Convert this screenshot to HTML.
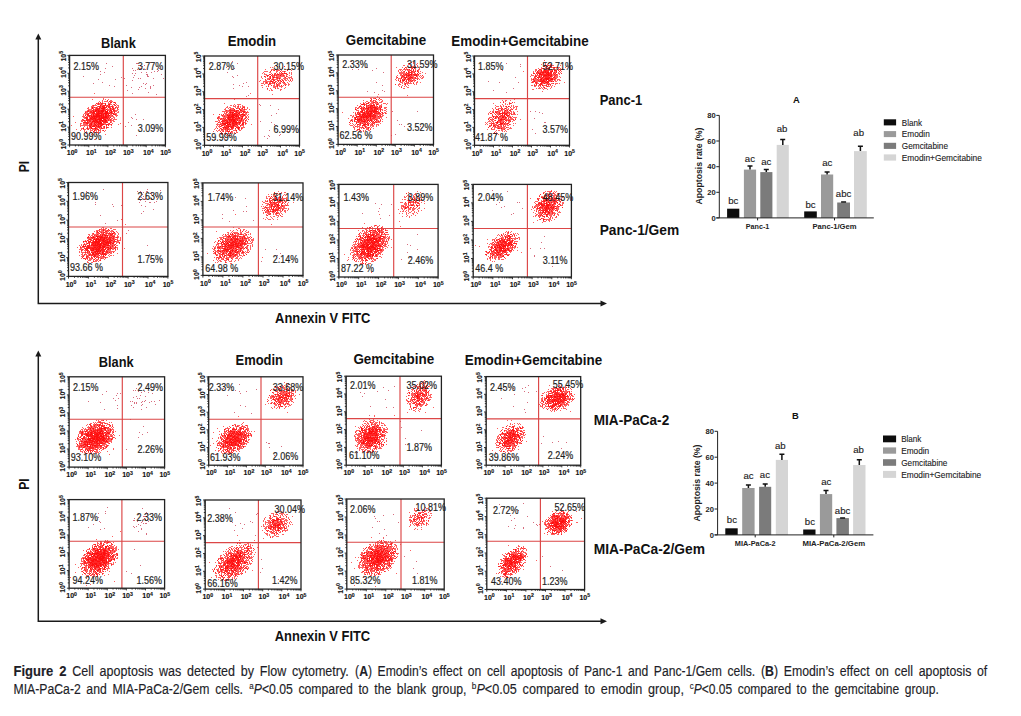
<!DOCTYPE html><html><head><meta charset="utf-8"><style>html,body{margin:0;padding:0;background:#fff;width:1021px;height:716px;overflow:hidden}svg{display:block}</style></head><body>
<svg width="1021" height="716" viewBox="0 0 1021 716" style="font-family:'Liberation Sans',Arial,sans-serif">
<rect width="1021" height="716" fill="#fff"/>
<g stroke="#1a1a1a" stroke-width="1.5" fill="none"><path d="M38.3 38V303.5H602"/><path d="M38.3 355V621.3H602"/></g>
<g fill="#1a1a1a"><path d="M38.3 33.5l-3 6h6z"/><path d="M38.3 350.5l-3 6h6z"/><path d="M607 303.5l-6.5-3v6z"/><path d="M607 621.3l-6.5-3v6z"/></g>
<defs><filter id="bl" x="0" y="0" width="1" height="1"><feGaussianBlur stdDeviation="0.3"/></filter></defs><g stroke="#ff0000" stroke-width="1" fill="none" filter="url(#bl)" transform="translate(0 0.5)">
<path stroke-opacity="0.62" d="M94 93h1m12 7h1m2 0h1m-12 1h1m5 0h1m3 0h2m-13 1h1m1 0h1m1 0h1m11 0h2m-18 1h1m2 0h1m1 0h3m9 0h1m-18 1h2m2 0h1m2 0h1m3 0h1m-18 1h1m3 0h1m3 0h1m3 0h2m1 0h2m3 0h1m2 0h1m1 0h1m-25 1h1m4 0h1m1 0h1m1 0h3m1 0h3m1 0h1m1 0h1m3 0h1m-26 1h2m1 0h2m1 0h1m1 0h2m2 0h3m2 0h1m1 0h1m1 0h1m3 0h1m1 0h1m-31 1h1m3 0h1m3 0h1m1 0h2m1 0h4m2 0h1m2 0h1m1 0h3m2 0h1m-29 1h1m1 0h1m2 0h2m1 0h2m1 0h1m1 0h3m1 0h1m3 0h2m6 0h1m-32 1h2m3 0h5m1 0h6m1 0h1m3 0h3m1 0h2m-28 1h1m1 0h3m1 0h1m1 0h1m1 0h3m1 0h3m1 0h3m1 0h3m1 0h2m1 0h1m-32 1h2m3 0h5m1 0h5m1 0h2m1 0h3m2 0h2m2 0h1m3 0h1m-35 1h1m1 0h1m3 0h1m1 0h3m1 0h7m1 0h6m1 0h3m2 0h1m-31 1h3m2 0h1m1 0h1m2 0h4m1 0h3m1 0h4m4 0h1m1 0h2m-34 1h1m1 0h1m1 0h2m1 0h1m1 0h12m1 0h5m5 0h1m1 0h1m-45 1h1m10 0h1m1 0h1m1 0h22m3 0h1m-31 1h1m1 0h3m1 0h1m1 0h7m1 0h10m1 0h1m3 0h1m-29 1h2m2 0h7m2 0h9m1 0h1m1 0h2m1 0h1m-32 1h1m3 0h15m2 0h2m4 0h1m2 0h1m-31 1h2m1 0h3m1 0h2m1 0h1m1 0h3m1 0h4m2 0h3m1 0h2m2 0h1m-33 1h1m3 0h1m1 0h1m1 0h2m1 0h3m1 0h2m1 0h5m1 0h2m3 0h1m3 0h1m-40 1h1m7 0h5m1 0h1m1 0h2m1 0h5m1 0h2m1 0h1m1 0h3m2 0h1m-31 1h1m3 0h1m1 0h2m2 0h2m2 0h2m2 0h4m1 0h1m5 0h1m10 0h1m-37 1h1m1 0h2m1 0h3m2 0h4m2 0h4m2 0h1m1 0h2m-39 1h1m13 0h1m1 0h1m5 0h10m8 0h1m-23 1h2m1 0h3m1 0h1m1 0h1m1 0h1m3 0h1m-22 1h1m3 0h1m1 0h1m1 0h1m3 0h1m2 0h1m2 0h1m1 0h2m1 0h1m1 0h1m-28 1h1m1 0h1m3 0h3m1 0h1m2 0h3m2 0h1m1 0h1m1 0h2m-20 1h1m1 0h1m5 0h1m1 0h4m-19 1h1m11 0h1m1 0h1m3 0h1m6 0h1m-13 1h1m10 0h1m-20 1h1m8 0h3m1 0h1m1 0h1m-15 1h1m2 0h1m6 1h1m8 0h1m-30 1h1"/>
<path stroke-opacity="0.62" d="M103 98h1m-1 1h1m-2 1h1m8 0h1m-8 1h1m4 0h1m1 0h1m-12 1h1m9 0h2m2 0h1m-19 1h2m1 0h2m1 0h1m5 0h1m1 0h1m4 0h1m-18 1h1m1 0h2m3 0h1m2 0h3m3 0h1m1 0h1m-24 1h1m6 0h1m2 0h2m1 0h1m2 0h1m4 0h2m-24 1h1m5 0h3m1 0h1m1 0h1m3 0h2m1 0h1m1 0h1m4 0h1m-27 1h1m3 0h1m2 0h1m1 0h4m1 0h1m2 0h1m2 0h1m2 0h1m1 0h1m-27 1h2m4 0h3m1 0h4m4 0h3m1 0h1m-21 1h1m2 0h2m1 0h1m3 0h1m2 0h5m1 0h2m-25 1h1m5 0h5m1 0h4m2 0h1m2 0h2m1 0h2m2 0h1m-33 1h1m2 0h1m1 0h7m1 0h10m3 0h1m3 0h1m-29 1h1m1 0h1m2 0h2m2 0h3m2 0h2m1 0h4m2 0h3m1 0h1m2 0h1m-30 1h2m1 0h11m1 0h5m1 0h1m3 0h1m-29 1h1m1 0h2m3 0h2m1 0h4m2 0h1m1 0h4m1 0h1m1 0h2m1 0h3m-31 1h1m1 0h3m1 0h1m1 0h1m1 0h7m1 0h3m1 0h1m1 0h2m1 0h1m3 0h1m-34 1h1m3 0h1m1 0h1m1 0h1m1 0h7m1 0h1m1 0h6m1 0h3m3 0h1m-33 1h1m1 0h2m2 0h1m1 0h3m1 0h4m1 0h10m-27 1h4m2 0h6m2 0h6m3 0h3m-28 1h1m3 0h8m1 0h7m1 0h3m1 0h2m2 0h1m4 0h1m-36 1h4m3 0h3m2 0h4m2 0h8m1 0h1m1 0h1m-24 1h1m1 0h12m1 0h1m1 0h2m1 0h1m5 0h1m-29 1h2m1 0h1m4 0h3m1 0h5m2 0h1m6 0h1m-31 1h1m1 0h1m2 0h6m2 0h1m1 0h7m2 0h1m3 0h1m-27 1h1m1 0h1m3 0h3m1 0h3m2 0h2m1 0h3m3 0h1m3 0h1m6 0h1m-37 1h2m4 0h9m1 0h1m2 0h1m4 0h1m1 0h1m-29 1h1m3 0h1m2 0h1m2 0h5m2 0h5m4 0h1m-20 1h1m2 0h2m3 0h1m3 0h1m1 0h1m2 0h1m1 0h2m-25 1h1m2 0h1m3 0h6m5 0h2m3 0h1m-23 1h1m3 0h1m3 0h1m2 0h1m4 0h1m-11 1h1m3 0h3m1 0h1m1 0h1m1 0h2m-18 1h1m9 0h1m1 0h1m-8 1h1m5 0h1m-9 1h1m2 0h1m5 0h1m-8 1h1m-3 3h1m6 1h1"/>
<path stroke-opacity="0.62" d="M92 99h1m12 0h1m2 0h1m-2 1h1m-6 1h1m3 0h2m4 0h1m-5 1h1m1 0h2m1 0h2m-19 1h1m1 0h1m2 0h2m2 0h1m3 0h1m-15 1h1m1 0h1m3 0h1m3 0h1m2 0h2m1 0h1m1 0h2m-22 1h3m4 0h4m1 0h1m1 0h1m1 0h1m8 0h1m-28 1h1m5 0h1m1 0h1m1 0h3m2 0h1m2 0h1m1 0h2m-25 1h1m3 0h3m1 0h1m3 0h1m1 0h5m1 0h2m2 0h2m1 0h1m-29 1h1m4 0h2m1 0h3m1 0h7m4 0h1m2 0h1m1 0h1m1 0h1m-30 1h1m1 0h1m2 0h1m1 0h5m1 0h6m5 0h3m2 0h1m-30 1h1m1 0h4m1 0h4m1 0h6m1 0h2m1 0h1m2 0h1m1 0h2m-31 1h3m4 0h11m1 0h3m1 0h1m1 0h2m1 0h1m3 0h1m-34 1h1m4 0h2m1 0h2m3 0h5m2 0h7m2 0h1m-30 1h1m1 0h2m5 0h1m2 0h16m1 0h2m-33 1h1m3 0h1m3 0h1m1 0h11m1 0h2m1 0h1m5 0h1m-30 1h1m3 0h3m1 0h2m1 0h8m1 0h2m1 0h2m1 0h2m-31 1h1m6 0h1m1 0h13m1 0h2m-22 1h1m4 0h3m1 0h3m1 0h9m3 0h1m2 0h1m-25 1h3m1 0h15m-26 1h1m3 0h1m5 0h1m1 0h2m1 0h5m1 0h4m1 0h3m3 0h2m-31 1h3m1 0h1m2 0h15m1 0h1m2 0h2m-31 1h1m1 0h1m3 0h1m3 0h9m1 0h5m4 0h1m-29 1h2m2 0h2m1 0h3m2 0h7m1 0h5m2 0h1m-26 1h1m1 0h1m3 0h4m1 0h1m1 0h4m2 0h1m3 0h1m3 0h1m-33 1h1m10 0h2m2 0h1m1 0h4m1 0h7m1 0h2m-32 1h2m2 0h1m1 0h1m2 0h3m4 0h1m1 0h1m1 0h2m4 0h1m1 0h1m-20 1h2m1 0h9m2 0h2m-15 1h2m3 0h6m6 0h1m3 0h1m-30 1h2m3 0h1m3 0h2m2 0h3m2 0h1m1 0h1m-27 1h1m4 0h1m1 0h1m4 0h1m1 0h1m3 0h1m2 0h2m-15 1h1m6 0h1m2 0h1m4 0h1m3 0h1m-20 1h1m5 0h1m2 0h2m5 0h1m-11 1h2m1 0h1m3 0h1m-12 1h1m6 1h1m0 5h1"/>
<path stroke-opacity="0.62" d="M274 66h1m2 0h1m1 0h1m4 0h1m-15 1h1m-6 2h1m9 0h1m1 0h2m1 0h1m9 0h1m-20 1h1m2 0h1m1 0h1m1 0h1m8 0h1m-21 1h1m2 0h1m9 0h1m2 0h2m-22 1h1m5 0h1m9 0h1m1 0h1m2 0h1m-14 1h1m3 0h1m1 0h1m2 0h1m1 0h5m2 0h1m1 0h1m-23 1h2m1 0h1m1 0h2m1 0h3m1 0h1m1 0h1m2 0h2m-21 1h2m6 0h2m2 0h2m2 0h2m-24 1h1m2 0h1m5 0h1m6 0h1m2 0h2m5 0h1m-27 1h1m8 0h1m2 0h1m2 0h3m5 0h2m2 0h2m-23 1h1m1 0h2m6 0h3m4 0h1m7 0h1m-25 1h1m2 0h3m2 0h1m10 0h1m2 0h1m-26 1h1m8 0h1m2 0h1m8 0h1m-23 1h2m1 0h1m1 0h5m4 0h1m2 0h1m1 0h1m7 0h1m-26 1h1m2 0h1m2 0h1m1 0h1m2 0h1m1 0h1m2 0h1m1 0h1m-22 1h1m2 0h1m2 0h1m4 0h1m5 0h1m2 0h1m1 0h1m-9 1h2m5 0h2m-25 1h2m13 0h2m3 0h1m3 0h1m-18 1h1m4 0h1m1 0h3m3 0h1m-9 1h2m2 0h1m3 0h1m-15 1h1m7 0h1m1 0h1m-11 1h1m12 0h1m-12 1h1m10 0h1m-9 4h1m-39 5h1m2 5h1m-7 1h1m3 0h1m-9 1h1m5 0h1m6 0h1m2 0h1m-17 1h1m2 0h1m7 0h1m5 0h1m-14 1h1m4 0h1m1 0h1m2 0h2m1 0h1m-21 1h2m4 0h1m3 0h1m4 0h2m5 0h1m-22 1h2m2 0h1m1 0h2m1 0h5m1 0h2m1 0h1m-19 1h1m2 0h1m5 0h1m1 0h2m1 0h1m2 0h1m-17 1h1m2 0h2m1 0h2m1 0h5m3 0h2m1 0h2m-23 1h1m4 0h1m1 0h1m1 0h2m1 0h2m4 0h1m-31 1h1m5 0h1m1 0h1m1 0h1m1 0h2m2 0h5m1 0h3m3 0h3m-21 1h3m1 0h8m1 0h1m1 0h1m1 0h1m1 0h3m2 0h1m-29 1h1m3 0h2m2 0h2m1 0h9m1 0h1m1 0h1m3 0h1m-29 1h1m8 0h4m1 0h3m1 0h3m3 0h1m2 0h1m-29 1h3m2 0h1m1 0h2m2 0h1m1 0h4m1 0h1m2 0h5m1 0h1m2 0h1m-30 1h1m1 0h1m1 0h3m1 0h1m1 0h7m1 0h2m2 0h2m6 0h1m-26 1h5m1 0h3m1 0h8m1 0h2m1 0h2m-31 1h2m4 0h1m3 0h2m2 0h1m1 0h4m2 0h1m1 0h1m-23 1h1m1 0h1m1 0h1m3 0h3m1 0h1m1 0h2m1 0h2m1 0h2m-20 1h8m1 0h1m2 0h6m2 0h1m1 0h2m1 0h2m-30 1h1m2 0h6m1 0h6m1 0h3m2 0h1m1 0h3m1 0h1m5 0h1m-33 1h1m1 0h2m2 0h3m3 0h1m1 0h1m3 0h1m2 0h1m-23 1h1m1 0h2m4 0h1m1 0h8m1 0h1m-19 1h1m3 0h1m1 0h2m1 0h1m1 0h4m4 0h2m1 0h2m-26 1h1m2 0h2m1 0h1m1 0h1m1 0h1m3 0h1m3 0h1m2 0h1m2 0h1m-19 1h1m1 0h2m1 0h1m1 0h2m3 0h1m2 0h1m2 0h1m-24 1h1m2 0h2m2 0h1m1 0h1m6 0h1m1 0h1m3 0h1m-24 1h1m4 0h1m4 0h3m-9 1h1m3 0h1m2 0h1m2 0h1m-12 1h1m1 0h1m1 0h1m5 0h1m1 0h1m-11 1h1m3 1h1m3 0h1"/>
<path stroke-opacity="0.62" d="M282 68h1m5 0h1m-18 1h1m1 0h1m-3 1h1m2 0h1m2 0h1m3 0h1m5 0h1m3 0h1m-28 1h3m9 0h1m8 0h1m-16 1h1m10 0h1m7 0h1m-26 1h1m9 0h2m6 0h1m1 0h1m1 0h1m-23 1h1m1 0h1m2 0h2m5 0h3m1 0h1m1 0h1m8 0h1m-25 1h2m2 0h2m1 0h1m1 0h1m1 0h1m1 0h4m-20 1h2m1 0h1m1 0h2m1 0h3m11 0h1m4 0h1m-20 1h3m1 0h2m2 0h1m9 0h2m-22 1h1m1 0h2m2 0h2m1 0h2m6 0h1m-23 1h1m1 0h1m1 0h1m2 0h1m1 0h2m3 0h1m4 0h1m7 0h1m-33 1h1m5 0h1m3 0h1m2 0h1m4 0h1m1 0h1m1 0h1m2 0h1m2 0h1m1 0h1m1 0h1m-34 1h1m3 0h1m6 0h3m2 0h2m1 0h1m2 0h1m1 0h1m-19 1h2m3 0h1m1 0h1m1 0h1m5 0h1m2 0h1m-23 1h1m3 0h1m3 0h2m3 0h1m1 0h1m1 0h1m5 0h1m-21 1h1m3 0h2m4 0h1m2 0h1m1 0h1m-9 1h1m1 0h1m3 0h1m1 0h1m1 0h1m3 0h1m2 0h1m-23 1h1m1 0h1m10 0h2m4 1h1m-16 1h1m4 0h1m2 0h1m-8 1h1m-48 14h1m9 1h1m3 0h3m-8 1h1m4 0h1m-5 1h2m1 0h2m-13 1h1m8 0h1m7 0h2m-17 1h1m1 0h1m2 0h1m2 0h2m1 0h1m2 0h1m4 0h1m-16 1h1m1 0h1m5 0h1m3 0h1m-19 1h2m1 0h2m1 0h2m2 0h3m1 0h3m-21 1h1m1 0h1m1 0h1m3 0h1m1 0h1m1 0h3m1 0h1m2 0h1m1 0h3m-19 1h1m1 0h5m2 0h1m2 0h3m1 0h2m1 0h1m-19 1h1m1 0h1m1 0h3m1 0h1m1 0h2m2 0h1m2 0h2m-28 1h1m3 0h1m3 0h2m3 0h4m1 0h1m1 0h1m1 0h5m-25 1h2m3 0h2m1 0h1m1 0h7m1 0h1m3 0h2m-23 1h1m1 0h3m1 0h6m1 0h4m2 0h3m1 0h1m-29 1h2m4 0h2m1 0h9m1 0h1m1 0h5m3 0h1m-27 1h2m1 0h1m3 0h3m2 0h1m1 0h6m1 0h1m3 0h1m-18 1h8m1 0h1m1 0h1m1 0h4m1 0h1m1 0h1m-30 1h1m2 0h1m2 0h1m1 0h3m1 0h4m2 0h1m3 0h1m3 0h1m-31 1h1m5 0h1m1 0h2m1 0h6m1 0h4m2 0h3m-23 1h1m2 0h4m1 0h4m1 0h1m1 0h7m1 0h3m-28 1h1m4 0h9m1 0h5m1 0h2m2 0h2m1 0h1m-30 1h1m2 0h1m3 0h3m1 0h4m1 0h2m2 0h3m4 0h1m-27 1h1m4 0h1m1 0h1m1 0h1m1 0h1m1 0h1m1 0h4m1 0h1m-18 1h1m3 0h1m1 0h7m3 0h1m1 0h1m1 0h1m-18 1h3m1 0h2m2 0h3m2 0h4m-23 1h1m2 0h1m4 0h2m2 0h1m1 0h3m4 0h1m2 0h2m-29 1h1m6 0h2m4 0h1m1 0h1m2 0h1m6 0h1m-21 1h1m3 0h1m3 0h1m8 0h1m2 0h1m-20 1h1m2 0h1m2 0h1m1 0h1m2 0h2m3 0h1m-7 1h1m1 0h1m1 0h1m1 0h2m-17 1h2m2 0h1m2 0h1m1 0h1m4 0h1m-11 1h1m1 0h1m0 1h2m-15 4h1"/>
<path stroke-opacity="0.62" d="M284 66h1m-13 1h1m9 0h1m-11 2h1m12 0h1m-13 1h1m5 0h1m-10 1h1m6 0h1m2 0h1m1 0h1m1 0h1m-9 1h1m14 0h1m-30 1h1m16 0h1m1 0h2m1 0h2m-21 1h1m6 0h1m1 0h1m3 0h1m2 0h1m5 0h1m-22 1h1m4 0h1m1 0h2m2 0h1m2 0h1m5 0h1m2 0h1m-26 1h1m2 0h1m2 0h1m1 0h1m3 0h1m1 0h2m2 0h3m1 0h1m-22 1h1m3 0h2m2 0h3m3 0h1m5 0h1m-24 1h1m5 0h1m1 0h1m8 0h1m3 0h1m1 0h2m2 0h1m1 0h1m-27 1h1m3 0h1m3 0h1m3 0h1m3 0h2m2 0h1m-15 1h1m1 0h2m2 0h4m1 0h2m6 0h1m-25 1h1m1 0h1m2 0h1m3 0h1m4 0h2m7 0h1m-27 1h1m3 0h1m5 0h3m8 0h1m2 0h1m-26 1h1m4 0h1m1 0h5m2 0h1m2 0h2m7 0h1m-21 1h1m1 0h1m5 0h1m9 0h1m1 0h2m-22 1h1m2 0h1m2 0h1m3 0h1m4 0h1m-10 1h1m2 0h1m4 0h1m-21 1h1m12 0h1m-9 1h1m16 0h1m-4 1h1m-11 1h2m-23 3h1m-21 12h1m11 0h1m-5 1h1m3 0h1m1 0h1m-16 1h1m7 0h1m2 0h1m1 0h2m3 0h1m-23 1h1m6 0h2m5 0h1m2 0h1m-14 1h3m1 0h2m4 0h1m1 0h5m3 0h1m-22 1h1m1 0h2m1 0h2m5 0h1m3 0h1m-22 1h1m3 0h1m1 0h3m1 0h4m3 0h1m1 0h3m2 0h1m-24 1h1m1 0h1m3 0h4m3 0h1m1 0h1m1 0h1m3 0h1m2 0h1m-25 1h1m1 0h1m2 0h1m1 0h2m1 0h3m1 0h2m-17 1h1m3 0h1m1 0h6m1 0h7m1 0h1m1 0h1m1 0h1m-27 1h1m4 0h4m1 0h7m1 0h2m2 0h2m-28 1h1m9 0h2m1 0h3m1 0h2m1 0h1m2 0h2m5 0h1m-30 1h1m5 0h1m2 0h8m2 0h2m2 0h1m3 0h1m1 0h1m-32 1h1m3 0h1m1 0h1m1 0h1m1 0h4m1 0h2m1 0h3m1 0h1m1 0h2m2 0h1m-26 1h2m2 0h13m1 0h1m2 0h1m-24 1h1m3 0h5m2 0h7m1 0h1m1 0h3m1 0h1m-25 1h1m1 0h5m1 0h1m1 0h1m1 0h4m1 0h1m5 0h2m1 0h1m1 0h1m-30 1h1m6 0h13m1 0h2m2 0h1m1 0h1m-24 1h6m1 0h1m1 0h3m3 0h1m1 0h1m2 0h1m-25 1h1m1 0h1m3 0h2m1 0h4m2 0h4m2 0h1m2 0h1m-22 1h3m2 0h5m1 0h3m1 0h1m3 0h4m-28 1h1m2 0h1m4 0h2m1 0h3m3 0h1m1 0h1m7 0h1m-28 1h1m5 0h7m2 0h1m4 0h2m1 0h1m3 0h2m-30 1h1m7 0h2m1 0h3m3 0h1m2 0h1m1 0h3m-21 1h1m1 0h2m1 0h2m1 0h2m1 0h1m7 0h1m-23 1h1m9 0h1m2 0h1m3 0h1m1 0h2m-24 1h1m6 0h1m2 0h1m1 0h1m1 0h3m1 0h1m-11 1h1m8 0h1m-11 1h1m4 0h1m2 0h1m6 0h1m-15 1h1m5 0h1m1 1h1m-7 2h1m0 1h1"/>
<path stroke-opacity="0.62" d="M413 63h1m-6 1h1m4 2h1m3 0h1m-7 1h1m2 0h2m-12 1h1m1 0h1m4 0h2m1 0h2m3 0h1m-21 1h1m7 0h3m1 0h1m6 0h1m-19 1h1m10 0h1m1 0h1m1 0h1m1 0h1m-20 1h1m4 0h2m3 0h1m3 0h1m1 0h2m2 0h1m-19 1h1m5 0h1m1 0h1m1 0h1m1 0h1m1 0h1m3 0h1m3 0h1m-23 1h3m3 0h3m2 0h2m2 0h1m1 0h1m-18 1h2m1 0h2m1 0h1m1 0h4m1 0h1m1 0h2m1 0h1m-18 1h1m3 0h1m2 0h5m1 0h1m1 0h1m1 0h1m3 0h1m-27 1h1m5 0h3m1 0h2m1 0h2m1 0h1m4 0h1m1 0h1m-19 1h2m1 0h3m4 0h2m2 0h1m1 0h1m2 0h1m-18 1h1m1 0h1m1 0h2m1 0h2m3 0h1m5 0h1m-22 1h1m3 0h4m1 0h1m-12 1h1m1 0h1m2 0h1m2 0h1m1 0h1m1 0h1m1 0h1m1 0h2m-16 1h1m2 0h1m2 0h1m1 0h1m5 0h1m2 0h1m-11 1h2m7 0h1m-15 1h1m6 0h1m3 0h1m-16 1h1m5 0h2m8 0h1m-16 2h1m4 0h1m2 1h1m-5 1h1m3 7h1m-34 3h2m3 0h1m-9 1h1m4 0h1m-14 1h1m15 0h1m-5 1h1m5 0h1m-19 1h1m4 0h1m8 0h1m1 0h1m-20 1h1m2 0h1m2 0h1m1 0h1m14 0h2m-24 1h4m1 0h1m2 0h2m2 0h1m2 0h3m7 0h1m-23 1h1m1 0h1m1 0h1m2 0h4m-16 1h3m1 0h1m2 0h1m1 0h1m1 0h3m3 0h2m3 0h1m-27 1h2m4 0h1m2 0h1m1 0h1m1 0h1m1 0h1m1 0h5m4 0h1m4 0h1m-32 1h1m1 0h1m3 0h1m1 0h1m1 0h1m1 0h2m1 0h2m2 0h2m1 0h1m1 0h2m3 0h1m-30 1h2m4 0h1m1 0h1m1 0h8m1 0h2m4 0h1m5 0h1m-31 1h3m3 0h1m1 0h1m1 0h2m1 0h2m1 0h5m1 0h1m1 0h1m-21 1h1m1 0h1m3 0h12m2 0h1m-24 1h4m1 0h4m1 0h2m1 0h2m1 0h7m2 0h1m-26 1h1m1 0h1m4 0h1m1 0h3m1 0h3m1 0h1m1 0h4m2 0h1m-26 1h7m1 0h7m1 0h2m4 0h2m1 0h1m-23 1h1m1 0h9m1 0h1m2 0h3m1 0h2m-25 1h1m1 0h17m3 0h1m1 0h3m-29 1h2m1 0h1m1 0h10m1 0h2m1 0h2m3 0h1m7 0h1m-39 1h1m6 0h1m1 0h1m2 0h2m2 0h1m2 0h1m2 0h3m2 0h1m1 0h1m1 0h1m-28 1h1m1 0h2m2 0h4m2 0h1m1 0h1m1 0h1m1 0h3m3 0h1m3 0h1m-30 1h1m5 0h3m1 0h2m2 0h1m1 0h2m1 0h2m2 0h1m1 0h1m3 0h1m-29 1h1m1 0h1m2 0h2m2 0h5m3 0h1m1 0h2m5 0h1m-30 1h1m6 0h1m2 0h3m4 0h2m5 0h2m-25 1h1m1 0h1m3 0h1m2 0h2m1 0h2m3 0h1m1 0h1m1 0h4m5 0h1m-28 1h1m3 0h3m4 0h3m1 0h1m3 0h1m1 0h1m2 0h2m-25 1h1m2 0h1m4 0h3m-8 1h1m4 0h1m-10 1h1m3 0h1m3 0h2m2 0h1m2 0h2m1 0h1m-9 1h1m2 0h3m1 0h1m2 0h1m-20 1h1m2 0h3m10 0h1m-12 1h2m2 0h1m4 0h1m-8 1h1m1 0h1"/>
<path stroke-opacity="0.62" d="M411 62h1m1 0h1m3 1h1m-9 1h1m-6 1h1m12 0h1m-6 1h1m2 0h1m-20 1h1m8 0h1m2 0h1m1 0h2m2 1h1m-15 1h1m4 0h1m7 0h1m5 0h1m-22 1h1m6 0h1m3 0h2m2 0h1m3 0h1m-14 1h1m4 0h1m1 0h1m1 0h1m1 0h1m1 0h1m-17 1h1m1 0h2m1 0h1m2 0h3m2 0h1m-8 1h1m6 0h1m2 0h1m-13 1h3m1 0h7m2 0h1m-22 1h1m4 0h3m1 0h4m3 0h5m2 0h1m1 0h1m-20 1h1m4 0h1m2 0h1m4 0h1m4 0h1m-25 1h1m3 0h1m2 0h1m1 0h2m1 0h7m-20 1h1m1 0h1m1 0h2m3 0h1m2 0h3m1 0h1m1 0h1m1 0h1m1 0h1m-24 1h1m6 0h1m1 0h1m2 0h3m1 0h1m2 0h1m2 0h1m-22 1h1m3 0h1m1 0h3m3 0h1m2 0h1m1 0h1m1 0h1m-6 1h2m-12 1h2m2 0h1m12 0h1m-19 1h1m5 0h1m1 0h2m1 0h1m-16 1h1m11 0h1m8 0h1m-19 1h1m3 0h1m2 0h1m-5 1h1m-1 1h1m2 1h1m-27 6h1m-2 2h1m-7 2h1m7 0h1m-9 1h1m4 0h1m4 0h1m-12 1h1m2 0h1m-3 1h3m1 0h2m-9 1h1m2 0h1m1 0h2m1 0h2m2 0h1m-15 1h2m3 0h1m1 0h1m3 0h1m7 0h1m-24 1h1m10 0h2m2 0h1m3 0h1m-22 1h1m5 0h1m1 0h5m1 0h1m1 0h1m2 0h3m-13 1h3m2 0h2m1 0h1m1 0h3m-24 1h1m2 0h4m3 0h4m1 0h4m1 0h4m2 0h2m-29 1h2m1 0h2m1 0h1m2 0h4m1 0h2m2 0h3m2 0h1m4 0h1m-31 1h1m5 0h3m4 0h1m4 0h2m1 0h3m1 0h1m-20 1h4m1 0h4m1 0h2m1 0h1m5 0h1m1 0h1m2 0h1m-25 1h2m1 0h14m2 0h1m5 0h1m-34 1h1m1 0h1m1 0h1m3 0h1m2 0h1m1 0h1m1 0h1m2 0h5m2 0h1m2 0h2m-28 1h1m1 0h1m1 0h1m2 0h4m1 0h6m1 0h3m1 0h1m1 0h1m4 0h2m-32 1h2m1 0h3m1 0h4m1 0h4m2 0h1m4 0h1m2 0h1m-32 1h2m3 0h1m3 0h1m1 0h2m1 0h3m1 0h8m4 0h1m-25 1h4m1 0h1m1 0h1m1 0h3m1 0h2m1 0h1m2 0h2m1 0h1m1 0h1m-29 1h1m1 0h3m1 0h1m2 0h1m1 0h2m1 0h5m1 0h5m2 0h1m-25 1h1m1 0h3m3 0h1m2 0h2m1 0h2m2 0h2m1 0h1m-26 1h1m3 0h7m1 0h5m2 0h1m4 0h1m1 0h1m-28 1h3m1 0h1m2 0h5m2 0h2m1 0h2m1 0h2m2 0h1m1 0h1m3 0h1m-31 1h1m1 0h1m1 0h1m3 0h8m1 0h1m1 0h1m3 0h1m1 0h1m3 0h1m2 0h1m-34 1h1m6 0h3m5 0h1m7 0h1m1 0h1m1 0h3m-18 1h1m2 0h2m1 0h1m5 0h1m-25 1h1m5 0h1m2 0h1m1 0h1m2 0h6m2 0h2m-23 1h2m7 0h2m1 0h1m4 0h2m1 0h2m1 0h1m2 0h1m1 0h1m-24 1h2m1 0h1m6 0h1m4 0h1m2 0h1m-12 1h1m2 0h1m2 0h1m-8 1h1m-5 1h1m1 0h1m6 0h2m2 0h1m-14 1h1m2 0h1m4 0h1m3 0h1"/>
<path stroke-opacity="0.62" d="M408 63h1m7 1h1m-14 1h1m6 0h1m3 0h1m-8 1h1m3 0h1m-10 1h1m2 0h2m2 0h1m2 0h1m1 0h1m4 0h1m-16 1h1m7 0h1m-12 1h1m1 0h2m1 0h2m1 0h1m3 0h1m1 0h1m-14 1h1m4 0h2m1 0h1m2 0h1m4 0h1m-18 1h1m6 0h1m2 0h2m4 0h1m2 0h1m-22 1h1m2 0h1m3 0h1m1 0h2m1 0h1m1 0h1m4 0h1m-20 1h1m3 0h3m2 0h2m1 0h1m7 0h2m4 0h1m-23 1h1m1 0h2m1 0h1m1 0h2m2 0h1m1 0h3m-19 1h1m1 0h1m1 0h1m1 0h4m1 0h1m3 0h2m-16 1h2m3 0h1m1 0h1m1 0h1m2 0h1m2 0h1m6 0h1m-28 1h2m3 0h1m1 0h4m1 0h4m10 0h2m-25 1h1m1 0h1m2 0h2m2 0h2m2 0h2m1 0h1m1 0h1m4 0h1m-25 1h1m3 0h3m3 0h1m1 0h1m2 0h1m3 0h1m1 0h1m-22 1h1m1 0h1m1 0h3m1 0h1m1 0h3m1 0h1m-14 1h2m1 0h1m2 0h2m2 0h1m1 0h2m-11 1h1m3 0h1m1 0h1m1 0h1m2 0h1m6 0h1m-17 1h3m4 0h1m1 0h1m2 0h1m-22 1h1m3 0h2m4 0h1m2 1h1m-3 1h1m-6 1h1m6 0h1m-39 11h1m2 0h1m1 0h1m2 1h1m1 0h1m-11 1h2m1 0h3m6 0h1m-17 1h2m2 0h1m11 0h1m-18 1h1m3 0h1m2 0h4m5 0h1m-19 1h2m2 0h2m1 0h1m1 0h1m2 0h2m1 0h1m8 0h1m-27 1h5m5 0h1m4 0h2m-21 1h1m6 0h1m2 0h2m1 0h5m-16 1h2m5 0h2m2 0h1m1 0h3m4 0h1m-21 1h1m4 0h1m1 0h10m1 0h1m1 0h1m-20 1h1m1 0h7m1 0h9m1 0h1m-26 1h1m8 0h1m2 0h2m1 0h3m1 0h4m1 0h1m1 0h2m-21 1h1m4 0h1m2 0h7m7 0h1m-27 1h1m1 0h3m3 0h1m2 0h3m1 0h6m-37 1h1m15 0h1m2 0h4m1 0h6m1 0h1m2 0h1m2 0h1m4 0h2m-31 1h1m2 0h3m2 0h9m3 0h1m1 0h1m1 0h2m1 0h2m1 0h1m-28 1h1m3 0h4m1 0h1m1 0h9m-25 1h1m2 0h1m2 0h2m1 0h3m1 0h6m1 0h3m6 0h2m-32 1h2m2 0h3m1 0h16m1 0h3m-24 1h1m3 0h7m1 0h1m1 0h1m4 0h1m1 0h1m2 0h2m-28 1h2m3 0h5m1 0h4m1 0h1m1 0h3m3 0h2m1 0h1m-27 1h5m1 0h4m1 0h1m1 0h2m1 0h1m1 0h4m5 0h1m-32 1h1m2 0h1m2 0h1m2 0h1m1 0h3m1 0h7m4 0h2m-24 1h2m2 0h1m3 0h2m1 0h2m1 0h1m1 0h1m1 0h1m1 0h4m1 0h1m-23 1h1m1 0h1m1 0h5m1 0h1m1 0h1m1 0h1m1 0h3m2 0h1m-24 1h1m3 0h1m1 0h1m2 0h1m1 0h2m-12 1h1m2 0h1m2 0h2m3 0h1m1 0h1m1 0h1m3 0h1m-25 1h1m10 0h3m2 0h1m3 0h1m-20 1h1m1 0h1m3 0h1m4 0h3m5 0h1m3 0h1m-23 1h1m4 0h2m2 0h1m2 0h2m-14 1h1m4 0h1m3 0h2m3 0h1m-11 1h1m9 0h1m-13 1h1"/>
<path stroke-opacity="0.62" d="M549 62h1m-7 1h1m4 0h1m-2 1h1m2 0h2m-7 1h4m1 0h3m7 0h1m-18 1h2m6 0h1m-7 1h1m3 0h1m1 0h4m2 0h1m1 0h1m-16 1h1m2 0h3m4 0h1m3 0h1m-23 1h1m3 0h1m3 0h1m2 0h1m4 0h1m1 0h2m2 0h2m-22 1h2m1 0h1m2 0h1m1 0h4m2 0h1m1 0h1m3 0h1m1 0h1m-26 1h1m1 0h2m2 0h2m1 0h4m2 0h3m3 0h1m2 0h1m-27 1h1m5 0h1m2 0h2m1 0h1m1 0h2m2 0h1m4 0h1m-24 1h2m2 0h1m1 0h4m1 0h5m1 0h2m3 0h1m-17 1h4m2 0h4m1 0h1m1 0h4m-21 1h1m5 0h2m1 0h8m1 0h1m-24 1h1m3 0h1m3 0h2m3 0h1m1 0h2m3 0h3m1 0h1m-20 1h1m1 0h4m1 0h2m1 0h1m1 0h1m1 0h3m1 0h3m-18 1h1m1 0h3m2 0h5m1 0h2m-20 1h2m2 0h1m2 0h2m1 0h1m2 0h4m1 0h2m1 0h1m2 0h1m-24 1h1m1 0h1m1 0h1m1 0h1m1 0h2m1 0h2m1 0h2m5 0h1m3 0h1m-27 1h3m3 0h2m1 0h4m1 0h1m1 0h3m1 0h1m-23 1h2m3 0h1m5 0h2m2 0h3m-14 1h2m3 0h2m1 0h2m2 0h3m1 0h1m1 0h1m1 0h3m-19 1h3m4 0h3m6 0h1m-22 1h3m3 0h1m1 0h1m3 0h1m3 0h1m-16 1h1m2 0h1m8 0h1m-9 1h1m1 0h1m2 0h1m-3 1h1m2 0h2m-14 1h1m8 2h1m-29 8h1m-13 1h1m2 0h1m6 2h1m-8 1h1m3 0h1m1 0h1m-10 1h1m2 0h1m-8 2h1m2 0h1m3 0h1m2 0h2m3 0h1m-13 1h1m4 0h2m2 0h1m-19 1h1m2 0h1m3 0h1m2 0h1m2 0h1m10 0h1m-21 1h1m1 0h1m2 0h2m12 0h1m-23 1h1m4 0h1m1 0h1m1 0h1m2 0h1m3 0h1m-20 1h1m1 0h2m1 0h1m1 0h2m5 0h4m3 0h1m1 0h1m-25 1h1m5 0h5m2 0h6m1 0h1m1 0h1m2 0h1m-25 1h2m5 0h1m1 0h2m2 0h4m4 0h1m2 0h1m-27 1h1m3 0h1m2 0h1m6 0h1m1 0h2m5 0h1m2 0h1m-23 1h1m3 0h1m1 0h1m2 0h2m1 0h1m1 0h3m-16 1h2m1 0h2m1 0h2m1 0h3m2 0h1m1 0h2m1 0h1m-23 1h1m2 0h1m1 0h2m5 0h2m1 0h2m2 0h3m-24 1h2m5 0h1m2 0h1m2 0h1m2 0h1m5 0h1m-21 1h1m2 0h1m5 0h3m1 0h3m1 0h1m2 0h1m2 0h1m1 0h1m-22 1h2m2 0h6m1 0h1m2 0h1m-21 1h3m6 0h3m3 0h1m-8 1h2m1 0h1m3 0h1m5 0h1m-24 1h1m3 0h1m1 0h3m2 0h1m2 0h4m3 0h2m4 0h1m1 0h1m-29 1h1m11 0h1m1 0h1m2 0h1m4 0h1m-20 1h1m2 0h2m5 0h1m2 0h1m3 0h1m-15 1h1m1 0h1m2 0h1m1 0h1m4 0h1m-18 1h1m6 0h2m1 0h1m2 0h2m1 0h1m5 0h1m-20 1h1m6 0h2m1 0h4m4 0h1m1 0h1m-9 1h1m-5 1h1m-5 1h1m8 0h1m-9 1h1m-6 1h1m1 0h1m1 0h1"/>
<path stroke-opacity="0.62" d="M545 63h1m-5 1h1m3 0h1m3 1h2m2 0h1m-10 1h1m1 0h2m3 0h1m-4 1h2m3 0h3m9 0h1m-24 1h2m2 0h1m1 0h2m12 0h1m-24 1h1m1 0h1m2 0h1m1 0h1m4 0h1m7 0h1m-25 1h2m4 0h1m1 0h3m2 0h1m1 0h1m1 0h1m1 0h3m1 0h1m1 0h1m-28 1h1m3 0h1m3 0h1m1 0h3m2 0h1m2 0h2m2 0h2m2 0h1m1 0h1m-26 1h3m1 0h9m1 0h2m1 0h4m-24 1h1m2 0h1m1 0h3m2 0h1m2 0h1m1 0h2m3 0h3m5 0h1m-31 1h1m3 0h1m1 0h1m1 0h3m1 0h3m1 0h3m1 0h1m4 0h2m1 0h1m-28 1h1m4 0h1m1 0h3m1 0h4m1 0h5m2 0h2m-22 1h2m2 0h1m1 0h1m1 0h2m2 0h4m3 0h2m-22 1h1m2 0h1m4 0h3m1 0h4m3 0h2m1 0h2m2 0h1m-30 1h1m1 0h3m2 0h1m2 0h12m2 0h1m-25 1h3m1 0h2m1 0h4m1 0h6m1 0h5m4 0h1m-26 1h1m2 0h8m1 0h1m2 0h2m6 0h1m-26 1h1m1 0h1m2 0h1m1 0h7m1 0h2m2 0h3m1 0h1m-24 1h1m2 0h3m3 0h2m2 0h2m1 0h1m15 0h1m-29 1h2m3 0h2m1 0h1m1 0h2m4 0h2m-18 1h1m11 0h3m-19 1h1m1 0h1m4 0h1m2 0h1m1 0h1m7 0h1m-19 1h1m5 0h1m7 0h1m2 0h1m-8 1h1m6 0h1m-16 1h1m13 0h1m-19 1h1m10 0h1m3 0h1m-42 11h1m-7 2h1m2 0h1m8 0h1m-4 1h2m-4 1h1m1 0h1m-15 1h1m4 0h1m2 0h1m-1 1h1m2 0h1m1 0h1m-14 1h1m14 0h1m-11 1h2m2 0h3m-6 1h1m1 0h1m2 0h2m3 0h2m3 0h1m-16 1h1m3 0h1m1 0h1m2 0h1m-14 1h1m2 0h1m7 0h1m1 0h1m-19 1h2m2 0h1m7 0h1m2 0h1m1 0h1m-20 1h2m7 0h5m2 0h1m3 0h1m-16 1h1m1 0h1m1 0h2m1 0h1m1 0h1m1 0h2m1 0h1m1 0h2m-13 1h1m1 0h1m1 0h1m2 0h3m-17 1h1m1 0h1m1 0h1m1 0h1m-11 1h1m5 0h1m2 0h2m2 0h4m2 0h1m5 0h2m-24 1h1m3 0h1m1 0h1m1 0h1m4 0h2m1 0h1m3 0h1m2 0h1m-28 1h1m2 0h2m7 0h3m1 0h1m1 0h1m1 0h1m4 0h1m1 0h1m-24 1h1m13 0h4m-17 1h1m3 0h1m2 0h1m5 0h1m1 0h1m1 0h1m-20 1h1m1 0h1m1 0h3m2 0h1m1 0h2m1 0h1m-9 1h1m2 0h3m1 0h2m1 0h1m-17 1h1m2 0h1m1 0h1m1 0h3m4 0h2m2 0h2m-20 1h1m2 0h5m6 0h1m7 0h1m-25 1h1m5 0h1m2 0h2m1 0h1m1 0h1m-10 1h1m4 0h1m3 0h1m2 0h1m1 0h1m-18 1h1m2 0h1m3 0h1m1 0h2m8 0h1m-19 1h2m8 0h1m1 0h1m2 0h2m-13 1h1m5 0h1m-1 1h1m3 0h1m-13 1h1m-1 1h1m2 0h1"/>
<path stroke-opacity="0.62" d="M544 60h1m3 5h1m1 0h1m-8 1h1m3 0h1m2 0h1m-10 1h1m4 0h1m2 0h3m2 0h1m1 0h3m-21 1h1m2 0h2m2 0h1m1 0h3m3 0h1m6 0h1m-26 1h1m3 0h2m3 0h1m4 0h1m7 0h1m2 0h1m-23 1h1m1 0h2m2 0h4m3 0h1m2 0h3m-34 1h1m13 0h1m1 0h2m2 0h1m1 0h4m1 0h1m1 0h1m1 0h1m-18 1h2m1 0h12m2 0h1m3 0h1m1 0h1m-27 1h1m1 0h1m1 0h3m1 0h2m2 0h6m1 0h1m4 0h2m1 0h1m-25 1h1m1 0h6m1 0h6m2 0h1m1 0h1m-26 1h1m1 0h1m1 0h2m1 0h2m3 0h7m1 0h1m2 0h2m1 0h1m-23 1h2m2 0h3m1 0h6m1 0h2m4 0h2m1 0h1m-26 1h1m2 0h5m3 0h2m1 0h2m-15 1h2m4 0h1m2 0h5m1 0h1m1 0h5m-24 1h1m3 0h1m2 0h9m1 0h3m2 0h1m2 0h1m-28 1h1m1 0h1m1 0h1m5 0h1m1 0h2m1 0h1m1 0h5m1 0h1m5 0h1m-28 1h2m1 0h1m1 0h1m1 0h3m1 0h1m1 0h3m2 0h1m1 0h1m2 0h1m-24 1h1m1 0h1m5 0h1m1 0h6m-11 1h1m1 0h2m2 0h2m13 0h1m-26 1h1m1 0h1m2 0h4m5 0h1m1 0h1m-20 1h1m6 0h1m1 0h1m1 0h2m1 0h2m1 0h1m-6 1h1m2 0h2m1 0h1m4 0h1m-12 1h1m-6 1h3m3 0h1m-35 12h1m-8 1h1m1 0h1m-3 1h1m5 0h1m4 0h1m-22 1h1m16 0h1m0 2h1m1 0h1m-18 1h2m2 0h1m5 0h1m1 0h1m2 0h1m3 0h3m-17 1h1m11 0h2m1 0h1m-19 1h1m3 0h1m2 0h1m2 0h1m2 0h1m1 0h1m-21 1h1m2 0h3m2 0h1m2 0h1m3 0h1m1 0h1m1 0h1m-14 1h1m4 0h4m1 0h2m-16 1h2m2 0h1m2 0h1m1 0h1m12 0h1m-25 1h1m1 0h1m3 0h1m2 0h1m1 0h1m2 0h2m4 0h1m-26 1h1m5 0h1m1 0h1m1 0h1m1 0h3m1 0h6m3 0h2m-17 1h2m2 0h1m2 0h2m2 0h1m3 0h1m1 0h1m1 0h1m-26 1h1m8 0h1m1 0h2m1 0h1m1 0h1m-17 1h2m2 0h2m2 0h6m1 0h2m-18 1h1m1 0h1m1 0h1m1 0h2m1 0h4m1 0h2m3 0h1m2 0h1m2 0h1m-23 1h2m2 0h2m1 0h3m1 0h1m2 0h1m2 0h1m-24 1h1m1 0h1m2 0h1m4 0h1m1 0h5m4 0h1m1 0h2m7 0h1m-32 1h1m1 0h1m3 0h1m2 0h4m3 0h2m2 0h2m2 0h2m-23 1h1m4 0h1m2 0h3m1 0h1m4 0h2m1 0h1m-28 1h1m1 0h1m8 0h3m1 0h2m1 0h1m1 0h1m2 0h1m-20 1h1m1 0h3m2 0h1m3 0h3m1 0h1m1 0h3m-24 1h1m5 0h1m1 0h1m1 0h1m3 0h6m2 0h1m-19 1h1m1 0h1m1 0h1m3 0h1m3 0h1m1 0h1m4 0h1m-20 1h2m2 0h2m2 0h1m3 0h1m2 0h1m-17 1h1m3 0h1m4 0h1m2 0h1m5 0h2m-11 1h3m1 0h1m3 0h1m-19 1h1m3 0h1m2 0h1m6 0h1m2 0h1m-7 1h1m2 0h1m3 0h1m-12 2h1m0 1h1m0 1h1m1 0h1"/>
<path stroke-opacity="0.62" d="M125 224h1m-20 4h1m-8 1h5m4 0h1m4 0h1m1 0h1m-20 1h1m1 0h1m4 0h2m-11 1h1m4 0h1m2 0h2m1 0h2m3 0h1m-15 1h2m2 0h3m1 0h1m1 0h1m6 0h2m-23 1h1m4 0h2m4 0h1m5 0h5m1 0h1m-24 1h2m4 0h1m2 0h1m1 0h1m1 0h2m5 0h1m1 0h1m-26 1h1m4 0h2m1 0h1m4 0h2m1 0h3m4 0h2m3 0h1m-30 1h1m4 0h1m2 0h8m1 0h1m1 0h1m1 0h1m1 0h4m3 0h1m-32 1h2m1 0h4m3 0h1m1 0h9m1 0h2m2 0h1m2 0h2m2 0h1m-33 1h5m1 0h1m1 0h1m1 0h1m1 0h3m1 0h3m1 0h3m2 0h2m5 0h1m-33 1h3m2 0h8m1 0h3m2 0h1m1 0h2m1 0h2m1 0h3m2 0h1m-36 1h1m7 0h1m1 0h2m1 0h3m1 0h5m1 0h5m-30 1h1m1 0h1m2 0h1m1 0h1m2 0h7m1 0h7m1 0h4m1 0h1m2 0h1m-35 1h1m4 0h12m1 0h8m1 0h2m1 0h1m2 0h1m2 0h1m-34 1h2m1 0h1m2 0h15m1 0h3m1 0h2m2 0h1m2 0h1m-37 1h1m1 0h1m3 0h1m1 0h2m2 0h7m1 0h3m1 0h2m1 0h1m2 0h1m1 0h1m-31 1h1m3 0h1m1 0h10m1 0h1m2 0h5m1 0h2m1 0h1m-32 1h2m2 0h1m4 0h2m1 0h2m1 0h3m1 0h3m1 0h1m1 0h2m2 0h2m-37 1h1m4 0h1m3 0h4m2 0h4m1 0h1m1 0h6m2 0h2m1 0h2m1 0h3m-35 1h1m2 0h4m2 0h1m1 0h8m2 0h2m1 0h1m1 0h2m1 0h3m11 0h1m-46 1h1m2 0h1m2 0h3m4 0h8m1 0h2m2 0h1m1 0h2m1 0h1m2 0h1m3 0h1m-37 1h2m1 0h1m2 0h2m1 0h4m1 0h2m1 0h3m1 0h2m2 0h3m1 0h1m-26 1h1m1 0h1m1 0h1m1 0h2m1 0h7m2 0h5m3 0h2m-34 1h1m3 0h2m2 0h1m3 0h5m1 0h3m2 0h2m2 0h2m1 0h1m1 0h1m1 0h1m-29 1h1m3 0h1m2 0h2m1 0h2m1 0h2m2 0h2m1 0h1m1 0h1m2 0h2m-31 1h1m2 0h1m1 0h1m1 0h2m3 0h2m1 0h1m3 0h7m-25 1h1m1 0h1m2 0h3m1 0h1m2 0h1m1 0h1m1 0h2m3 0h1m4 0h1m-28 1h1m1 0h1m2 0h2m5 0h6m3 0h3m-19 1h1m2 0h1m1 0h1m4 0h1m1 0h1m2 0h1m1 0h3m1 0h1m-24 1h1m4 0h1m2 0h1m5 0h1m3 0h1m-14 1h1m1 0h1m2 0h1m2 0h2m5 0h1m-10 1h1m3 0h1m-4 1h1m-10 1h1"/>
<path stroke-opacity="0.62" d="M121 219h1m-20 8h2m-1 1h1m6 0h2m-9 1h1m4 0h1m-10 1h1m3 0h1m1 0h1m1 0h3m-13 1h1m1 0h1m1 0h1m5 0h1m3 0h1m1 0h1m2 0h1m-19 1h1m4 0h2m4 0h1m4 0h1m2 0h1m-25 1h1m2 0h1m2 0h1m1 0h1m1 0h1m1 0h2m1 0h1m3 0h1m-24 1h1m4 0h4m2 0h1m1 0h3m4 0h3m6 0h1m-28 1h1m4 0h1m3 0h3m1 0h4m1 0h3m-24 1h1m3 0h2m1 0h4m1 0h3m4 0h1m2 0h1m2 0h1m-26 1h1m2 0h1m1 0h2m2 0h8m1 0h1m2 0h1m1 0h1m6 0h1m-32 1h1m4 0h10m1 0h3m3 0h1m2 0h2m-25 1h3m1 0h2m1 0h15m3 0h2m-29 1h1m2 0h3m2 0h5m1 0h7m1 0h1m1 0h2m1 0h1m2 0h4m-38 1h2m1 0h1m1 0h3m1 0h2m1 0h6m2 0h8m2 0h3m-28 1h2m1 0h9m1 0h2m1 0h8m1 0h1m3 0h1m1 0h1m-33 1h3m2 0h7m1 0h14m5 0h1m-36 1h1m4 0h1m2 0h4m1 0h11m2 0h3m-34 1h1m1 0h1m1 0h1m3 0h2m2 0h1m1 0h5m1 0h3m1 0h7m2 0h3m1 0h2m-38 1h1m1 0h2m1 0h1m1 0h4m2 0h2m1 0h10m1 0h1m2 0h1m4 0h1m-36 1h1m3 0h1m1 0h1m1 0h5m1 0h8m1 0h8m1 0h1m2 0h3m-34 1h1m1 0h4m1 0h4m1 0h1m1 0h6m1 0h2m2 0h3m2 0h1m2 0h1m-38 1h1m5 0h2m2 0h2m1 0h1m1 0h5m1 0h5m1 0h2m6 0h1m-31 1h3m3 0h4m1 0h3m1 0h5m1 0h1m-19 1h2m3 0h1m1 0h4m1 0h4m6 0h1m2 0h2m-34 1h1m3 0h1m2 0h2m1 0h1m1 0h3m1 0h1m1 0h4m6 0h2m2 0h1m-27 1h2m1 0h1m1 0h13m1 0h1m1 0h1m8 0h1m-29 1h2m1 0h2m1 0h4m3 0h4m3 0h1m-31 1h1m3 0h1m2 0h1m4 0h5m1 0h1m1 0h1m5 0h1m7 0h1m-32 1h2m2 0h1m1 0h1m2 0h1m5 0h1m5 0h1m5 0h1m-28 1h1m3 0h1m7 0h1m3 0h1m1 0h1m5 0h1m-26 1h1m1 0h2m1 0h2m3 0h2m2 0h1m5 0h1m1 0h1m-19 1h1m7 0h1m2 0h1m-9 1h1m4 0h1m3 0h1m2 0h1m-14 1h1m5 0h2m-4 1h1"/>
<path stroke-opacity="0.62" d="M101 228h1m3 0h1m-7 1h1m4 0h2m2 0h1m5 0h1m-18 1h1m3 0h3m2 0h2m1 0h1m1 0h2m-17 1h2m2 0h1m4 0h2m1 0h1m3 0h2m-17 1h2m2 0h1m1 0h1m1 0h1m1 0h1m3 0h1m2 0h1m-22 1h1m5 0h1m2 0h1m3 0h5m1 0h3m3 0h1m7 0h1m-39 1h1m8 0h1m2 0h1m1 0h1m1 0h1m3 0h1m1 0h3m2 0h1m-24 1h1m1 0h1m1 0h1m1 0h3m1 0h1m1 0h2m1 0h2m1 0h2m2 0h1m-25 1h1m3 0h1m1 0h4m1 0h1m2 0h3m2 0h1m2 0h1m1 0h1m2 0h1m-31 1h1m1 0h1m1 0h5m1 0h1m2 0h3m1 0h14m-22 1h3m1 0h1m1 0h3m1 0h3m1 0h3m4 0h1m-28 1h1m3 0h8m1 0h2m1 0h3m1 0h2m1 0h1m-27 1h2m2 0h1m1 0h1m1 0h2m1 0h6m1 0h1m1 0h1m1 0h3m1 0h2m2 0h1m-35 1h1m1 0h2m2 0h2m2 0h8m1 0h3m2 0h4m2 0h1m1 0h2m1 0h1m-33 1h1m5 0h1m1 0h6m1 0h1m1 0h1m1 0h6m1 0h1m1 0h1m3 0h1m-35 1h1m2 0h1m3 0h1m1 0h1m1 0h1m1 0h5m1 0h1m2 0h3m1 0h1m1 0h2m-33 1h1m2 0h1m1 0h1m2 0h1m1 0h10m2 0h4m1 0h1m5 0h2m-33 1h1m1 0h1m1 0h18m2 0h2m1 0h1m-29 1h5m1 0h2m1 0h1m2 0h2m1 0h4m1 0h4m4 0h3m2 0h1m-36 1h2m1 0h1m3 0h2m1 0h2m1 0h8m1 0h3m1 0h3m1 0h1m4 0h1m-36 1h1m4 0h1m2 0h6m1 0h6m1 0h1m2 0h1m2 0h2m1 0h1m1 0h3m-35 1h3m1 0h1m1 0h1m2 0h12m1 0h2m2 0h4m1 0h1m2 0h1m-35 1h1m4 0h1m1 0h1m2 0h3m2 0h6m2 0h1m4 0h1m5 0h1m-37 1h1m1 0h1m5 0h1m6 0h7m1 0h1m1 0h1m1 0h4m-28 1h1m2 0h3m1 0h1m1 0h2m2 0h3m4 0h2m1 0h5m-28 1h1m9 0h2m2 0h5m1 0h1m1 0h2m-24 1h1m1 0h2m4 0h6m1 0h2m2 0h1m2 0h1m1 0h1m-18 1h2m1 0h1m1 0h2m5 0h1m1 0h1m1 0h1m4 0h2m-25 1h1m5 0h3m4 0h2m1 0h1m-22 1h1m3 0h3m2 0h2m1 0h1m1 0h2m1 0h1m2 0h1m2 0h1m-23 1h1m1 0h1m1 0h1m2 0h1m4 0h1m2 0h1m1 0h2m3 0h1m-21 1h1m1 0h1m2 0h1m3 0h1m5 0h1m-12 1h2m5 0h1m3 0h1m-8 1h1m1 0h1m2 0h1m-11 1h1m3 0h1"/>
<path stroke-opacity="0.62" d="M278 191h1m-5 1h1m1 1h2m-7 1h1m-6 2h1m1 0h1m2 0h1m0 1h1m2 0h1m4 0h1m1 0h1m-14 1h2m4 0h1m-7 1h1m2 0h4m1 0h1m1 0h2m5 0h1m-22 1h1m3 0h1m1 0h1m5 0h1m6 0h1m-20 1h3m2 0h1m1 0h1m1 0h1m2 0h1m1 0h3m2 0h1m1 0h1m-15 1h3m1 0h1m1 0h1m3 0h1m2 0h1m2 0h1m-15 1h1m3 0h1m3 0h1m-14 1h2m2 0h1m1 0h1m1 0h1m3 0h1m3 0h1m-19 1h1m1 0h3m5 0h3m1 0h2m3 0h1m-24 1h1m1 0h1m5 0h1m5 0h2m2 0h2m-18 1h2m1 0h1m2 0h1m5 0h3m1 0h1m1 0h2m-23 1h3m2 0h1m1 0h1m1 0h1m1 0h1m4 0h2m-15 1h1m2 0h1m2 0h3m4 0h1m1 0h1m1 0h1m-21 1h1m1 0h1m1 0h3m1 0h1m2 0h4m2 0h2m-16 1h1m3 0h1m3 0h1m-7 1h1m6 0h1m1 0h1m-10 1h1m5 0h1m1 0h3m-3 1h1m6 0h1m-16 1h1m10 0h1m1 0h1m-11 1h1m2 0h1m4 0h1m2 0h1m-5 1h1m-13 2h1m2 0h1m-36 8h1m-4 3h1m9 0h1m2 0h1m2 0h1m-5 1h1m2 0h1m2 0h1m-16 1h2m6 0h1m6 0h1m-19 1h1m1 0h1m2 0h2m13 0h1m-28 1h1m1 0h1m1 0h1m4 0h1m2 0h1m2 0h2m5 0h1m2 0h1m1 0h1m-22 1h1m1 0h2m2 0h1m8 0h2m-19 1h1m1 0h2m1 0h1m1 0h2m3 0h3m1 0h2m5 0h1m-31 1h1m5 0h1m1 0h1m1 0h1m1 0h1m2 0h1m1 0h1m2 0h1m3 0h2m3 0h1m1 0h1m-35 1h1m2 0h2m1 0h1m1 0h1m4 0h2m1 0h1m1 0h4m1 0h1m1 0h3m8 0h1m-32 1h1m2 0h1m1 0h3m1 0h3m1 0h4m2 0h2m2 0h1m5 0h1m-34 1h1m4 0h1m1 0h1m1 0h2m2 0h1m2 0h3m2 0h5m9 0h1m-39 1h1m2 0h1m1 0h1m1 0h1m1 0h1m1 0h1m1 0h1m2 0h4m1 0h1m1 0h1m1 0h3m2 0h1m4 0h1m-34 1h1m3 0h2m3 0h2m1 0h8m3 0h3m-25 1h1m2 0h1m2 0h1m1 0h3m2 0h1m3 0h6m1 0h3m3 0h1m-33 1h2m4 0h6m1 0h1m2 0h6m2 0h6m-28 1h1m3 0h1m1 0h5m1 0h4m2 0h5m3 0h1m2 0h1m2 0h1m-32 1h2m1 0h1m1 0h3m1 0h1m1 0h1m3 0h1m1 0h2m9 0h1m-31 1h4m4 0h1m1 0h2m1 0h2m1 0h1m2 0h1m1 0h3m1 0h2m1 0h1m4 0h1m-39 1h1m5 0h2m3 0h2m4 0h5m1 0h1m3 0h3m1 0h2m1 0h1m-34 1h1m4 0h1m4 0h6m1 0h3m7 0h1m6 0h1m-31 1h2m1 0h1m1 0h2m2 0h2m2 0h3m1 0h3m4 0h2m4 0h1m-35 1h1m2 0h2m2 0h1m1 0h1m1 0h4m1 0h2m1 0h4m3 0h2m2 0h1m-29 1h1m1 0h2m1 0h1m2 0h1m1 0h1m4 0h6m1 0h2m4 0h1m2 0h1m-32 1h1m2 0h2m3 0h1m1 0h2m2 0h5m9 0h1m1 0h1m-30 1h1m5 0h1m1 0h1m3 0h3m1 0h1m2 0h3m1 0h1m3 0h1m2 0h1m-28 1h1m2 0h1m1 0h3m1 0h5m2 0h2m4 0h1m2 0h1m-16 1h1m1 0h2m2 0h1m6 0h1m-25 1h1m2 0h1m4 0h1m3 0h2m8 0h1m-25 1h1m1 0h1m3 0h1m3 0h1m4 0h1m4 0h2m-20 1h1m4 0h1m4 0h1m-16 1h1m6 0h1m3 0h2m5 1h1m-7 1h1"/>
<path stroke-opacity="0.62" d="M274 192h1m10 0h1m-12 1h1m2 0h1m1 0h2m-13 1h1m15 0h1m-8 1h1m5 0h1m-13 1h1m1 0h1m6 0h1m1 0h1m-5 1h3m1 0h1m-17 1h2m7 0h2m5 0h1m2 0h2m-15 1h1m2 0h3m1 0h1m3 0h1m2 0h1m-13 1h2m1 0h1m1 0h1m1 0h2m5 0h1m-20 1h2m7 0h2m2 0h1m-20 1h2m5 0h2m1 0h2m1 0h2m1 0h1m3 0h1m1 0h1m-19 1h2m1 0h1m1 0h4m5 0h2m1 0h1m2 0h1m-20 1h2m1 0h2m1 0h1m1 0h3m8 0h1m-22 1h1m5 0h1m2 0h5m1 0h4m2 0h1m-27 1h1m7 0h1m1 0h5m2 0h1m3 0h1m-19 1h4m1 0h2m2 0h2m1 0h1m1 0h1m-13 1h1m4 0h1m1 0h1m1 0h1m3 0h1m1 0h2m2 0h1m2 0h1m-22 1h1m4 0h6m4 0h1m-19 1h1m2 0h1m4 0h2m2 0h3m3 0h1m2 0h1m1 0h1m-22 1h1m1 0h1m1 0h4m1 0h1m1 0h1m3 0h1m-17 1h2m5 0h2m4 0h1m-11 1h1m1 0h1m7 0h2m-11 1h2m5 0h1m2 0h1m-14 1h2m8 0h2m4 1h1m-16 2h1m2 1h1m2 0h1m-36 9h1m-3 1h1m3 0h1m3 0h1m-8 1h1m2 0h1m17 0h1m-27 1h1m9 0h1m-16 1h1m3 0h1m3 0h3m9 0h1m-14 1h1m3 0h1m5 0h1m-17 1h1m1 0h1m1 0h1m7 0h4m2 0h1m-25 1h1m2 0h1m3 0h1m4 0h1m1 0h1m6 0h1m2 0h1m-23 1h2m1 0h5m1 0h1m1 0h4m1 0h1m3 0h1m-26 1h1m1 0h1m1 0h1m4 0h1m1 0h1m1 0h2m1 0h1m1 0h1m3 0h4m-22 1h1m2 0h1m1 0h2m1 0h6m2 0h2m1 0h1m2 0h2m-20 1h1m2 0h3m1 0h1m1 0h3m9 0h2m2 0h2m-36 1h2m7 0h1m1 0h2m1 0h4m1 0h4m1 0h1m2 0h2m2 0h1m-32 1h1m1 0h1m1 0h2m2 0h2m1 0h2m2 0h5m1 0h2m2 0h1m1 0h3m-34 1h1m8 0h1m1 0h1m1 0h1m1 0h1m1 0h2m1 0h1m3 0h2m2 0h4m1 0h1m3 0h1m-35 1h1m1 0h1m1 0h1m1 0h6m1 0h7m1 0h1m2 0h2m2 0h1m1 0h1m2 0h1m-33 1h1m2 0h2m1 0h1m1 0h1m1 0h1m1 0h6m2 0h1m1 0h1m5 0h1m-26 1h1m3 0h1m2 0h6m1 0h1m1 0h1m1 0h3m10 0h1m-38 1h1m4 0h1m1 0h2m1 0h2m1 0h2m1 0h11m4 0h1m3 0h1m1 0h1m-35 1h2m4 0h4m1 0h4m1 0h1m2 0h3m1 0h2m4 0h1m-34 1h1m5 0h1m1 0h9m2 0h3m2 0h1m1 0h2m5 0h1m2 0h1m-31 1h1m3 0h6m2 0h2m1 0h4m1 0h2m1 0h1m6 0h1m-36 1h1m1 0h2m3 0h4m1 0h2m2 0h3m1 0h2m3 0h1m7 0h1m-36 1h1m1 0h1m3 0h4m3 0h1m1 0h1m1 0h3m4 0h2m1 0h1m1 0h1m6 0h1m-35 1h1m8 0h1m4 0h3m3 0h3m1 0h1m1 0h2m5 0h1m-42 1h1m7 0h1m4 0h1m1 0h2m2 0h1m1 0h4m1 0h2m2 0h1m1 0h1m1 0h2m-22 1h1m1 0h1m4 0h1m3 0h2m1 0h2m2 0h1m-24 1h1m5 0h1m1 0h2m2 0h3m2 0h2m2 0h1m1 0h1m4 0h1m-26 1h2m3 0h1m1 0h1m3 0h1m2 0h1m4 0h1m-25 1h1m1 0h2m2 0h2m2 0h1m4 0h1m3 0h1m2 0h2m24 0h1m-38 1h1m1 0h2m3 0h1m2 0h1m-20 1h1m4 0h1m4 0h3m-3 1h1m1 0h1m2 0h1m3 0h1m2 0h1m-21 1h1m1 0h1m8 0h2m3 0h1m-20 1h1m15 1h1"/>
<path stroke-opacity="0.62" d="M281 192h1m2 0h1m-4 1h1m-8 1h1m-2 1h3m9 0h1m-17 1h1m1 0h1m7 0h2m-15 1h1m3 0h1m3 0h1m1 0h1m2 0h2m5 0h1m-17 1h2m2 0h3m1 0h2m1 0h1m1 0h2m-16 1h1m3 0h1m2 0h3m1 0h3m-16 1h1m1 0h4m4 0h1m2 0h1m1 0h1m-21 1h1m4 0h1m2 0h1m7 0h1m1 0h1m4 0h1m-17 1h3m1 0h1m1 0h1m1 0h1m1 0h2m1 0h1m10 0h1m-29 1h2m3 0h2m3 0h2m1 0h1m-17 1h1m4 0h1m1 0h1m1 0h2m1 0h1m1 0h3m2 0h1m-11 1h2m1 0h2m1 0h1m7 0h2m1 0h1m-19 1h2m1 0h5m2 0h1m2 0h2m-14 1h1m2 0h1m1 0h1m2 0h2m-10 1h1m1 0h1m2 0h5m2 0h2m1 0h1m-22 1h1m1 0h1m1 0h2m1 0h2m1 0h4m4 0h1m4 0h1m-21 1h1m5 0h2m1 0h1m4 0h1m1 0h1m-18 1h2m1 0h1m1 0h4m4 0h1m3 0h2m-23 1h1m1 0h1m2 0h2m6 0h2m2 0h1m4 0h1m-23 1h1m5 0h2m5 0h2m3 0h1m-47 1h1m30 0h1m1 0h2m3 0h1m6 1h1m-7 1h1m-9 1h1m4 0h1m-9 1h1m8 0h1m-4 1h1m7 0h1m-7 5h1m-33 4h1m3 1h1m-11 1h1m-18 1h1m23 0h1m-13 1h1m11 0h1m5 0h1m-19 1h1m3 0h1m1 0h1m2 0h2m1 0h2m3 0h1m-21 1h1m4 0h4m3 0h1m2 0h2m4 0h1m-21 1h1m1 0h1m4 0h3m1 0h2m-16 1h1m2 0h1m1 0h2m3 0h2m2 0h1m1 0h1m2 0h2m3 0h1m-26 1h1m4 0h1m1 0h1m2 0h3m4 0h1m2 0h1m4 0h3m1 0h1m-28 1h2m1 0h1m3 0h1m2 0h1m2 0h1m3 0h2m1 0h5m1 0h1m-31 1h3m2 0h2m1 0h1m1 0h2m2 0h4m1 0h2m1 0h3m1 0h1m-25 1h1m2 0h2m3 0h3m2 0h1m1 0h1m1 0h3m1 0h2m1 0h1m1 0h1m2 0h2m-29 1h3m1 0h2m2 0h2m1 0h1m1 0h1m1 0h5m1 0h1m1 0h1m4 0h1m-32 1h3m1 0h1m1 0h4m1 0h8m1 0h1m2 0h1m2 0h1m4 0h1m-35 1h1m1 0h2m1 0h2m2 0h2m1 0h4m1 0h12m2 0h1m1 0h1m-30 1h1m2 0h2m1 0h4m1 0h1m1 0h8m1 0h2m6 0h1m-37 1h1m8 0h1m1 0h12m1 0h3m4 0h2m-36 1h1m3 0h2m1 0h5m1 0h2m1 0h5m1 0h4m2 0h3m-30 1h2m1 0h1m3 0h2m4 0h3m1 0h3m1 0h4m6 0h2m-33 1h2m1 0h1m1 0h1m1 0h2m1 0h2m1 0h1m2 0h2m1 0h1m1 0h2m3 0h3m1 0h1m1 0h1m-33 1h1m10 0h5m2 0h1m1 0h1m1 0h2m1 0h1m8 0h1m-35 1h1m3 0h2m1 0h1m1 0h4m1 0h1m1 0h1m1 0h2m1 0h2m1 0h3m-23 1h3m2 0h2m1 0h2m1 0h2m1 0h1m1 0h5m1 0h1m1 0h1m2 0h1m1 0h1m-34 1h1m6 0h3m2 0h2m1 0h2m4 0h3m4 0h3m2 0h2m-36 1h3m3 0h1m2 0h3m3 0h1m1 0h1m5 0h1m1 0h1m-24 1h1m1 0h1m1 0h4m3 0h2m2 0h6m10 0h1m-31 1h2m2 0h1m4 0h1m1 0h1m1 0h3m2 0h2m4 0h1m2 0h1m-25 1h2m1 0h3m4 0h2m2 0h2m2 0h1m-21 1h1m1 0h2m2 0h1m3 0h2m3 0h1m-15 1h2m1 0h1m1 0h1m2 0h1m4 0h1m7 0h1m1 0h1m-20 1h2m3 0h2m3 0h1m5 0h1m-22 1h1m1 0h1m1 1h1m3 0h1m-9 1h1m7 0h2m3 1h1"/>
<path stroke-opacity="0.62" d="M406 193h1m8 1h1m-9 1h1m5 0h1m4 0h1m2 0h1m-18 1h1m3 0h1m4 0h1m3 0h1m-5 1h2m-1 1h1m2 0h2m-17 1h1m1 0h2m2 0h1m3 0h3m1 0h1m2 0h1m-12 1h2m4 0h1m1 0h1m2 0h3m-11 1h1m1 0h1m1 0h1m8 0h1m-25 1h2m7 0h2m3 0h1m3 0h1m2 0h1m-16 1h1m1 0h1m1 0h1m-5 1h1m1 0h1m4 0h1m-9 1h1m3 0h1m1 0h3m2 0h2m-14 1h1m2 0h1m9 0h1m-17 1h1m4 0h1m3 0h1m2 0h1m2 0h1m-15 1h1m1 0h2m6 0h2m1 0h1m2 0h1m5 0h1m-27 1h1m3 0h1m5 0h1m1 0h1m3 0h1m-12 1h1m-4 1h1m4 0h1m2 0h1m2 0h1m-6 1h1m3 0h1m-5 1h1m1 0h1m4 0h1m3 0h1m-39 1h1m33 0h1m-3 1h1m-13 6h1m-25 4h1m3 0h1m2 1h1m17 0h1m-39 1h1m7 0h1m10 0h1m-6 1h1m-12 1h1m3 0h1m2 0h1m4 0h3m1 0h3m-22 1h1m3 0h1m3 0h2m1 0h1m1 0h1m1 0h1m1 0h1m5 0h1m1 0h1m-22 1h1m1 0h2m3 0h2m3 0h2m3 0h1m-17 1h1m2 0h2m2 0h2m1 0h1m1 0h1m1 0h3m2 0h2m-29 1h1m4 0h1m3 0h1m1 0h1m5 0h1m2 0h1m2 0h1m-24 1h1m5 0h1m2 0h2m2 0h1m1 0h1m1 0h1m1 0h2m1 0h1m1 0h1m1 0h2m1 0h1m-26 1h2m1 0h1m3 0h4m1 0h2m1 0h1m1 0h2m3 0h1m-30 1h1m1 0h3m4 0h1m1 0h4m2 0h2m1 0h1m1 0h6m-24 1h1m1 0h1m1 0h3m1 0h1m1 0h1m1 0h4m2 0h3m2 0h2m3 0h1m-33 1h2m4 0h2m3 0h1m2 0h8m1 0h2m1 0h1m4 0h1m-31 1h1m2 0h1m3 0h1m1 0h2m1 0h8m1 0h1m2 0h1m6 0h1m-33 1h1m3 0h11m1 0h2m1 0h2m1 0h3m7 0h1m-33 1h1m1 0h1m1 0h1m1 0h5m1 0h1m2 0h7m1 0h2m2 0h1m2 0h1m-34 1h1m6 0h2m1 0h1m1 0h2m1 0h1m2 0h2m1 0h5m2 0h1m5 0h1m-27 1h1m1 0h1m1 0h3m2 0h1m1 0h3m7 0h1m1 0h1m-30 1h1m2 0h1m1 0h1m1 0h4m1 0h3m1 0h7m1 0h1m2 0h1m2 0h1m-29 1h1m1 0h1m1 0h3m2 0h3m1 0h4m1 0h6m2 0h1m-30 1h1m2 0h4m1 0h6m1 0h5m1 0h7m2 0h1m1 0h1m-35 1h1m2 0h3m1 0h2m1 0h2m1 0h1m1 0h9m1 0h1m1 0h2m10 0h1m-38 1h1m8 0h1m1 0h7m1 0h3m1 0h3m2 0h1m2 0h1m-33 1h1m2 0h1m1 0h1m1 0h5m2 0h2m1 0h8m2 0h1m-31 1h1m1 0h1m3 0h1m2 0h1m1 0h1m2 0h1m2 0h3m1 0h2m2 0h7m-29 1h1m1 0h4m3 0h3m1 0h1m1 0h1m1 0h3m2 0h4m1 0h1m-30 1h1m5 0h1m3 0h1m6 0h1m1 0h3m2 0h2m1 0h1m1 0h1m-24 1h2m2 0h3m1 0h6m2 0h1m4 0h2m-36 1h1m14 0h3m1 0h6m1 0h4m1 0h1m2 0h1m-26 1h2m2 0h3m1 0h1m4 0h8m2 0h1m-24 1h1m1 0h1m4 0h1m4 0h8m1 0h2m-23 1h2m3 0h1m3 0h2m3 0h1m2 0h1m10 0h1m-29 1h1m5 0h1m1 0h1m2 0h2m2 0h1m1 0h2m4 0h2m-21 1h1m3 0h2m3 0h1m4 0h1m3 0h1m-13 1h1m1 0h1m1 0h1m4 0h1m-18 1h2m1 0h1m6 0h1m-5 2h3m1 0h1m3 0h1m-8 1h1m-2 7h1"/>
<path stroke-opacity="0.62" d="M417 191h1m-10 1h1m-3 1h1m3 1h1m3 0h1m1 1h1m-13 2h2m11 0h1m2 0h1m-9 1h1m1 0h1m6 0h1m-10 1h2m7 0h1m-15 1h3m4 0h1m2 0h1m1 0h1m-12 1h1m3 0h1m2 0h1m3 0h1m-18 1h1m2 0h1m2 0h2m1 0h3m1 0h1m1 0h1m-13 1h1m7 0h1m4 0h1m-11 1h1m2 0h2m6 0h1m-19 1h1m4 0h1m1 0h1m2 0h2m1 0h1m1 0h1m1 0h1m-18 1h1m1 0h1m4 0h1m8 0h1m-15 1h1m1 0h1m2 0h1m1 0h2m1 0h1m-9 1h2m1 0h2m4 0h1m-6 1h1m3 0h1m3 0h1m-12 1h1m11 0h1m-17 1h2m14 0h1m-5 1h1m1 0h1m-18 1h1m2 3h1m6 0h1m-1 1h1m-46 6h1m11 2h1m1 1h1m-10 1h2m1 0h1m4 0h1m4 0h1m-15 1h1m5 0h1m1 0h1m2 0h1m-14 1h1m10 0h2m-8 1h4m4 0h4m-19 1h1m5 0h1m4 0h2m1 0h2m2 0h1m-19 1h3m3 0h1m1 0h2m2 0h2m1 0h1m1 0h2m2 0h3m-25 1h1m6 0h1m1 0h1m1 0h2m2 0h1m5 0h1m-22 1h1m1 0h4m1 0h1m1 0h3m1 0h3m2 0h2m4 0h1m-29 1h2m1 0h1m3 0h1m1 0h1m2 0h1m1 0h1m3 0h1m1 0h2m-18 1h1m2 0h4m3 0h1m1 0h1m1 0h1m2 0h1m1 0h2m5 0h1m-30 1h3m2 0h1m1 0h4m3 0h1m2 0h4m3 0h3m2 0h1m-27 1h1m1 0h1m1 0h8m1 0h2m1 0h1m1 0h2m2 0h1m-31 1h1m1 0h5m1 0h2m1 0h6m1 0h4m2 0h2m1 0h1m1 0h1m-24 1h1m2 0h2m1 0h2m1 0h4m1 0h4m1 0h1m1 0h1m1 0h1m-29 1h1m7 0h1m2 0h1m1 0h4m1 0h1m1 0h3m3 0h2m3 0h1m-33 1h1m2 0h1m1 0h3m1 0h2m1 0h10m1 0h1m4 0h1m1 0h1m-31 1h1m2 0h2m1 0h1m1 0h13m1 0h5m1 0h1m-30 1h1m1 0h1m1 0h2m2 0h1m1 0h1m1 0h5m2 0h4m1 0h1m3 0h1m1 0h1m-31 1h1m2 0h1m2 0h5m1 0h3m3 0h7m1 0h1m2 0h1m-29 1h2m4 0h4m1 0h2m1 0h5m2 0h1m1 0h5m-28 1h1m2 0h1m1 0h18m4 0h1m-31 1h1m1 0h2m3 0h1m1 0h3m3 0h4m1 0h8m-24 1h1m3 0h1m1 0h9m1 0h5m2 0h1m1 0h2m-29 1h2m3 0h1m3 0h2m2 0h2m1 0h2m1 0h1m1 0h1m1 0h2m4 0h1m-27 1h6m1 0h1m1 0h6m1 0h5m3 0h2m-31 1h2m2 0h1m2 0h1m1 0h5m2 0h3m3 0h3m4 0h1m-32 1h1m5 0h1m3 0h2m2 0h1m1 0h3m3 0h4m1 0h1m1 0h2m-31 1h1m2 0h3m1 0h2m1 0h5m3 0h3m2 0h1m2 0h1m5 0h1m-19 1h1m1 0h2m1 0h1m2 0h2m1 0h2m-20 1h1m1 0h3m2 0h1m2 0h2m3 0h1m3 0h1m3 0h1m-33 1h1m10 0h4m3 0h3m2 0h1m-19 1h1m2 0h1m3 0h1m3 0h2m6 0h2m-26 1h1m3 0h1m12 0h1m7 0h2m-28 1h1m6 0h1m6 0h1m3 0h3m7 0h1m-16 1h1m10 0h2m-11 1h1m-3 1h1m4 0h1m2 0h1m-4 1h1m5 8h1"/>
<path stroke-opacity="0.62" d="M420 192h1m-6 1h1m-10 3h1m3 0h1m3 0h1m9 0h1m-15 1h1m-1 1h1m8 0h1m-9 1h1m3 0h1m3 0h1m-12 1h1m6 0h1m-7 1h2m2 0h1m2 0h1m-12 1h1m2 0h3m2 0h1m1 0h3m-14 1h1m3 0h1m6 0h1m1 0h3m4 0h1m-21 1h2m4 0h1m2 0h1m2 0h1m-15 1h2m6 0h3m4 0h1m1 0h1m-18 1h2m1 0h1m1 0h1m6 0h1m2 0h1m-14 1h5m10 0h1m-19 1h1m3 0h1m4 0h1m8 0h1m-16 1h1m7 0h1m-5 1h1m3 0h2m7 0h1m-8 1h1m-6 1h1m-8 1h1m9 0h1m-7 1h1m0 1h1m7 0h1m-10 1h1m-33 9h2m-5 1h1m2 0h1m2 0h1m-11 1h1m1 0h1m7 0h1m3 0h1m-15 1h1m5 0h1m2 0h1m7 0h1m1 0h1m-12 1h1m1 0h1m3 0h1m1 0h1m1 0h1m-28 1h1m4 0h1m3 0h1m1 0h3m2 0h2m2 0h2m1 0h1m3 0h2m-25 1h1m3 0h1m2 0h1m2 0h1m2 0h2m1 0h1m1 0h2m-22 1h1m9 0h1m2 0h2m2 0h1m1 0h2m-22 1h1m1 0h1m1 0h1m1 0h2m6 0h1m2 0h2m3 0h1m2 0h1m-27 1h1m7 0h1m2 0h5m3 0h1m3 0h1m2 0h2m-20 1h3m1 0h7m-19 1h1m1 0h1m2 0h1m1 0h1m1 0h5m1 0h3m5 0h2m1 0h2m1 0h1m-28 1h1m3 0h2m1 0h1m1 0h1m1 0h3m2 0h1m1 0h3m2 0h1m-25 1h4m4 0h1m1 0h1m1 0h6m1 0h7m3 0h2m-35 1h1m3 0h1m4 0h8m1 0h8m2 0h1m2 0h1m1 0h1m2 0h1m-34 1h1m2 0h2m3 0h7m3 0h4m2 0h2m2 0h1m-33 1h2m6 0h1m1 0h2m1 0h3m1 0h1m1 0h9m2 0h3m-27 1h1m2 0h2m1 0h10m1 0h2m2 0h3m-27 1h1m2 0h4m2 0h1m2 0h2m1 0h3m1 0h3m3 0h1m2 0h1m1 0h1m-35 1h1m4 0h1m2 0h8m2 0h3m4 0h5m2 0h2m-35 1h1m5 0h1m1 0h9m1 0h3m1 0h2m1 0h5m2 0h2m2 0h1m-36 1h1m4 0h4m1 0h6m1 0h7m5 0h1m2 0h1m-35 1h1m2 0h2m3 0h1m1 0h9m1 0h4m8 0h1m3 0h1m-37 1h2m3 0h2m6 0h9m1 0h2m1 0h4m-31 1h1m4 0h1m1 0h2m2 0h3m1 0h3m1 0h3m1 0h5m2 0h2m1 0h1m-31 1h1m3 0h1m3 0h2m1 0h1m1 0h3m1 0h3m4 0h6m-29 1h3m1 0h1m3 0h3m2 0h5m2 0h1m-18 1h1m1 0h1m1 0h5m1 0h2m2 0h2m1 0h1m1 0h1m1 0h2m-26 1h1m2 0h1m2 0h6m1 0h4m2 0h1m-19 1h3m2 0h1m2 0h1m1 0h1m1 0h2m1 0h4m2 0h2m2 0h1m-29 1h1m3 0h1m3 0h3m1 0h2m1 0h4m1 0h2m1 0h1m1 0h1m-25 1h1m1 0h1m2 0h1m4 0h1m2 0h1m2 0h2m1 0h1m3 0h2m1 0h1m-28 1h1m6 0h1m1 0h1m2 0h2m1 0h1m4 0h1m-20 1h1m1 0h1m2 0h1m1 0h1m1 0h1m2 0h1m2 0h2m1 0h1m5 0h1m-24 1h1m4 0h1m2 0h1m3 0h1m2 0h1m-16 1h1m1 0h1m5 0h2m2 0h1m7 0h1m-13 1h1m10 0h1m-12 1h1m3 0h1m-4 1h1m6 0h1"/>
<path stroke-opacity="0.62" d="M545 191h1m1 0h1m2 0h2m2 0h1m-5 1h1m4 0h1m-13 1h1m-4 1h1m8 0h1m1 0h1m-8 1h1m2 0h2m2 0h1m1 0h1m1 0h1m2 0h1m-20 1h1m1 0h2m1 0h1m2 0h1m1 0h1m1 0h1m2 0h1m1 0h1m-16 1h2m1 0h1m1 0h1m1 0h2m1 0h1m1 0h1m2 0h1m-27 1h1m11 0h3m2 0h1m1 0h1m1 0h4m2 0h1m3 0h1m-24 1h1m5 0h1m1 0h1m4 0h1m1 0h1m1 0h1m2 0h1m-18 1h1m1 0h5m3 0h3m5 0h1m1 0h1m-26 1h2m4 0h4m1 0h4m1 0h5m3 0h1m-27 1h1m4 0h1m3 0h1m2 0h3m2 0h1m1 0h2m1 0h2m2 0h1m1 0h1m-25 1h5m3 0h1m2 0h2m2 0h3m1 0h1m4 0h1m-27 1h1m1 0h2m1 0h2m1 0h1m1 0h3m2 0h2m6 0h1m-24 1h4m1 0h4m1 0h3m1 0h3m1 0h1m2 0h1m-24 1h1m3 0h1m3 0h3m1 0h3m2 0h2m2 0h1m3 0h1m-28 1h1m1 0h1m2 0h1m1 0h2m1 0h1m2 0h7m1 0h1m2 0h1m-20 1h3m2 0h9m1 0h2m1 0h4m-23 1h1m2 0h1m2 0h2m1 0h1m1 0h3m1 0h2m1 0h1m-17 1h1m1 0h2m1 0h5m1 0h1m2 0h1m2 0h2m-14 1h1m1 0h2m1 0h1m8 0h1m1 0h1m-22 1h1m1 0h1m2 0h4m1 0h2m10 0h1m-23 1h3m1 0h1m2 0h1m2 0h2m2 0h1m-17 1h1m4 0h1m1 0h1m2 0h3m1 0h1m6 0h2m-23 1h1m1 0h1m3 0h1m3 0h1m4 0h1m1 0h1m4 0h1m-26 1h1m10 0h1m1 0h1m9 0h1m-18 1h1m10 0h1m1 0h1m3 0h1m-16 1h1m-2 1h1m2 0h1m4 0h2m-2 1h1m2 0h1m-8 1h2m-38 10h1m-4 1h1m9 1h1m-11 1h1m4 0h1m7 0h1m-22 1h1m4 0h1m1 0h1m1 0h3m3 0h1m1 0h1m1 0h1m-15 1h1m2 0h2m1 0h1m-13 1h1m5 0h1m2 0h1m1 0h1m7 0h1m-17 1h3m6 0h2m1 0h2m2 0h1m-20 1h1m1 0h2m1 0h4m1 0h1m7 0h1m-21 1h1m1 0h1m3 0h4m2 0h5m1 0h2m-20 1h1m5 0h1m2 0h4m3 0h3m2 0h1m1 0h1m-23 1h1m1 0h6m1 0h3m1 0h1m1 0h1m-15 1h1m1 0h2m1 0h3m1 0h6m2 0h2m1 0h1m-22 1h2m1 0h6m2 0h6m4 0h1m-24 1h1m1 0h12m1 0h5m-25 1h1m2 0h2m1 0h1m1 0h1m2 0h2m1 0h4m1 0h1m2 0h1m1 0h1m2 0h1m-28 1h1m1 0h3m1 0h2m1 0h1m1 0h3m1 0h3m2 0h1m1 0h1m1 0h1m1 0h2m-25 1h1m1 0h1m1 0h2m2 0h13m-22 1h1m4 0h3m1 0h1m1 0h1m1 0h3m1 0h2m3 0h1m-23 1h1m2 0h1m2 0h2m1 0h8m2 0h3m-23 1h1m1 0h1m6 0h2m2 0h2m1 0h2m-19 1h2m5 0h5m2 0h3m2 0h1m2 0h1m-23 1h1m1 0h1m5 0h1m1 0h1m2 0h2m3 0h1m-22 1h1m7 0h1m3 0h4m1 0h1m1 0h3m2 0h1m-24 1h1m5 0h1m1 0h1m2 0h2m2 0h1m1 0h1m4 0h1m-15 1h2m5 0h1m1 0h1m-15 1h2m1 0h1m1 0h2m2 0h1m2 0h1m2 0h1m-18 1h1m2 0h1m3 0h1m4 0h1m-13 1h1m15 0h1m-14 1h1m3 1h1"/>
<path stroke-opacity="0.62" d="M548 191h2m6 0h1m-13 1h1m4 0h1m2 1h3m2 0h1m-18 1h1m7 0h1m1 0h1m3 0h1m3 0h1m-14 1h2m5 0h1m1 0h1m1 0h1m-13 1h1m3 0h2m3 0h1m3 0h1m1 0h1m-19 1h2m1 0h1m1 0h1m4 0h1m2 0h1m-18 1h2m7 0h1m1 0h2m1 0h1m2 0h3m1 0h1m-14 1h1m1 0h2m5 0h2m2 0h2m-22 1h1m4 0h1m2 0h2m2 0h1m1 0h2m1 0h3m-23 1h1m6 0h1m1 0h1m6 0h1m2 0h3m2 0h2m-22 1h3m4 0h1m1 0h2m1 0h2m4 0h1m-23 1h1m2 0h1m1 0h2m1 0h5m1 0h1m1 0h1m2 0h2m7 0h1m-28 1h2m2 0h2m1 0h2m1 0h5m1 0h2m1 0h1m2 0h3m-22 1h1m1 0h4m1 0h4m2 0h2m3 0h1m2 0h2m-26 1h2m3 0h1m3 0h3m1 0h3m1 0h2m1 0h3m-25 1h2m3 0h3m2 0h5m1 0h1m1 0h2m4 0h1m3 0h1m-27 1h7m1 0h3m1 0h2m1 0h1m3 0h1m-25 1h1m5 0h1m2 0h1m4 0h2m3 0h1m1 0h1m3 0h3m-23 1h1m2 0h1m2 0h2m1 0h3m1 0h1m1 0h1m1 0h1m1 0h1m1 0h1m-22 1h1m5 0h2m1 0h1m1 0h1m1 0h1m1 0h2m-20 1h1m5 0h1m2 0h2m1 0h1m2 0h6m5 0h1m-10 1h1m2 0h2m-18 1h1m7 0h3m1 0h1m1 0h2m1 0h1m-17 1h1m1 0h3m6 0h2m-13 1h3m2 0h1m2 0h2m2 0h1m-7 1h1m10 0h1m-15 1h2m6 0h1m-10 1h1m2 0h3m1 0h1m2 0h1m3 0h1m-18 1h1m5 0h1m5 0h1m-17 2h1m8 0h1m-35 10h1m1 0h1m6 1h1m-20 1h1m2 0h1m1 0h1m6 0h2m1 0h1m-15 1h1m1 0h1m6 0h2m2 0h1m1 0h1m-11 1h1m2 0h6m1 0h1m-14 1h1m1 0h1m1 0h3m1 0h2m7 0h2m-25 1h1m6 0h2m1 0h1m2 0h4m2 0h1m1 0h2m1 0h1m-33 1h1m6 0h1m3 0h1m3 0h1m1 0h1m2 0h4m1 0h1m6 0h1m-28 1h1m3 0h2m1 0h6m2 0h1m1 0h1m2 0h1m-14 1h2m1 0h5m2 0h3m2 0h1m1 0h1m-24 1h1m3 0h2m2 0h1m1 0h1m1 0h1m2 0h4m2 0h1m-24 1h1m2 0h1m2 0h2m1 0h1m3 0h4m1 0h3m1 0h1m1 0h1m-27 1h1m1 0h4m2 0h2m1 0h2m1 0h1m1 0h1m2 0h1m2 0h2m-38 1h1m16 0h1m1 0h1m2 0h1m1 0h1m1 0h5m1 0h2m2 0h1m1 0h1m1 0h1m-37 1h1m9 0h1m5 0h1m1 0h9m1 0h1m2 0h1m-19 1h1m1 0h2m1 0h7m1 0h1m1 0h1m1 0h1m1 0h1m-21 1h2m3 0h3m1 0h5m2 0h2m-20 1h2m3 0h2m3 0h3m3 0h1m2 0h2m1 0h1m-21 1h1m3 0h7m2 0h2m2 0h1m4 0h1m3 0h1m-33 1h2m5 0h3m1 0h2m1 0h7m3 0h1m-24 1h1m1 0h1m5 0h2m1 0h3m2 0h1m2 0h1m15 0h1m-35 1h1m2 0h3m1 0h4m2 0h2m4 0h1m-21 1h1m3 0h1m2 0h1m2 0h2m1 0h3m3 0h1m1 0h1m-16 1h2m1 0h1m1 0h1m1 0h2m6 0h2m-13 1h1m1 0h3m1 0h2m-14 1h1m1 0h1m3 0h1m2 0h2m-6 1h1m9 0h1m-16 1h1m4 0h1m3 0h1m1 0h1m-10 2h1"/>
<path stroke-opacity="0.62" d="M551 190h1m-1 1h1m-9 1h1m9 0h1m-11 1h1m3 0h1m5 0h1m4 0h2m-13 1h1m1 0h1m5 0h1m-17 1h1m5 0h1m2 0h1m1 0h1m-12 1h1m5 0h1m4 0h1m9 0h1m2 0h1m-21 1h2m1 0h1m1 0h1m2 0h2m3 0h1m5 0h1m-26 1h1m1 0h1m7 0h1m1 0h3m2 0h2m2 0h1m-22 1h2m4 0h1m1 0h4m1 0h1m1 0h2m2 0h1m3 0h2m-24 1h1m5 0h5m1 0h1m3 0h2m1 0h1m-17 1h1m1 0h2m1 0h1m1 0h1m4 0h1m-16 1h1m2 0h1m2 0h1m1 0h1m1 0h4m2 0h2m1 0h1m5 0h1m-25 1h1m1 0h1m2 0h3m2 0h1m4 0h1m4 0h1m-22 1h1m1 0h4m3 0h4m2 0h2m7 0h1m-28 1h1m5 0h2m1 0h7m1 0h1m7 0h1m1 0h1m-31 1h1m2 0h1m4 0h1m1 0h2m1 0h1m1 0h2m2 0h1m1 0h3m2 0h1m-22 1h1m2 0h5m1 0h1m1 0h1m1 0h5m2 0h1m4 0h1m-30 1h1m12 0h3m2 0h6m-17 1h1m2 0h5m1 0h2m1 0h2m-20 1h1m4 0h1m1 0h2m1 0h1m1 0h1m2 0h3m5 0h1m-22 1h1m1 0h1m1 0h1m2 0h1m1 0h4m1 0h3m-13 1h3m1 0h1m2 0h3m2 0h1m1 0h1m3 0h1m-24 1h1m5 0h2m1 0h2m1 0h3m1 0h2m2 0h1m1 0h1m-19 1h3m2 0h1m1 0h2m6 0h1m-20 1h1m3 0h2m5 0h2m6 0h1m-20 1h1m6 0h3m2 0h1m3 0h1m4 0h1m-18 1h1m8 0h1m1 0h1m-8 1h1m6 0h1m1 0h1m-14 1h1m3 0h2m1 0h1m-4 1h1m2 0h1m-4 1h1m5 0h1m-44 10h1m4 0h1m-5 1h2m-6 1h1m3 0h2m4 0h1m-13 1h1m3 0h1m1 0h1m3 0h1m2 0h1m-14 1h1m6 0h2m-10 1h1m4 0h1m3 0h2m-6 1h1m1 0h1m1 0h2m-10 1h1m3 0h1m1 0h3m1 0h1m1 0h1m3 0h1m-26 1h2m3 0h2m2 0h1m2 0h2m1 0h1m1 0h1m5 0h1m-22 1h1m1 0h1m2 0h1m4 0h1m2 0h3m1 0h2m-18 1h1m1 0h8m2 0h1m4 0h1m-21 1h2m2 0h2m2 0h1m1 0h5m1 0h5m-26 1h1m2 0h1m1 0h1m1 0h1m3 0h1m2 0h2m1 0h1m3 0h2m1 0h1m2 0h3m-24 1h1m1 0h2m2 0h8m1 0h5m-17 1h4m1 0h1m1 0h7m1 0h1m1 0h1m-23 1h1m2 0h2m1 0h1m1 0h2m1 0h4m1 0h2m3 0h1m1 0h2m-25 1h1m2 0h8m1 0h1m8 0h2m3 0h1m-25 1h1m1 0h1m3 0h6m1 0h2m4 0h1m1 0h1m-24 1h1m2 0h3m1 0h1m1 0h2m1 0h1m1 0h4m3 0h1m-22 1h1m1 0h5m1 0h13m-26 1h1m2 0h1m1 0h3m2 0h2m2 0h1m2 0h2m4 0h3m-25 1h1m3 0h4m2 0h2m1 0h1m3 0h3m-17 1h1m1 0h2m1 0h1m2 0h2m1 0h1m1 0h1m-19 1h2m4 0h4m1 0h1m1 0h1m1 0h1m5 0h1m1 0h1m-19 1h1m1 0h1m3 0h2m2 0h1m1 0h2m3 0h1m-20 1h1m1 0h3m9 0h2m-14 1h1m7 0h1m5 0h1m-16 1h1m2 0h1m5 0h1m-1 1h1m3 0h1"/>
<path stroke-opacity="0.62" d="M101 420h3m-6 1h2m-5 1h1m2 0h2m9 0h1m-9 1h2m1 0h3m-20 1h1m1 0h2m2 0h3m1 0h1m11 0h1m2 0h1m-23 1h1m3 0h4m1 0h2m1 0h1m9 0h1m-20 1h2m3 0h1m2 0h4m7 0h1m-31 1h1m12 0h3m3 0h1m1 0h4m1 0h1m4 0h1m-29 1h1m2 0h1m1 0h1m1 0h2m4 0h5m1 0h1m-19 1h2m2 0h1m1 0h1m4 0h2m1 0h2m1 0h3m4 0h1m1 0h1m-33 1h1m5 0h2m2 0h2m1 0h3m1 0h1m1 0h1m1 0h1m1 0h1m1 0h1m3 0h2m2 0h1m-34 1h1m4 0h2m3 0h6m1 0h1m1 0h4m3 0h4m-29 1h2m4 0h2m1 0h2m2 0h9m1 0h5m4 0h1m-33 1h2m3 0h1m1 0h4m1 0h1m1 0h10m1 0h4m-29 1h2m1 0h1m1 0h7m1 0h10m1 0h2m2 0h2m2 0h1m-36 1h1m2 0h2m2 0h6m1 0h2m1 0h4m1 0h6m1 0h1m4 0h1m1 0h1m4 0h1m-42 1h1m5 0h1m2 0h18m1 0h2m3 0h1m-32 1h1m2 0h2m3 0h1m2 0h9m1 0h4m3 0h1m4 0h2m-38 1h1m4 0h3m1 0h1m1 0h17m3 0h1m3 0h1m2 0h1m-41 1h1m1 0h1m2 0h1m1 0h1m1 0h20m1 0h1m2 0h1m2 0h2m-35 1h1m1 0h1m1 0h1m2 0h8m2 0h1m1 0h3m1 0h7m-28 1h2m2 0h5m1 0h1m1 0h6m1 0h1m1 0h2m1 0h1m1 0h1m2 0h1m-28 1h4m1 0h6m1 0h1m1 0h3m1 0h1m3 0h2m1 0h2m-30 1h1m1 0h1m1 0h1m1 0h1m1 0h3m1 0h5m1 0h7m5 0h1m-33 1h1m4 0h4m1 0h5m1 0h3m1 0h1m1 0h1m4 0h3m-29 1h1m1 0h3m3 0h2m2 0h1m1 0h5m1 0h1m1 0h2m1 0h1m3 0h1m-25 1h1m2 0h5m1 0h1m2 0h2m3 0h1m3 0h1m-24 1h1m1 0h2m3 0h4m1 0h2m1 0h1m5 0h2m2 0h1m-29 1h1m6 0h1m3 0h4m2 0h1m1 0h2m1 0h1m-22 1h1m5 0h3m2 0h1m5 0h1m-17 1h1m2 0h1m1 0h1m1 0h4m2 0h1m7 0h1m-21 1h1m2 0h1m5 0h1m1 0h1m2 0h1m3 0h1m7 0h1m-26 1h1m2 0h1m9 0h1m2 0h1m-13 1h1m2 0h1m3 0h1m-2 1h1"/>
<path stroke-opacity="0.62" d="M106 420h1m-7 1h1m-1 1h1m1 0h2m7 0h1m-21 1h1m2 0h1m1 0h1m5 0h1m2 0h1m-10 1h2m1 0h2m6 0h1m1 0h1m-19 1h1m5 0h3m1 0h4m1 0h1m2 0h2m-23 1h1m2 0h1m4 0h1m6 0h1m5 0h1m2 0h1m-24 1h1m1 0h4m4 0h1m4 0h2m2 0h1m-19 1h1m1 0h3m4 0h7m1 0h4m-30 1h1m6 0h4m1 0h3m3 0h4m1 0h2m4 0h2m1 0h1m-30 1h1m6 0h1m1 0h1m2 0h3m1 0h3m1 0h2m2 0h1m-29 1h1m1 0h1m2 0h1m1 0h3m3 0h5m2 0h2m1 0h1m2 0h1m3 0h1m2 0h1m1 0h1m-34 1h2m3 0h2m1 0h11m1 0h1m2 0h1m1 0h1m1 0h1m2 0h1m-33 1h1m3 0h2m1 0h2m1 0h3m1 0h1m1 0h2m1 0h4m4 0h2m-27 1h7m1 0h2m2 0h7m4 0h1m1 0h1m-27 1h1m4 0h7m1 0h1m1 0h3m1 0h2m1 0h1m1 0h2m3 0h1m-27 1h1m1 0h4m1 0h1m2 0h10m1 0h1m1 0h3m2 0h1m-36 1h1m2 0h1m2 0h1m1 0h2m1 0h1m3 0h1m1 0h1m1 0h8m2 0h1m1 0h1m3 0h2m-37 1h1m3 0h2m2 0h1m1 0h8m1 0h2m1 0h3m1 0h5m1 0h3m-32 1h1m1 0h2m1 0h1m1 0h4m1 0h7m1 0h1m1 0h7m2 0h1m-29 1h2m1 0h1m1 0h13m1 0h3m1 0h1m1 0h2m1 0h1m-33 1h1m1 0h2m1 0h6m1 0h11m1 0h1m1 0h3m-29 1h1m6 0h2m1 0h3m1 0h4m2 0h5m1 0h1m-26 1h3m1 0h2m1 0h1m3 0h2m3 0h7m1 0h1m-28 1h1m2 0h1m2 0h7m1 0h3m2 0h4m-23 1h1m2 0h2m1 0h1m1 0h3m2 0h1m1 0h1m1 0h4m1 0h2m1 0h1m1 0h1m2 0h1m-31 1h3m1 0h1m2 0h2m1 0h2m1 0h1m2 0h2m2 0h2m2 0h1m3 0h2m-28 1h2m1 0h2m1 0h2m2 0h4m2 0h5m1 0h1m1 0h1m1 0h2m-28 1h1m2 0h1m3 0h1m1 0h1m4 0h2m5 0h2m1 0h2m-27 1h1m2 0h1m5 0h3m2 0h1m1 0h2m1 0h1m1 0h1m2 0h2m-19 1h1m1 0h2m1 0h3m3 0h1m-15 1h1m1 0h1m1 0h1m1 0h1m5 0h1m2 0h1m-14 1h1m5 0h1m5 0h2m2 0h1m-21 2h1m28 0h1"/>
<path stroke-opacity="0.62" d="M96 420h1m1 0h1m4 0h1m-11 2h1m3 0h1m1 0h3m2 0h1m-15 1h1m9 0h1m6 0h1m-19 1h2m4 0h1m2 0h3m1 0h1m5 0h1m-23 1h1m3 0h1m2 0h2m4 0h1m1 0h1m2 0h1m5 0h1m-21 1h3m1 0h2m2 0h2m1 0h2m7 0h1m-24 1h5m3 0h1m1 0h1m1 0h3m2 0h5m2 0h1m-29 1h1m5 0h3m1 0h1m1 0h1m1 0h1m3 0h7m4 0h1m-31 1h1m1 0h2m2 0h1m4 0h1m1 0h5m1 0h1m3 0h1m1 0h4m-29 1h1m3 0h2m1 0h4m1 0h9m3 0h3m1 0h2m-33 1h1m1 0h6m2 0h1m1 0h3m3 0h7m2 0h1m3 0h1m1 0h1m-34 1h4m2 0h1m2 0h5m1 0h2m2 0h3m1 0h4m1 0h4m2 0h1m-35 1h1m1 0h3m1 0h4m2 0h13m1 0h2m1 0h2m2 0h1m-35 1h1m2 0h1m3 0h3m1 0h4m1 0h5m2 0h3m1 0h2m1 0h1m2 0h1m1 0h1m-32 1h1m3 0h3m1 0h12m1 0h2m1 0h1m1 0h1m2 0h1m-34 1h1m1 0h2m1 0h2m5 0h8m2 0h4m2 0h1m1 0h1m1 0h2m-33 1h1m3 0h2m3 0h1m1 0h10m2 0h5m2 0h1m-33 1h2m2 0h4m3 0h19m1 0h2m2 0h1m-35 1h2m2 0h1m2 0h1m1 0h4m2 0h2m1 0h9m2 0h1m1 0h3m-31 1h1m7 0h5m1 0h10m1 0h1m3 0h1m-35 1h1m4 0h6m2 0h6m1 0h2m1 0h2m2 0h6m1 0h2m-31 1h1m1 0h10m1 0h4m1 0h1m1 0h2m3 0h2m3 0h1m-36 1h1m2 0h1m4 0h1m1 0h2m1 0h2m2 0h6m2 0h1m1 0h3m2 0h2m-33 1h1m1 0h1m1 0h1m2 0h4m1 0h4m3 0h1m2 0h1m2 0h2m-25 1h1m2 0h4m1 0h1m2 0h6m1 0h3m1 0h1m4 0h1m1 0h1m-33 1h1m2 0h4m1 0h2m1 0h1m1 0h4m1 0h4m1 0h3m4 0h2m-30 1h2m3 0h2m2 0h1m4 0h2m1 0h1m1 0h1m2 0h1m-15 1h8m9 0h1m1 0h1m7 0h1m-34 1h3m2 0h1m3 0h1m3 0h1m1 0h2m2 0h1m13 0h1m-27 1h1m3 0h1m1 0h1m3 0h1m-18 1h1m7 0h1m1 0h1m1 0h1m1 0h1m1 0h1m-9 1h1m2 0h1m-6 1h2m2 0h2m4 0h1m2 2h1"/>
<path stroke-opacity="0.62" d="M288 383h1m-7 2h1m1 0h1m2 0h1m-5 1h1m9 0h1m-16 1h1m1 0h1m1 0h3m-7 1h2m3 0h1m5 0h1m-19 1h1m2 0h2m4 0h1m4 0h3m-18 1h1m8 0h1m9 0h1m1 0h1m-17 1h2m4 0h1m3 0h3m7 0h1m-23 1h1m7 0h1m3 0h1m3 0h1m5 0h1m-16 1h4m2 0h1m2 0h1m2 0h1m-18 1h1m2 0h1m2 0h2m1 0h4m1 0h1m3 0h1m5 0h1m-31 1h1m1 0h1m3 0h1m2 0h3m1 0h2m1 0h4m1 0h2m-22 1h1m1 0h7m2 0h3m2 0h3m-21 1h1m1 0h1m8 0h4m1 0h3m1 0h1m1 0h2m-19 1h1m2 0h1m1 0h1m1 0h1m2 0h2m1 0h1m1 0h1m6 0h1m-24 1h3m1 0h3m1 0h3m1 0h1m1 0h1m4 0h1m-17 1h1m2 0h1m2 0h1m3 0h2m3 0h1m-24 1h1m8 0h1m2 0h1m1 0h2m1 0h3m1 0h2m1 0h1m-20 1h1m1 0h1m3 0h3m1 0h1m10 0h1m-26 1h1m1 0h2m1 0h2m2 0h1m1 0h2m5 0h3m-24 1h1m14 0h1m3 0h2m2 0h1m-5 1h1m-11 1h1m4 0h1m1 0h2m5 0h1m-15 1h1m4 0h1m-37 15h1m-10 2h2m-4 1h2m4 0h1m6 0h1m-11 1h2m5 0h2m-17 1h1m17 0h1m-19 1h1m5 0h2m1 0h1m4 0h1m5 0h1m-24 1h1m3 0h1m3 0h3m1 0h1m3 0h1m2 0h1m-18 1h1m1 0h1m1 0h3m1 0h1m2 0h1m2 0h1m6 0h1m-29 1h1m5 0h1m4 0h3m1 0h1m1 0h1m1 0h1m1 0h1m1 0h1m1 0h1m4 0h1m-37 1h1m10 0h2m2 0h1m3 0h1m1 0h1m1 0h2m1 0h5m2 0h1m-22 1h2m2 0h2m1 0h1m1 0h1m1 0h1m1 0h4m2 0h1m1 0h1m2 0h2m-32 1h1m1 0h1m2 0h1m3 0h2m1 0h1m1 0h8m1 0h1m1 0h3m1 0h1m1 0h1m-29 1h1m1 0h2m1 0h6m1 0h1m3 0h3m2 0h1m2 0h5m-26 1h1m1 0h2m1 0h9m2 0h1m1 0h1m1 0h1m5 0h1m-34 1h1m1 0h1m2 0h3m1 0h1m1 0h2m1 0h6m6 0h1m-27 1h1m1 0h3m3 0h6m1 0h10m1 0h3m-26 1h2m3 0h1m2 0h3m1 0h4m2 0h6m3 0h2m-33 1h1m5 0h3m3 0h2m1 0h1m1 0h8m2 0h3m1 0h1m-33 1h1m2 0h1m2 0h7m1 0h12m1 0h1m1 0h2m-22 1h9m4 0h3m2 0h1m3 0h1m-29 1h2m3 0h6m1 0h2m1 0h3m3 0h2m1 0h2m-24 1h1m6 0h11m2 0h1m-32 1h1m6 0h1m1 0h1m3 0h1m1 0h1m1 0h1m1 0h1m1 0h2m1 0h2m1 0h2m1 0h1m1 0h1m-21 1h2m2 0h4m8 0h3m2 0h2m-24 1h1m1 0h1m1 0h1m1 0h1m2 0h2m2 0h2m3 0h3m1 0h1m-24 1h1m7 0h1m1 0h2m1 0h2m2 0h1m-18 1h1m3 0h1m2 0h1m1 0h3m5 0h1m1 0h1m-22 1h2m5 0h1m1 0h3m3 0h2m-9 1h1m4 0h1m-11 1h1m4 0h1m5 0h1m-3 1h1m-8 2h1"/>
<path stroke-opacity="0.62" d="M284 382h1m-5 1h1m5 0h1m1 1h1m-7 2h1m4 0h1m-14 1h1m2 0h1m1 1h2m6 0h1m-10 1h1m5 0h1m6 0h1m-22 1h1m3 0h2m1 0h1m3 0h3m9 0h1m-17 1h1m2 0h2m1 0h2m1 0h1m2 0h1m1 0h1m1 0h1m-22 1h1m4 0h2m4 0h2m2 0h1m2 0h1m-12 1h1m6 0h1m1 0h2m1 0h3m-19 1h4m1 0h2m3 0h2m2 0h1m1 0h1m-23 1h1m2 0h2m3 0h4m1 0h2m1 0h1m1 0h1m3 0h1m-21 1h1m7 0h1m1 0h1m1 0h1m4 0h2m1 0h1m2 0h1m-23 1h3m1 0h1m1 0h5m2 0h2m-16 1h1m4 0h1m1 0h2m4 0h1m2 0h2m1 0h1m-24 1h1m5 0h1m1 0h1m2 0h1m2 0h2m1 0h1m1 0h2m1 0h1m2 0h1m-19 1h2m1 0h2m1 0h6m-11 1h2m3 0h1m3 0h1m1 0h1m-13 1h1m1 0h1m2 0h2m2 0h1m4 0h1m-18 1h1m2 0h1m2 0h1m3 0h3m1 0h1m1 0h1m-12 1h1m1 0h2m5 0h1m3 0h1m1 0h1m-16 1h1m1 0h1m1 0h1m8 0h1m-12 1h1m2 0h2m2 0h1m-9 1h1m1 0h1m5 0h1m-14 1h1m3 0h1m2 0h1m4 0h1m-43 15h1m-11 2h1m2 0h1m6 0h1m3 0h1m-24 1h1m13 0h1m3 0h2m1 0h1m2 0h1m-18 1h1m2 0h1m5 0h3m2 0h1m-28 1h1m7 0h1m3 0h1m2 0h2m6 0h4m2 0h1m-23 1h1m3 0h1m3 0h1m2 0h1m2 0h2m5 0h4m-25 1h1m2 0h2m1 0h1m2 0h1m4 0h3m4 0h1m-22 1h1m1 0h1m1 0h7m1 0h1m1 0h2m5 0h1m1 0h1m3 0h1m2 0h1m-26 1h2m2 0h3m1 0h1m1 0h3m2 0h2m2 0h1m-28 1h1m2 0h1m5 0h6m1 0h2m1 0h4m2 0h3m-23 1h1m2 0h3m1 0h1m2 0h1m1 0h6m1 0h1m2 0h1m2 0h1m-29 1h2m2 0h2m1 0h2m1 0h5m1 0h4m1 0h2m1 0h2m2 0h1m-32 1h1m1 0h2m1 0h1m1 0h5m1 0h3m4 0h4m3 0h2m-29 1h2m4 0h4m2 0h2m1 0h9m1 0h2m1 0h1m-37 1h1m11 0h2m1 0h2m1 0h1m1 0h1m1 0h2m1 0h4m3 0h2m-25 1h1m3 0h3m2 0h4m1 0h1m1 0h3m2 0h3m-24 1h1m1 0h1m1 0h1m3 0h2m1 0h2m2 0h3m1 0h1m2 0h1m-21 1h1m1 0h1m2 0h2m1 0h1m2 0h4m1 0h3m3 0h2m-23 1h4m2 0h8m1 0h1m2 0h1m-30 1h1m3 0h2m2 0h2m2 0h1m1 0h1m1 0h1m1 0h6m1 0h5m2 0h1m-29 1h1m1 0h1m2 0h2m1 0h1m3 0h5m1 0h4m3 0h2m-27 1h2m1 0h1m1 0h2m3 0h1m1 0h5m1 0h4m-19 1h4m1 0h2m1 0h1m1 0h1m3 0h1m4 0h1m2 0h2m1 0h1m-30 1h1m7 0h1m1 0h2m2 0h2m1 0h1m1 0h1m1 0h1m5 0h1m-26 1h1m1 0h1m6 0h3m3 0h2m7 0h1m-18 1h3m4 0h1m5 0h1m-24 1h1m11 0h1m3 0h2m2 0h1m2 0h1m-21 1h1m2 0h1m1 0h1m2 0h1m1 0h2m1 0h1m1 0h1m2 0h1m2 0h1m-12 1h2m1 0h1m-10 1h1m4 0h1m3 0h1"/>
<path stroke-opacity="0.62" d="M289 384h1m-15 2h1m1 0h1m8 0h1m-12 1h1m2 0h1m11 0h1m-7 1h1m2 0h1m-15 1h1m5 0h1m6 0h1m1 0h1m3 0h1m-7 1h1m1 0h2m5 0h1m-20 1h1m2 0h1m2 0h1m1 0h1m1 0h1m5 0h1m-21 1h1m7 0h1m1 0h2m2 0h1m1 0h2m1 0h1m-19 1h1m3 0h1m1 0h2m3 0h5m-15 1h2m1 0h1m5 0h2m4 0h1m-6 1h6m2 0h2m1 0h1m-24 1h2m2 0h1m2 0h2m4 0h1m1 0h5m-21 1h1m2 0h1m4 0h8m-17 1h1m2 0h1m1 0h1m1 0h1m1 0h2m1 0h2m1 0h2m4 0h2m-20 1h2m2 0h3m2 0h1m2 0h1m1 0h1m2 0h1m1 0h1m-25 1h1m2 0h1m3 0h1m3 0h1m7 0h1m3 0h1m-25 1h1m9 0h3m1 0h1m1 0h1m3 0h2m3 0h1m-22 1h1m6 0h1m1 0h2m4 0h1m-12 1h1m1 0h1m5 0h1m-10 1h2m2 0h3m2 0h1m3 0h1m-13 1h1m4 0h1m9 0h1m-11 1h2m4 0h1m-16 1h1m15 5h1m-50 4h1m2 8h1m-7 1h1m1 0h1m1 0h1m6 0h2m-19 1h1m7 0h2m-9 1h1m5 0h1m3 0h1m2 0h1m1 0h1m1 0h1m-22 1h1m1 0h1m7 0h1m2 0h2m1 0h2m4 0h1m-25 1h2m6 0h5m3 0h2m1 0h1m2 0h1m-17 1h1m4 0h1m8 0h1m2 0h2m-25 1h1m1 0h1m1 0h2m1 0h1m1 0h8m1 0h4m-19 1h1m2 0h5m1 0h4m3 0h1m-21 1h1m4 0h2m1 0h3m1 0h4m1 0h1m1 0h1m1 0h1m5 0h1m-30 1h1m2 0h1m1 0h4m1 0h3m1 0h8m1 0h2m-25 1h2m2 0h1m1 0h6m1 0h2m1 0h2m2 0h1m1 0h3m2 0h1m2 0h1m-30 1h1m1 0h2m1 0h1m1 0h2m1 0h3m1 0h4m1 0h1m2 0h3m-21 1h3m2 0h4m1 0h3m2 0h1m1 0h2m1 0h1m1 0h1m-25 1h1m1 0h4m1 0h2m1 0h3m1 0h1m5 0h1m-24 1h1m1 0h1m1 0h14m1 0h2m1 0h1m2 0h1m-24 1h2m1 0h16m1 0h1m2 0h1m-25 1h1m2 0h3m1 0h3m1 0h3m1 0h4m2 0h1m1 0h1m1 0h1m-30 1h4m1 0h2m1 0h11m1 0h2m1 0h1m1 0h2m3 0h1m-31 1h1m2 0h1m1 0h1m2 0h2m1 0h3m1 0h1m1 0h1m1 0h1m1 0h2m3 0h1m1 0h1m-26 1h1m1 0h3m1 0h3m1 0h1m2 0h2m2 0h1m1 0h2m1 0h2m1 0h1m-27 1h1m2 0h6m1 0h5m1 0h1m1 0h3m-18 1h3m2 0h1m3 0h2m3 0h2m2 0h1m1 0h1m-22 1h2m4 0h3m8 0h1m-22 1h1m2 0h1m1 0h1m3 0h1m2 0h2m1 0h1m1 0h1m1 0h5m-22 1h1m2 0h1m2 0h1m2 0h1m3 0h1m3 0h1m-16 1h2m1 0h1m1 0h1m5 0h1m-11 1h1m3 0h2m-5 1h2m3 0h2m1 0h1m-9 1h1m-10 1h1m12 0h2"/>
<path stroke-opacity="0.62" d="M423 381h1m-2 1h1m-2 1h1m3 0h1m1 0h1m-9 1h1m2 0h1m-7 1h1m9 0h2m-11 1h4m1 0h1m1 0h1m1 0h1m1 0h1m-18 1h1m5 0h2m1 0h1m1 0h1m2 0h3m-9 1h1m2 0h1m2 0h1m-13 1h1m8 0h1m1 0h1m-11 1h1m1 0h1m3 0h1m1 0h1m1 0h1m4 0h1m-16 1h1m3 0h1m1 0h1m2 0h1m2 0h1m-19 1h2m2 0h1m4 0h4m6 0h1m-19 1h1m3 0h2m1 0h1m2 0h1m1 0h2m3 0h1m-14 1h2m2 0h1m4 0h3m3 0h1m1 0h1m-22 1h1m1 0h3m1 0h3m7 0h2m-15 1h1m1 0h1m1 0h2m1 0h1m2 0h1m1 0h1m2 0h1m-15 1h2m2 0h3m1 0h1m5 0h1m1 0h1m-19 1h1m5 0h1m3 0h2m2 0h1m1 0h1m-16 1h2m3 0h3m1 0h1m7 0h2m-21 1h1m5 0h2m3 0h2m2 0h1m2 0h1m-22 1h1m2 0h1m1 0h1m3 0h1m1 0h1m1 0h2m1 0h2m-11 1h3m2 0h1m4 0h1m-12 1h1m2 0h1m2 0h2m2 0h2m1 0h1m-12 1h1m3 0h4m3 0h1m-17 1h1m8 0h1m6 0h1m-17 1h1m5 0h2m-8 1h1m3 0h1m-4 1h1m1 0h1m4 0h1m-4 1h1m4 0h1m-8 1h1m4 0h1m-25 5h1m-21 1h1m-2 3h1m-3 1h1m-7 1h2m6 0h2m-8 1h1m2 0h1m4 1h1m5 0h1m-16 1h1m4 0h1m3 0h1m-13 1h1m7 0h1m6 0h1m5 0h1m-23 1h1m1 0h1m3 0h1m5 0h3m-5 1h3m2 0h1m1 0h2m1 0h1m-22 1h3m4 0h3m1 0h5m1 0h1m5 0h1m-24 1h1m2 0h1m1 0h6m1 0h5m1 0h1m1 0h1m2 0h1m1 0h1m-30 1h1m1 0h1m1 0h1m1 0h2m1 0h1m2 0h1m2 0h2m1 0h3m2 0h2m2 0h1m-30 1h1m3 0h2m1 0h1m3 0h1m2 0h5m1 0h3m1 0h1m2 0h2m-24 1h1m1 0h5m1 0h5m1 0h3m5 0h2m-25 1h2m3 0h2m2 0h4m1 0h4m3 0h2m3 0h1m-28 1h1m5 0h1m1 0h13m1 0h1m3 0h1m-26 1h1m1 0h1m1 0h2m1 0h11m-19 1h1m4 0h1m1 0h3m2 0h2m2 0h2m3 0h4m-24 1h1m2 0h4m1 0h5m1 0h6m-23 1h3m5 0h11m2 0h1m-23 1h1m3 0h1m1 0h2m1 0h2m2 0h1m1 0h1m3 0h5m3 0h2m-27 1h1m1 0h1m1 0h1m1 0h1m1 0h9m1 0h2m1 0h3m2 0h1m-25 1h2m2 0h3m1 0h3m1 0h2m1 0h3m1 0h1m-22 1h1m5 0h2m2 0h2m1 0h1m4 0h1m1 0h3m4 0h1m-27 1h1m2 0h5m1 0h4m1 0h1m4 0h1m1 0h1m1 0h1m-25 1h1m3 0h1m4 0h1m2 0h1m1 0h1m6 0h2m1 0h1m1 0h1m-29 1h1m4 0h1m1 0h1m2 0h1m1 0h3m1 0h2m3 0h1m4 0h1m-22 1h1m2 0h1m3 0h4m2 0h3m-15 1h4m2 0h1m1 0h1m5 0h1m3 0h1m-21 1h1m4 0h1m2 0h1m7 0h1m4 0h2m-21 1h1m1 0h1m1 0h1m-2 1h2m1 0h1m4 0h2m-11 1h1m9 0h1m-17 1h1m9 0h2m2 0h2m-9 6h1"/>
<path stroke-opacity="0.62" d="M424 380h1m0 1h1m-3 1h1m-4 1h2m1 0h1m-4 2h1m3 0h1m-6 1h1m6 0h1m1 0h2m-19 1h2m2 0h1m1 0h1m4 0h3m2 0h1m-15 1h1m3 0h1m2 0h1m4 0h1m1 0h1m-17 1h1m5 0h1m2 0h1m5 0h1m-19 1h1m5 0h1m1 0h1m2 0h2m1 0h1m1 0h3m-16 1h1m2 0h1m1 0h1m8 0h2m1 0h1m-13 1h1m4 0h1m3 0h4m-22 1h1m6 0h1m2 0h2m1 0h2m3 0h1m2 0h1m-17 1h1m2 0h1m1 0h4m2 0h4m4 0h1m-24 1h1m5 0h5m1 0h5m1 0h1m1 0h1m-17 1h1m3 0h5m2 0h1m1 0h1m-9 1h2m5 0h1m1 0h1m3 0h2m-24 1h1m5 0h1m1 0h5m3 0h1m1 0h2m-18 1h2m1 0h3m4 0h1m1 0h2m2 0h1m-21 1h1m5 0h1m4 0h3m2 0h2m3 0h1m1 0h1m-22 1h1m1 0h1m2 0h1m1 0h1m5 0h2m-12 1h1m1 0h3m3 0h1m1 0h1m-15 1h1m4 0h1m1 0h1m1 0h1m1 0h2m-11 1h2m4 0h1m2 0h2m-3 1h1m2 0h1m1 0h1m2 0h1m-13 2h1m1 0h1m17 0h1m-18 1h1m-8 1h1m9 0h1m-13 3h1m17 0h1m-47 6h1m-16 2h1m7 0h1m-10 1h1m5 0h1m0 1h1m2 0h1m1 0h1m1 0h1m1 0h1m1 0h1m-18 1h1m2 0h1m6 0h1m1 0h1m5 0h1m-21 1h1m5 0h1m5 0h2m1 0h1m-15 1h1m3 0h1m1 0h1m6 0h3m2 0h1m-22 1h1m5 0h1m1 0h2m2 0h3m1 0h3m-21 1h1m1 0h2m2 0h1m1 0h2m2 0h9m1 0h1m5 0h1m-26 1h1m4 0h1m2 0h4m1 0h1m1 0h1m2 0h1m7 0h1m-26 1h1m6 0h1m1 0h3m1 0h6m2 0h1m1 0h1m1 0h1m-26 1h2m1 0h1m3 0h5m1 0h2m2 0h2m3 0h1m-29 1h1m2 0h2m1 0h1m2 0h1m2 0h7m1 0h5m1 0h1m2 0h2m-32 1h1m6 0h2m4 0h2m1 0h2m2 0h1m6 0h1m3 0h2m-32 1h1m3 0h2m1 0h12m1 0h3m-24 1h2m3 0h1m3 0h4m2 0h2m2 0h3m2 0h5m-26 1h1m2 0h1m1 0h1m1 0h4m2 0h8m2 0h4m-25 1h2m1 0h2m1 0h5m1 0h1m3 0h2m-23 1h1m1 0h2m2 0h1m3 0h9m1 0h1m1 0h1m1 0h1m4 0h1m-28 1h2m2 0h1m2 0h5m1 0h5m1 0h2m1 0h1m6 0h1m-30 1h1m5 0h7m1 0h7m1 0h1m1 0h2m-23 1h4m2 0h7m1 0h4m8 0h1m-29 1h1m2 0h3m1 0h1m1 0h1m1 0h4m1 0h7m5 0h1m-29 1h7m1 0h1m1 0h2m2 0h4m1 0h3m1 0h1m-23 1h1m1 0h1m1 0h1m2 0h2m1 0h2m1 0h1m1 0h4m1 0h1m-22 1h1m6 0h3m3 0h1m1 0h1m4 0h2m2 0h2m-27 1h1m3 0h1m2 0h1m1 0h1m1 0h5m1 0h1m4 0h1m3 0h1m-28 1h2m3 0h1m1 0h1m2 0h1m1 0h2m1 0h1m1 0h1m1 0h1m1 0h1m1 0h1m2 0h1m-18 1h3m7 0h1m4 0h1m-24 1h1m9 0h1m2 0h1m2 0h1m1 0h1m3 0h1m-21 1h1m2 0h1m7 0h1m3 0h1m1 0h1m-15 1h1m5 0h1m-5 1h1m10 0h1m-6 1h1"/>
<path stroke-opacity="0.62" d="M421 381h1m2 2h1m-8 1h1m2 0h1m3 0h1m-9 1h1m6 0h1m-11 1h2m1 0h1m2 0h2m3 0h1m-10 1h1m5 0h4m-7 1h1m1 0h1m1 0h2m-12 1h1m3 0h1m2 0h2m2 0h1m1 0h1m-14 1h1m5 0h3m2 0h1m1 0h2m-11 1h3m2 0h1m2 0h1m3 0h1m-20 1h1m5 0h1m1 0h1m4 0h1m2 0h1m-17 1h1m1 0h2m1 0h4m2 0h4m2 0h1m-16 1h1m3 0h1m1 0h4m1 0h1m3 0h1m-19 1h1m8 0h3m2 0h1m1 0h1m4 0h2m-25 1h1m7 0h5m4 0h1m1 0h1m4 0h1m-20 1h3m1 0h3m1 0h1m1 0h1m4 0h1m-19 1h1m2 0h1m5 0h3m1 0h2m3 0h1m1 0h1m-23 1h1m6 0h3m3 0h1m1 0h1m2 0h2m2 0h1m-22 1h1m3 0h2m1 0h1m2 0h3m2 0h1m2 0h1m2 0h1m-21 1h2m7 0h2m1 0h1m-13 1h1m13 0h3m-16 1h2m2 0h2m2 0h1m1 0h1m-4 1h3m1 0h1m2 0h1m3 0h1m-13 1h3m3 0h1m3 0h1m-16 1h1m9 0h2m-9 1h4m-4 1h1m6 0h1m-10 1h1m2 1h1m0 1h1m3 0h1m-46 4h1m-6 4h1m0 1h1m2 0h1m3 0h1m-8 1h1m8 0h1m-10 1h3m3 0h1m2 0h1m-15 1h1m2 0h1m2 0h2m6 0h1m3 0h1m-13 1h3m5 0h1m4 0h1m-20 1h1m1 0h1m6 0h2m1 0h1m4 0h1m2 0h1m-31 1h1m11 0h1m1 0h1m2 0h2m-13 1h1m2 0h1m1 0h1m2 0h1m7 0h1m1 0h1m-21 1h1m1 0h2m2 0h1m2 0h2m2 0h1m2 0h2m3 0h1m2 0h1m-23 1h2m1 0h3m1 0h2m1 0h3m1 0h1m1 0h4m-25 1h1m1 0h1m2 0h2m1 0h2m2 0h3m1 0h1m1 0h1m1 0h2m1 0h1m1 0h1m1 0h1m-24 1h1m3 0h3m2 0h7m6 0h1m1 0h2m-31 1h1m5 0h1m1 0h1m1 0h1m1 0h5m1 0h5m1 0h2m2 0h2m-27 1h1m5 0h1m1 0h2m1 0h8m1 0h1m-22 1h1m1 0h1m1 0h1m1 0h3m1 0h3m2 0h2m2 0h2m2 0h1m1 0h1m-29 1h1m2 0h1m4 0h1m1 0h1m4 0h2m1 0h1m2 0h4m2 0h2m1 0h2m-32 1h2m3 0h3m2 0h3m1 0h1m1 0h1m2 0h1m1 0h1m1 0h1m1 0h2m1 0h3m-24 1h1m1 0h2m1 0h5m1 0h6m1 0h2m-26 1h1m4 0h1m1 0h8m1 0h2m1 0h4m3 0h1m2 0h1m-27 1h2m2 0h1m2 0h1m1 0h1m1 0h8m1 0h1m-24 1h2m1 0h1m1 0h2m1 0h4m1 0h9m-21 1h1m3 0h1m2 0h2m2 0h7m2 0h1m1 0h1m3 0h1m-22 1h3m2 0h3m1 0h6m2 0h1m2 0h1m2 0h1m-26 1h1m1 0h6m1 0h2m1 0h5m1 0h1m2 0h1m-21 1h1m1 0h3m2 0h6m3 0h1m2 0h1m1 0h1m4 0h1m-22 1h3m1 0h4m1 0h2m7 0h1m-19 1h1m4 0h1m4 0h2m4 0h1m-23 1h2m5 0h1m1 0h1m1 0h1m4 0h3m-18 1h1m7 0h2m4 0h1m1 0h1m1 0h1m-13 1h1m5 0h1m-14 1h1m9 0h1m2 0h1m-11 1h2m3 0h1m2 0h1m1 0h1m-7 1h2"/>
<path stroke-opacity="0.62" d="M558 386h1m-3 1h1m5 0h1m3 0h1m1 0h1m-17 1h1m1 0h2m1 0h1m5 0h1m6 0h1m-18 1h1m1 0h1m1 0h1m2 0h1m10 0h1m-22 1h1m2 0h1m1 0h6m-7 1h1m2 0h1m2 0h2m1 0h1m3 0h1m1 0h1m1 0h1m-24 1h1m6 0h1m2 0h2m2 0h1m2 0h1m1 0h1m-18 1h1m3 0h2m1 0h1m1 0h1m5 0h2m2 0h1m1 0h1m-26 1h1m1 0h1m5 0h1m1 0h2m1 0h5m1 0h1m3 0h2m-29 1h1m3 0h2m2 0h3m1 0h2m1 0h1m1 0h2m1 0h4m1 0h1m3 0h2m-27 1h2m2 0h12m1 0h2m1 0h3m-23 1h4m2 0h6m1 0h7m1 0h2m-28 1h2m1 0h3m4 0h1m3 0h6m1 0h2m1 0h1m1 0h1m1 0h2m1 0h1m-31 1h1m1 0h1m3 0h3m1 0h1m1 0h5m1 0h2m1 0h2m4 0h1m1 0h2m-26 1h5m1 0h11m1 0h2m2 0h1m2 0h1m-30 1h1m2 0h4m2 0h1m1 0h5m2 0h1m1 0h1m3 0h2m-26 1h1m3 0h2m1 0h2m1 0h1m1 0h1m1 0h1m1 0h1m2 0h2m4 0h2m-28 1h1m2 0h1m1 0h1m1 0h2m2 0h1m1 0h1m2 0h2m1 0h1m4 0h1m-28 1h1m8 0h1m4 0h1m1 0h2m1 0h1m4 0h2m1 0h1m-27 1h1m1 0h1m5 0h1m2 0h6m1 0h3m5 0h1m-27 1h1m1 0h1m7 0h3m1 0h1m2 0h1m1 0h2m-19 1h1m1 0h1m6 0h2m2 0h1m-4 1h1m5 0h1m4 0h1m-9 1h1m1 0h1m-8 1h1m3 1h1m-44 9h1m-2 3h1m-1 1h1m-4 1h1m-2 1h1m2 0h1m12 0h1m-21 1h2m9 0h1m5 0h1m2 0h2m-27 1h1m7 0h2m6 0h1m1 0h1m2 0h1m1 0h2m-10 1h2m-13 1h1m3 0h2m2 0h6m2 0h1m5 0h1m-24 1h1m3 0h1m2 0h10m4 0h1m-20 1h1m4 0h5m1 0h3m8 0h1m-23 1h2m1 0h1m1 0h3m1 0h1m1 0h3m1 0h1m-18 1h1m3 0h1m1 0h1m2 0h2m1 0h3m1 0h3m2 0h1m-22 1h1m4 0h3m1 0h1m1 0h1m1 0h1m1 0h1m1 0h2m1 0h1m-13 1h1m1 0h1m1 0h8m-23 1h1m3 0h2m1 0h2m1 0h6m2 0h1m3 0h3m-23 1h1m1 0h1m1 0h1m1 0h3m1 0h1m3 0h2m1 0h1m2 0h1m-22 1h1m4 0h1m3 0h2m1 0h1m2 0h2m2 0h2m1 0h1m-25 1h1m2 0h1m2 0h1m3 0h4m1 0h2m4 0h1m2 0h1m-17 1h5m2 0h1m1 0h1m1 0h1m1 0h1m3 0h1m-19 1h1m1 0h2m2 0h3m1 0h1m3 0h4m-22 1h2m1 0h1m1 0h10m2 0h2m-19 1h1m2 0h1m1 0h4m3 0h1m2 0h1m-18 1h2m3 0h2m3 0h1m1 0h2m5 0h1m-17 1h1m5 0h5m2 0h1m-17 1h2m3 0h1m6 0h1m-10 1h1m2 0h1m4 0h2m2 0h1m1 0h1m-10 1h1m-5 1h1m6 0h1m3 0h2m-14 1h1m2 0h1m-9 1h1"/>
<path stroke-opacity="0.62" d="M549 385h1m11 0h1m-9 2h1m2 0h1m2 0h1m5 0h2m-14 1h1m2 0h1m1 0h1m3 0h2m1 0h1m-18 1h1m3 0h1m5 0h1m1 0h1m1 0h2m1 0h1m-12 1h1m1 0h3m1 0h2m1 0h1m2 0h1m-20 1h2m1 0h2m1 0h1m1 0h1m1 0h1m10 0h2m-26 1h1m1 0h1m5 0h2m2 0h2m3 0h1m2 0h1m1 0h1m2 0h1m-27 1h1m4 0h3m4 0h4m2 0h3m7 0h1m-20 1h14m5 0h1m-31 1h1m6 0h5m1 0h1m1 0h1m2 0h2m1 0h3m2 0h1m3 0h1m-26 1h3m2 0h1m2 0h2m1 0h4m1 0h1m1 0h3m1 0h1m1 0h1m1 0h2m-30 1h1m1 0h1m1 0h1m1 0h3m1 0h2m1 0h2m2 0h1m3 0h1m4 0h1m-25 1h1m1 0h2m3 0h2m1 0h5m1 0h1m1 0h2m2 0h1m-25 1h2m1 0h9m2 0h2m2 0h3m1 0h3m4 0h1m-32 1h1m9 0h3m1 0h1m1 0h1m1 0h2m1 0h4m-24 1h1m2 0h1m3 0h5m1 0h1m1 0h5m-20 1h1m1 0h1m1 0h1m1 0h1m2 0h2m3 0h4m1 0h1m4 0h1m-20 1h1m1 0h2m1 0h7m2 0h1m4 0h1m-20 1h1m4 0h4m1 0h1m1 0h2m2 0h1m2 0h1m-26 1h1m5 0h1m1 0h1m1 0h1m2 0h1m3 0h2m3 0h2m2 0h1m-22 1h3m1 0h1m1 0h2m1 0h1m1 0h3m1 0h1m2 0h1m-15 1h3m5 0h1m-17 1h1m2 0h1m1 0h1m1 0h2m2 0h3m1 0h1m5 0h2m-19 1h1m4 0h2m12 0h1m-15 1h1m1 0h1m5 0h1m9 1h1m-64 9h1m6 3h1m3 1h1m-5 1h1m-3 1h3m4 0h1m-8 1h2m3 0h1m2 0h1m-15 1h1m1 0h2m5 0h3m2 0h1m1 0h1m-11 1h1m3 0h1m1 0h1m-18 1h1m2 0h1m3 0h2m1 0h3m2 0h2m2 0h1m-8 1h1m1 0h1m4 0h3m-21 1h1m3 0h2m2 0h1m2 0h1m1 0h1m1 0h1m4 0h2m-23 1h1m1 0h1m1 0h1m1 0h1m2 0h1m1 0h2m6 0h1m2 0h1m-25 1h2m1 0h1m2 0h2m1 0h1m1 0h6m1 0h1m5 0h1m1 0h1m-22 1h1m1 0h9m2 0h3m4 0h1m-24 1h1m1 0h3m1 0h4m1 0h2m1 0h2m1 0h2m-21 1h1m2 0h5m1 0h1m1 0h3m1 0h1m1 0h1m1 0h2m2 0h1m-26 1h2m4 0h1m1 0h2m1 0h9m2 0h1m2 0h1m-23 1h1m3 0h2m1 0h2m1 0h3m1 0h3m3 0h1m-24 1h1m3 0h2m1 0h1m2 0h8m1 0h1m1 0h1m1 0h1m1 0h1m-26 1h1m2 0h1m1 0h1m2 0h1m1 0h11m3 0h1m-26 1h1m1 0h2m3 0h10m2 0h2m-22 1h1m3 0h1m3 0h2m1 0h1m5 0h2m3 0h1m2 0h2m-23 1h1m4 0h1m3 0h1m3 0h1m4 0h1m-22 1h1m1 0h1m3 0h4m2 0h1m1 0h2m2 0h1m1 0h1m-18 1h1m3 0h5m2 0h1m3 0h1m3 0h1m-21 1h1m7 0h1m6 0h1m1 0h1m-10 1h4m-2 1h1m3 0h1m1 0h1m-5 1h1m-8 1h2m6 0h1m-7 1h1"/>
<path stroke-opacity="0.62" d="M558 385h2m0 1h1m4 0h1m-6 1h2m1 0h1m4 0h1m-18 1h1m4 0h2m1 0h2m1 0h1m-10 1h1m3 0h4m2 0h1m3 0h2m-18 1h1m3 0h1m2 0h1m1 0h2m3 0h1m-17 1h3m1 0h3m4 0h7m-16 1h7m4 0h1m4 0h1m1 0h1m-28 1h1m6 0h1m1 0h2m1 0h1m1 0h1m1 0h1m1 0h7m3 0h1m-23 1h1m6 0h2m1 0h2m1 0h3m1 0h2m7 0h1m-33 1h1m5 0h4m1 0h1m2 0h9m2 0h1m1 0h1m-22 1h4m1 0h11m1 0h3m-26 1h1m4 0h6m1 0h3m2 0h7m-28 1h1m6 0h2m1 0h2m1 0h1m1 0h1m3 0h1m1 0h2m1 0h5m3 0h1m1 0h1m1 0h1m-34 1h1m5 0h1m2 0h1m1 0h10m1 0h3m3 0h2m2 0h1m-33 1h2m1 0h2m1 0h3m1 0h2m1 0h4m2 0h1m1 0h1m1 0h3m-26 1h2m3 0h2m1 0h5m1 0h1m1 0h8m2 0h1m3 0h1m-32 1h1m7 0h1m3 0h2m1 0h1m1 0h2m1 0h2m1 0h3m-25 1h1m3 0h3m1 0h2m4 0h3m1 0h2m2 0h2m1 0h1m-25 1h3m1 0h1m1 0h1m3 0h1m1 0h4m2 0h3m2 0h1m2 0h1m-24 1h1m2 0h1m3 0h3m5 0h3m-22 1h1m3 0h2m1 0h3m1 0h2m4 0h1m4 0h1m-15 1h1m1 0h2m4 0h1m5 0h1m-14 1h1m4 0h1m2 0h1m2 0h1m-15 1h1m6 0h2m1 0h1m-2 1h1m-6 1h1m-35 12h1m1 0h1m-8 1h1m7 0h1m-15 2h1m2 0h2m1 0h2m-3 1h1m8 0h1m1 0h1m-10 1h1m4 0h1m1 0h2m-20 1h1m4 0h2m1 0h1m1 0h2m2 0h2m-14 1h1m6 0h1m1 0h2m2 0h3m1 0h1m2 0h1m-19 1h1m4 0h1m1 0h1m2 0h2m2 0h1m-19 1h1m4 0h1m1 0h4m4 0h2m5 0h1m-23 1h1m1 0h1m1 0h9m4 0h3m1 0h1m-23 1h1m1 0h3m2 0h3m1 0h7m1 0h3m-25 1h1m1 0h1m3 0h1m1 0h2m2 0h1m1 0h1m1 0h5m4 0h1m-27 1h2m2 0h1m7 0h4m1 0h2m2 0h1m2 0h2m-24 1h1m2 0h1m1 0h1m1 0h1m1 0h5m1 0h1m2 0h1m1 0h1m4 0h1m-23 1h1m1 0h1m1 0h2m1 0h3m2 0h2m3 0h2m-25 1h1m3 0h2m2 0h1m3 0h5m1 0h1m1 0h1m3 0h1m-20 1h1m3 0h6m1 0h1m1 0h1m7 0h1m-26 1h1m4 0h1m1 0h5m3 0h2m1 0h1m1 0h1m8 0h1m-30 1h1m1 0h2m2 0h2m1 0h1m1 0h1m2 0h1m2 0h1m1 0h2m-18 1h2m2 0h2m1 0h4m2 0h2m4 0h1m1 0h1m-26 1h1m5 0h1m1 0h1m2 0h4m2 0h2m-13 1h1m1 0h3m2 0h1m2 0h4m-11 1h1m1 0h3m2 0h1m2 0h1m-20 1h1m4 0h1m2 0h1m7 0h1m2 0h1m-9 1h2m1 0h1m1 0h2m-14 1h1m1 0h1m9 0h1m5 0h1m-27 1h1m6 0h1m7 0h1m1 0h1m1 0h1m-11 1h1m1 0h1m3 0h1m2 0h1m-3 1h1m3 4h1"/>
<path stroke-opacity="0.62" d="M120 531h1m-14 9h1m-8 1h1m3 0h1m1 0h1m2 0h1m-6 1h1m1 0h3m4 0h1m-13 1h1m5 0h1m-14 1h1m5 0h1m2 0h1m7 0h1m-17 1h1m1 0h2m1 0h3m4 0h1m1 0h1m-16 1h1m1 0h1m2 0h2m1 0h1m2 0h4m2 0h1m-12 1h1m1 0h2m1 0h2m2 0h2m1 0h1m-24 1h1m3 0h1m1 0h1m1 0h1m2 0h1m2 0h1m1 0h4m2 0h1m1 0h1m-27 1h1m1 0h1m2 0h3m1 0h4m1 0h2m5 0h1m3 0h2m-28 1h1m5 0h1m1 0h5m1 0h2m1 0h5m2 0h1m1 0h2m2 0h1m-27 1h1m4 0h1m1 0h9m1 0h1m2 0h3m2 0h1m-28 1h1m3 0h1m2 0h1m1 0h1m1 0h1m1 0h5m2 0h4m-25 1h4m1 0h17m2 0h2m4 0h1m-34 1h2m1 0h1m2 0h3m1 0h3m1 0h4m1 0h3m1 0h2m2 0h1m5 0h1m-32 1h1m1 0h2m3 0h6m1 0h5m1 0h1m1 0h1m3 0h3m2 0h1m-33 1h2m1 0h1m2 0h5m1 0h8m2 0h5m1 0h1m-32 1h1m1 0h2m1 0h2m1 0h1m2 0h14m1 0h1m1 0h1m2 0h1m-31 1h4m1 0h3m1 0h1m1 0h10m2 0h4m1 0h1m2 0h1m2 0h1m-37 1h1m5 0h4m1 0h5m2 0h4m2 0h1m4 0h5m-34 1h1m2 0h1m1 0h3m2 0h7m2 0h7m1 0h4m-31 1h4m3 0h2m2 0h8m2 0h6m-24 1h2m2 0h10m1 0h1m3 0h6m4 0h1m1 0h1m-36 1h1m3 0h3m3 0h1m1 0h6m1 0h8m1 0h3m-28 1h1m5 0h1m1 0h3m1 0h3m2 0h1m1 0h2m1 0h1m1 0h1m3 0h1m1 0h1m-28 1h7m1 0h1m1 0h6m1 0h1m1 0h2m4 0h1m-32 1h1m7 0h1m1 0h1m2 0h6m1 0h2m2 0h1m2 0h1m-30 1h1m3 0h1m1 0h2m2 0h7m1 0h3m5 0h2m2 0h1m-28 1h2m3 0h1m3 0h3m2 0h1m2 0h3m3 0h1m2 0h1m-18 1h2m2 0h7m4 0h1m-21 1h2m4 0h1m2 0h1m2 0h2m1 0h1m6 0h1m-26 1h1m2 0h1m1 0h1m1 0h3m3 0h1m1 0h1m1 0h2m2 0h1m1 0h1m-20 1h1m2 0h1m4 0h1m1 0h1m2 0h1m-16 1h2m7 0h1m8 0h2m-15 1h1m4 0h1m1 0h2m1 0h1m2 0h1m5 0h1m-22 1h2m-1 1h1m5 0h1m1 0h1m-11 2h1m27 3h1"/>
<path stroke-opacity="0.62" d="M96 539h1m4 2h1m3 0h1m-6 1h2m2 0h1m-8 1h1m2 0h1m5 0h1m4 0h1m-18 1h2m1 0h1m1 0h1m3 0h2m7 0h1m-11 1h2m5 0h1m1 0h1m-20 1h1m2 0h2m2 0h4m2 0h2m5 0h1m3 0h1m-25 1h1m1 0h1m1 0h1m3 0h2m3 0h2m1 0h1m6 0h2m-28 1h1m3 0h2m10 0h1m2 0h3m-23 1h1m2 0h1m5 0h1m1 0h8m1 0h2m3 0h1m2 0h1m-27 1h1m4 0h4m2 0h1m1 0h4m2 0h1m1 0h1m2 0h2m-30 1h1m4 0h1m1 0h4m1 0h1m1 0h1m2 0h2m1 0h2m2 0h1m2 0h2m-28 1h1m2 0h2m4 0h3m1 0h6m1 0h1m4 0h3m-29 1h2m1 0h13m1 0h4m3 0h1m1 0h1m3 0h1m-33 1h1m6 0h2m1 0h11m1 0h1m1 0h2m4 0h3m-34 1h2m1 0h2m3 0h1m1 0h2m2 0h6m1 0h2m1 0h4m1 0h2m3 0h1m-31 1h2m2 0h7m1 0h5m1 0h3m1 0h1m2 0h2m1 0h1m-31 1h1m3 0h2m1 0h1m2 0h3m1 0h6m1 0h1m3 0h1m1 0h1m-32 1h3m2 0h6m1 0h3m1 0h12m1 0h1m2 0h2m1 0h1m-32 1h7m1 0h4m1 0h7m1 0h1m1 0h2m1 0h1m1 0h2m-32 1h2m1 0h3m1 0h17m2 0h3m-28 1h2m5 0h3m1 0h9m1 0h2m1 0h3m-25 1h10m1 0h2m1 0h7m1 0h1m-27 1h1m5 0h1m1 0h3m1 0h3m1 0h3m2 0h3m5 0h1m-37 1h1m5 0h1m6 0h3m1 0h11m1 0h2m5 0h2m-28 1h1m4 0h9m1 0h2m1 0h3m2 0h1m-23 1h1m1 0h1m1 0h1m1 0h1m1 0h1m1 0h6m1 0h2m-23 1h3m1 0h1m1 0h2m5 0h2m1 0h2m2 0h1m1 0h2m-22 1h1m5 0h1m3 0h3m2 0h2m1 0h3m3 0h1m-25 1h1m2 0h1m2 0h1m2 0h1m4 0h2m2 0h4m-23 1h2m5 0h1m5 0h2m2 0h1m-19 1h1m3 0h1m3 0h1m2 0h3m2 0h1m10 0h1m-27 1h1m2 0h1m8 0h2m2 0h1m1 0h1m-18 1h1m2 0h1m2 0h1m1 0h1m2 0h2m1 0h1m-17 1h1m2 0h1m5 0h2m3 0h1m-7 1h1m6 0h1m-28 2h1m15 8h1"/>
<path stroke-opacity="0.62" d="M112 536h1m-8 4h1m-6 1h1m6 0h2m-12 1h1m7 0h1m1 0h4m-13 1h1m1 0h2m1 0h1m7 0h1m-19 1h1m1 0h1m5 0h1m10 0h1m-21 1h1m4 0h1m5 0h1m3 0h1m1 0h2m3 0h1m-21 1h3m1 0h1m6 0h2m1 0h1m1 0h1m2 0h1m-22 1h1m5 0h2m1 0h1m4 0h1m2 0h1m1 0h1m1 0h1m-22 1h6m1 0h2m1 0h4m2 0h2m1 0h2m1 0h3m-24 1h3m1 0h4m2 0h3m1 0h1m1 0h1m2 0h1m2 0h1m2 0h1m-36 1h1m9 0h1m1 0h3m2 0h1m1 0h4m2 0h3m1 0h1m-27 1h1m1 0h1m1 0h1m4 0h1m1 0h5m2 0h5m5 0h1m-28 1h3m2 0h1m1 0h7m2 0h2m1 0h5m-23 1h2m2 0h7m2 0h9m2 0h1m3 0h1m-28 1h6m1 0h2m1 0h7m1 0h3m1 0h1m1 0h1m3 0h1m-29 1h3m1 0h2m2 0h3m2 0h7m1 0h1m5 0h1m-32 1h1m2 0h1m2 0h2m2 0h4m1 0h5m1 0h1m1 0h1m2 0h2m2 0h1m-33 1h1m3 0h7m1 0h6m1 0h4m1 0h2m2 0h2m2 0h1m1 0h1m-35 1h1m1 0h2m3 0h4m2 0h1m1 0h8m3 0h1m2 0h1m-30 1h1m2 0h3m2 0h16m1 0h1m2 0h1m2 0h1m-27 1h6m1 0h2m1 0h7m1 0h1m1 0h1m5 0h1m-30 1h1m1 0h8m2 0h4m1 0h1m1 0h1m1 0h1m1 0h3m-28 1h3m1 0h1m1 0h3m4 0h1m1 0h7m1 0h2m-27 1h7m1 0h13m2 0h1m1 0h3m4 0h1m-30 1h1m1 0h1m1 0h1m1 0h7m1 0h6m1 0h2m1 0h1m-28 1h1m2 0h1m1 0h1m2 0h1m1 0h4m1 0h5m1 0h2m1 0h2m-22 1h1m3 0h4m1 0h3m1 0h1m1 0h1m3 0h3m1 0h1m-25 1h1m3 0h1m2 0h1m2 0h2m1 0h1m1 0h1m2 0h1m1 0h2m2 0h1m-24 1h1m2 0h1m1 0h1m1 0h1m1 0h2m1 0h1m2 0h2m2 0h1m1 0h1m2 0h1m-29 1h1m2 0h4m3 0h3m1 0h1m2 0h3m2 0h2m2 0h1m-23 1h1m1 0h1m1 0h1m1 0h1m1 0h2m2 0h3m2 0h1m-22 1h1m11 0h1m1 0h1m1 0h1m2 0h1m1 0h2m-29 1h1m7 0h1m7 0h1m1 0h1m6 0h1m-17 1h1m3 0h3m4 0h3m4 0h1m-14 1h1m2 0h3m2 0h1m1 0h1m-14 1h1m3 0h2m1 0h2m2 0h1m6 0h1m-13 1h1m4 0h1m-8 8h1"/>
<path stroke-opacity="0.62" d="M281 511h1m-9 2h1m6 0h4m-11 1h1m3 0h1m3 0h1m4 0h1m-13 2h2m7 0h1m2 0h1m-11 1h2m1 0h2m-3 1h1m2 0h1m1 0h1m4 0h1m-19 1h1m1 0h1m4 0h4m5 0h1m-20 1h2m5 0h2m1 0h2m1 0h1m-13 1h1m3 0h2m2 0h3m1 0h2m1 0h1m6 0h1m-22 1h2m1 0h1m2 0h1m5 0h1m5 0h1m-19 1h1m4 0h3m2 0h1m2 0h1m2 0h1m-19 1h1m2 0h1m4 0h1m1 0h4m5 0h1m5 0h1m-23 1h1m2 0h1m1 0h1m1 0h2m9 0h1m-28 1h1m8 0h3m2 0h1m1 0h2m7 0h1m1 0h1m-23 1h1m1 0h1m4 0h3m2 0h5m3 0h1m-23 1h1m1 0h1m2 0h2m2 0h1m1 0h1m2 0h1m1 0h1m-11 1h1m2 0h3m1 0h1m9 0h1m-22 1h1m1 0h1m3 0h1m3 0h4m2 0h1m-16 1h1m3 0h1m2 0h1m7 0h1m-13 1h2m3 0h2m2 0h2m-10 1h1m2 0h1m2 0h1m-12 1h2m-31 1h1m29 0h1m2 1h1m5 0h1m-7 1h1m-17 3h1m-8 3h1m-2 1h1m1 1h1m-6 1h1m3 0h3m-21 1h1m7 0h1m1 0h1m1 0h2m1 0h1m1 0h2m-17 1h1m4 0h1m1 0h1m5 0h1m3 0h2m1 0h1m1 0h1m-25 1h1m4 0h1m12 0h1m-10 1h1m8 0h1m1 0h1m-27 1h1m9 0h2m1 0h2m4 0h1m1 0h1m2 0h1m3 0h1m-23 1h1m1 0h1m2 0h1m2 0h2m1 0h1m1 0h1m1 0h2m6 0h1m-25 1h2m1 0h1m2 0h1m1 0h3m1 0h2m5 0h1m-20 1h1m2 0h1m1 0h1m1 0h1m2 0h3m1 0h1m2 0h1m-25 1h1m4 0h2m3 0h1m1 0h8m1 0h1m1 0h1m3 0h1m-29 1h1m6 0h1m1 0h13m-22 1h1m1 0h1m4 0h2m2 0h2m2 0h3m1 0h1m2 0h3m1 0h2m3 0h2m-32 1h3m1 0h1m1 0h3m2 0h2m1 0h2m1 0h1m1 0h5m4 0h1m-32 1h1m12 0h1m2 0h2m1 0h5m1 0h1m2 0h1m-25 1h1m2 0h3m1 0h1m1 0h3m1 0h1m2 0h3m1 0h2m2 0h1m4 0h1m-34 1h1m6 0h9m1 0h1m1 0h6m1 0h1m-30 1h1m3 0h1m5 0h4m1 0h1m1 0h1m2 0h4m1 0h1m1 0h1m1 0h2m-28 1h1m4 0h7m2 0h2m2 0h1m1 0h1m1 0h2m2 0h2m1 0h1m-24 1h2m1 0h1m3 0h4m4 0h1m1 0h1m-26 1h1m2 0h1m1 0h1m1 0h1m3 0h2m2 0h1m2 0h1m1 0h4m1 0h1m1 0h1m-25 1h3m3 0h2m2 0h1m1 0h5m2 0h1m1 0h1m3 0h1m-24 1h1m3 0h1m1 0h1m5 0h3m1 0h1m1 0h2m-23 1h1m1 0h1m2 0h1m1 0h3m3 0h1m2 0h7m1 0h1m1 0h1m1 0h3m-37 1h1m7 0h1m1 0h1m4 0h2m1 0h2m2 0h1m1 0h1m1 0h3m2 0h1m-27 1h2m6 0h1m3 0h1m1 0h2m1 0h2m1 0h1m2 0h1m2 0h1m8 0h1m-35 1h4m10 0h2m3 0h2m1 0h1m1 0h1m-28 1h1m2 0h2m1 0h1m1 0h2m6 0h1m1 0h1m11 0h1m-25 1h1m3 0h1m1 0h3m2 0h1m3 0h1m1 0h1m2 0h1m-21 1h1m2 0h1m7 0h1m1 0h2m2 0h1m2 0h1m-26 1h1m2 0h1m1 0h1m1 0h1m1 0h1m1 0h1m2 0h2m3 0h1m-8 1h1m1 0h1m-13 1h1m4 0h2m3 0h1m-11 2h1m3 1h1m1 0h1"/>
<path stroke-opacity="0.62" d="M277 511h1m1 0h1m-9 2h2m3 0h1m-1 1h2m4 0h1m1 0h1m2 0h1m-15 1h1m4 0h1m3 0h1m-13 1h1m3 0h1m1 0h1m3 0h1m5 0h1m-22 1h1m14 0h1m5 0h1m1 0h1m-25 1h1m4 0h2m5 0h3m3 0h1m-19 1h1m7 0h3m1 0h7m2 0h1m3 0h1m-27 1h1m7 0h1m1 0h4m3 0h1m6 0h1m-25 1h1m5 0h1m2 0h2m3 0h1m2 0h3m1 0h1m1 0h1m-22 1h2m3 0h2m1 0h2m2 0h2m2 0h1m2 0h1m6 0h1m-27 1h1m2 0h1m3 0h4m1 0h1m4 0h1m2 0h2m2 0h1m-18 1h5m1 0h3m2 0h1m6 0h1m-23 1h1m1 0h1m2 0h8m2 0h1m1 0h1m-23 1h2m1 0h1m3 0h2m1 0h5m2 0h1m2 0h1m-19 1h1m2 0h2m1 0h7m1 0h1m4 0h1m-20 1h1m2 0h1m1 0h2m1 0h3m1 0h5m2 0h2m-21 1h1m5 0h2m5 0h1m-17 1h1m3 0h3m6 0h1m1 0h2m7 0h2m-18 1h1m2 0h1m6 0h1m1 0h1m-19 1h1m7 0h2m2 0h1m-12 1h2m6 0h2m1 0h2m-9 1h1m4 0h1m3 0h1m-7 2h1m5 0h1m-9 1h1m-8 1h1m-25 2h1m-3 3h1m2 0h1m3 1h1m5 0h1m-12 1h1m3 0h1m1 0h1m6 0h1m-22 1h1m8 0h1m6 0h2m-19 1h1m5 0h2m2 0h1m10 0h1m-24 1h1m2 0h1m6 0h1m2 0h1m3 0h4m1 0h1m-22 1h1m1 0h2m4 0h1m3 0h3m4 0h1m-21 1h1m1 0h1m3 0h2m4 0h1m3 0h1m1 0h2m1 0h1m-25 1h1m1 0h1m2 0h1m4 0h1m1 0h5m4 0h2m1 0h2m-25 1h1m1 0h1m1 0h1m5 0h2m1 0h3m1 0h1m4 0h1m-23 1h1m2 0h2m1 0h1m5 0h1m1 0h2m1 0h2m3 0h1m2 0h1m-26 1h1m4 0h1m1 0h1m1 0h3m1 0h1m3 0h2m2 0h1m2 0h2m-32 1h1m3 0h1m6 0h6m2 0h4m1 0h1m3 0h1m-20 1h1m1 0h1m3 0h3m1 0h4m1 0h1m4 0h1m1 0h1m-31 1h1m3 0h1m1 0h1m2 0h1m1 0h2m1 0h6m2 0h1m5 0h2m-33 1h3m1 0h1m4 0h1m2 0h5m2 0h2m1 0h1m1 0h1m2 0h1m1 0h1m2 0h2m-29 1h1m2 0h2m1 0h2m1 0h3m1 0h1m1 0h2m2 0h1m5 0h1m-32 1h1m7 0h4m1 0h9m2 0h1m1 0h1m3 0h2m2 0h1m-31 1h1m3 0h1m1 0h8m2 0h3m1 0h2m1 0h3m2 0h1m-29 1h1m1 0h2m2 0h1m1 0h6m1 0h5m3 0h1m1 0h2m-29 1h2m3 0h2m1 0h1m1 0h6m1 0h3m5 0h2m-26 1h1m2 0h2m3 0h7m2 0h3m1 0h1m4 0h3m1 0h1m-35 1h1m1 0h1m5 0h1m1 0h3m1 0h2m1 0h7m4 0h2m-30 1h1m2 0h1m1 0h2m2 0h8m1 0h1m1 0h3m1 0h1m2 0h1m-25 1h1m3 0h1m1 0h9m1 0h2m1 0h1m2 0h1m1 0h1m1 0h1m-26 1h1m3 0h4m1 0h4m1 0h2m3 0h1m4 0h3m-33 1h1m3 0h1m1 0h4m1 0h1m5 0h1m2 0h1m1 0h1m4 0h1m5 0h1m-35 1h1m3 0h1m2 0h3m2 0h3m1 0h8m1 0h1m3 0h1m-30 1h1m3 0h1m4 0h1m1 0h4m1 0h1m1 0h1m1 0h1m2 0h1m-22 1h1m3 0h1m4 0h1m3 0h1m3 0h1m1 0h2m1 0h2m-23 1h1m1 0h1m6 0h1m2 0h1m1 0h1m1 0h1m1 0h1m2 0h1m4 0h1m-24 1h1m7 0h1m2 0h2m3 0h2m2 0h1m-25 1h1m4 0h1m2 0h1m1 0h1m5 0h1m1 0h1m1 0h1m-20 1h1m4 0h2m5 0h1m1 0h1m6 0h1m-27 1h1m8 0h1m8 0h1m4 0h1m-12 1h1m4 1h2m-5 1h1m1 0h1"/>
<path stroke-opacity="0.62" d="M278 511h1m4 1h1m-5 1h1m-5 1h1m-7 1h2m9 0h1m4 0h1m-16 1h1m2 0h2m17 0h1m-24 1h2m1 0h1m-3 1h2m4 0h2m6 0h1m-12 1h1m2 0h3m4 0h1m5 0h1m-21 1h1m1 0h7m3 0h1m2 0h3m-22 1h1m4 0h1m1 0h4m3 0h1m-13 1h2m1 0h1m1 0h2m2 0h7m6 0h1m-20 1h1m1 0h1m3 0h1m1 0h5m1 0h1m-22 1h1m1 0h1m3 0h1m1 0h1m1 0h2m2 0h3m1 0h4m-22 1h1m5 0h1m1 0h1m1 0h7m2 0h2m-17 1h3m1 0h2m2 0h1m2 0h1m1 0h1m3 0h1m-17 1h1m1 0h2m1 0h1m3 0h3m1 0h1m1 0h2m-16 1h2m2 0h1m4 0h3m1 0h1m1 0h3m-17 1h1m4 0h1m2 0h1m1 0h2m2 0h1m-12 1h1m1 0h1m2 0h2m3 0h3m-19 1h1m1 0h1m1 0h1m4 0h1m1 0h1m6 0h1m-14 1h1m-6 1h1m4 0h1m1 0h1m2 0h1m-2 1h1m5 0h2m-15 1h1m4 0h2m-3 1h1m3 0h1m-6 1h1m-36 6h1m1 0h1m8 0h1m-4 1h1m2 0h1m-13 1h1m4 0h1m8 0h1m-19 1h1m10 0h1m4 0h1m1 0h1m-17 1h1m11 0h1m3 0h1m6 0h1m-25 1h1m1 0h2m1 0h1m5 0h1m2 0h1m5 0h1m-28 1h1m2 0h1m6 0h1m1 0h1m9 0h1m5 0h1m-23 1h1m1 0h2m1 0h5m3 0h1m1 0h2m2 0h1m1 0h1m-26 1h1m7 0h2m3 0h1m4 0h1m-10 1h2m1 0h1m1 0h1m1 0h3m1 0h1m2 0h1m3 0h1m-31 1h1m2 0h1m1 0h1m1 0h2m1 0h1m1 0h4m1 0h1m5 0h1m1 0h1m-28 1h1m2 0h2m2 0h2m1 0h2m1 0h1m2 0h2m2 0h4m2 0h1m4 0h1m-31 1h1m3 0h1m1 0h3m1 0h1m1 0h1m1 0h3m1 0h1m1 0h1m-20 1h2m3 0h1m2 0h5m1 0h1m1 0h1m1 0h1m1 0h2m1 0h2m3 0h1m-30 1h1m3 0h1m3 0h2m1 0h7m2 0h1m1 0h3m-29 1h2m4 0h1m3 0h9m1 0h1m6 0h1m1 0h1m-32 1h1m1 0h2m1 0h1m3 0h8m1 0h3m1 0h1m1 0h1m9 0h1m-36 1h1m3 0h3m4 0h8m1 0h3m1 0h1m1 0h1m1 0h1m-23 1h2m2 0h3m1 0h1m1 0h3m1 0h1m2 0h4m8 0h1m-44 1h1m8 0h1m3 0h1m1 0h1m1 0h7m3 0h1m1 0h2m3 0h5m1 0h1m-31 1h3m5 0h2m1 0h4m3 0h4m1 0h2m5 0h3m-29 1h1m1 0h1m3 0h1m1 0h3m1 0h1m1 0h2m-19 1h1m1 0h4m1 0h1m1 0h7m1 0h1m1 0h1m-21 1h1m1 0h1m1 0h1m2 0h3m1 0h4m2 0h2m3 0h1m4 0h2m-33 1h1m3 0h4m2 0h4m3 0h2m1 0h1m1 0h1m3 0h3m1 0h2m1 0h1m-35 1h1m10 0h1m1 0h7m1 0h1m1 0h1m1 0h3m-28 1h1m1 0h2m3 0h3m1 0h2m1 0h1m4 0h1m1 0h1m1 0h1m5 0h1m3 0h1m-27 1h1m1 0h7m1 0h1m3 0h1m4 0h1m-28 1h1m7 0h1m3 0h3m4 0h2m1 0h2m2 0h2m4 0h1m-27 1h1m2 0h3m1 0h4m3 0h1m7 0h1m-27 1h1m8 0h1m2 0h1m1 0h4m2 0h2m3 0h1m1 0h1m-17 1h1m1 0h1m2 0h2m4 0h2m-18 1h1m6 0h2m5 0h2m-16 1h2m6 0h1m4 0h2m-20 1h1m2 0h1m2 0h1m1 0h1m2 0h1m1 0h1m2 0h1m-13 1h1m2 0h1m4 0h1m3 0h1m1 0h1m1 0h1m-15 1h2m1 0h2m5 0h1m-8 1h2"/>
<path stroke-opacity="0.62" d="M416 508h1m-3 1h1m8 0h1m4 0h1m-14 1h1m6 0h2m6 0h1m-15 1h1m8 0h1m4 0h1m-13 1h2m1 0h1m1 0h1m4 0h1m-15 1h1m4 0h2m3 0h1m5 0h1m-14 1h1m1 0h1m2 0h1m1 0h1m1 0h1m-17 1h1m1 0h4m2 0h1m3 0h2m7 0h1m-15 1h1m3 0h1m3 0h1m-17 1h3m6 0h2m2 0h1m1 0h1m-9 1h2m4 0h1m-10 1h1m1 0h1m1 0h1m1 0h1m1 0h1m1 0h1m-10 1h1m1 0h1m4 0h1m1 0h2m-15 1h2m2 0h2m4 0h3m5 0h1m-19 1h1m5 0h2m1 0h1m-5 1h1m2 0h2m-4 1h1m1 0h1m4 0h1m-14 1h1m3 0h1m3 0h2m6 0h1m-18 1h1m11 1h1m-41 13h1m-5 1h2m2 0h1m2 0h1m-10 1h1m1 0h1m1 0h1m1 0h1m3 0h2m-12 1h1m2 0h1m3 0h1m9 0h1m-24 1h2m4 0h1m1 0h1m1 0h1m7 0h1m2 0h1m3 0h2m-26 1h1m4 0h2m2 0h2m1 0h2m4 0h1m2 0h1m4 0h1m-28 1h1m1 0h1m2 0h1m1 0h3m2 0h1m1 0h3m2 0h1m2 0h1m-24 1h1m1 0h2m4 0h1m1 0h2m4 0h1m1 0h2m3 0h1m-29 1h1m1 0h1m4 0h1m5 0h1m1 0h2m1 0h1m2 0h4m2 0h2m1 0h1m-27 1h1m3 0h5m1 0h1m2 0h2m2 0h1m1 0h3m3 0h1m-30 1h1m2 0h1m5 0h2m1 0h1m1 0h2m4 0h1m1 0h3m1 0h2m1 0h1m-25 1h4m1 0h5m3 0h5m3 0h1m3 0h2m-29 1h3m1 0h1m1 0h1m1 0h2m1 0h6m1 0h1m1 0h1m1 0h1m1 0h1m1 0h1m-32 1h2m1 0h1m1 0h2m3 0h2m2 0h8m1 0h3m1 0h1m3 0h3m1 0h1m-37 1h1m5 0h1m1 0h1m3 0h1m1 0h2m2 0h4m1 0h3m1 0h3m3 0h1m3 0h1m-37 1h4m2 0h2m1 0h5m1 0h2m1 0h3m1 0h1m2 0h4m2 0h2m-31 1h6m1 0h2m2 0h2m1 0h4m1 0h7m2 0h1m5 0h1m-43 1h1m4 0h1m1 0h6m1 0h3m1 0h2m1 0h4m1 0h2m2 0h1m1 0h2m1 0h1m5 0h1m-34 1h2m2 0h1m1 0h1m1 0h3m1 0h9m1 0h1m1 0h3m1 0h2m1 0h2m-31 1h3m1 0h1m1 0h3m2 0h8m1 0h2m1 0h1m2 0h1m-35 1h1m3 0h1m2 0h2m1 0h1m2 0h1m2 0h1m1 0h17m-29 1h2m1 0h2m3 0h1m1 0h1m1 0h4m1 0h3m4 0h2m2 0h2m-42 1h1m7 0h2m1 0h1m1 0h2m1 0h1m1 0h1m1 0h3m1 0h10m3 0h2m-26 1h1m1 0h2m1 0h3m1 0h2m3 0h3m2 0h2m3 0h2m2 0h1m-33 1h1m1 0h1m7 0h1m1 0h1m1 0h1m1 0h5m1 0h1m1 0h1m1 0h1m2 0h1m-29 1h5m2 0h4m2 0h1m1 0h3m2 0h1m2 0h1m4 0h2m-32 1h1m2 0h1m2 0h1m1 0h1m1 0h2m1 0h1m3 0h2m4 0h1m1 0h1m1 0h1m-27 1h1m2 0h1m1 0h2m4 0h1m1 0h1m1 0h1m4 0h1m2 0h1m2 0h2m-26 1h1m3 0h2m3 0h3m4 0h1m3 0h1m-19 1h1m4 0h1m5 0h3m3 0h1m2 0h1m2 0h1m-18 1h1m1 0h1m1 0h1m1 0h1m1 0h1m-16 1h1m7 0h1m4 0h1m-15 1h1m2 0h2m1 0h1m2 0h1m0 1h1m5 0h2m-15 1h1m12 0h2m-10 1h2m-9 1h1m11 10h1"/>
<path stroke-opacity="0.62" d="M414 508h1m11 0h2m-11 1h1m4 1h1m-8 1h1m8 0h1m-16 1h1m10 0h1m1 0h1m-9 1h1m3 0h1m1 0h1m5 0h1m4 0h1m-17 1h1m1 0h1m4 0h2m1 0h1m-7 1h1m9 0h1m-12 1h1m1 0h2m2 0h1m1 0h1m-8 1h4m1 0h1m5 0h1m-18 1h1m4 0h1m2 0h1m-13 1h2m2 0h3m5 0h1m-12 1h2m1 0h2m4 0h1m1 0h1m6 0h1m-14 1h1m2 0h1m1 0h1m2 0h2m-15 1h1m1 0h1m4 0h1m4 0h1m3 0h1m-13 1h1m1 0h1m3 0h1m1 0h2m2 0h2m-13 1h1m1 0h2m2 0h1m2 0h1m3 0h1m-13 1h1m0 1h1m-3 2h1m-2 1h1m-44 8h1m11 0h1m-5 3h1m0 1h1m3 0h3m1 0h1m-7 1h1m-6 1h1m3 0h1m3 0h1m5 0h1m-19 1h1m9 0h1m7 0h1m-17 1h1m1 0h1m3 0h2m5 0h1m-20 1h1m5 0h1m1 0h1m2 0h4m1 0h2m1 0h3m1 0h1m1 0h1m-29 1h1m1 0h1m6 0h1m1 0h1m1 0h3m5 0h3m3 0h1m2 0h1m-32 1h1m2 0h5m4 0h1m3 0h2m2 0h1m2 0h2m3 0h1m-25 1h5m1 0h2m1 0h1m1 0h1m2 0h2m5 0h1m1 0h1m-26 1h1m4 0h1m1 0h3m1 0h6m2 0h1m1 0h1m1 0h1m4 0h1m14 0h1m-44 1h2m2 0h1m2 0h1m1 0h4m1 0h3m1 0h5m4 0h2m-32 1h3m1 0h1m1 0h3m2 0h4m1 0h4m2 0h1m3 0h1m1 0h2m-27 1h1m1 0h9m1 0h2m4 0h4m1 0h2m1 0h1m3 0h2m-33 1h2m1 0h7m1 0h8m1 0h1m1 0h1m2 0h1m-31 1h1m1 0h3m3 0h3m1 0h1m1 0h4m1 0h3m2 0h3m2 0h2m-29 1h1m3 0h2m1 0h1m1 0h3m1 0h6m2 0h1m1 0h2m1 0h1m4 0h2m-35 1h1m3 0h1m3 0h2m1 0h1m1 0h4m1 0h10m1 0h1m5 0h1m-36 1h7m1 0h1m1 0h8m1 0h1m2 0h1m1 0h1m3 0h3m1 0h1m1 0h1m-35 1h1m4 0h1m2 0h1m1 0h3m2 0h3m2 0h3m1 0h1m3 0h2m1 0h1m-31 1h1m1 0h1m1 0h7m1 0h1m1 0h5m1 0h1m1 0h6m1 0h2m-30 1h1m3 0h3m1 0h1m1 0h10m1 0h1m1 0h1m7 0h1m-35 1h1m7 0h1m1 0h5m1 0h3m1 0h2m1 0h1m-22 1h1m1 0h1m1 0h1m1 0h3m1 0h5m2 0h2m4 0h3m3 0h1m-33 1h1m3 0h2m2 0h1m1 0h2m1 0h1m1 0h3m1 0h3m1 0h1m1 0h1m2 0h2m2 0h1m-33 1h1m5 0h2m4 0h4m1 0h2m3 0h1m6 0h1m-31 1h1m6 0h1m2 0h1m1 0h1m3 0h1m2 0h1m1 0h2m1 0h1m7 0h1m-33 1h2m1 0h2m1 0h4m2 0h1m3 0h1m1 0h2m5 0h1m2 0h1m2 0h1m-25 1h1m4 0h1m2 0h6m1 0h1m1 0h3m1 0h2m2 0h1m-25 1h2m2 0h2m2 0h1m2 0h4m2 0h1m-20 1h3m3 0h2m1 0h1m2 0h3m9 0h1m-26 1h1m2 0h1m1 0h1m10 0h1m4 0h2m-20 1h2m3 0h1m3 0h1m3 0h1m1 0h1m-18 1h1m4 0h1m1 0h1m2 0h1m2 0h2m17 0h1m-33 1h2m3 0h1m4 0h1m1 0h1m1 0h1m-5 1h1m-10 3h1"/>
<path stroke-opacity="0.62" d="M425 507h1m-8 2h1m10 0h1m-16 1h1m9 0h3m-5 1h1m1 0h1m4 0h1m-7 1h1m-6 1h3m4 0h1m-11 1h1m10 0h1m-12 1h1m1 0h1m2 0h1m2 0h1m3 0h1m-18 1h1m1 0h1m1 0h1m1 0h2m6 0h1m-14 1h1m2 0h2m1 0h3m1 0h1m1 0h1m2 0h1m2 0h1m-16 1h1m2 0h1m1 0h1m1 0h3m4 0h2m-17 1h2m1 0h1m2 0h1m-11 1h1m1 0h1m11 0h1m2 0h1m1 0h1m-17 1h2m5 1h1m2 0h1m-11 1h1m5 0h1m2 0h1m4 0h1m-17 1h1m2 0h1m2 0h2m8 0h1m-10 1h1m3 0h1m-5 4h1m3 0h1m-41 11h1m1 0h1m11 0h1m-15 1h1m8 0h1m-19 1h1m3 0h1m3 0h1m3 0h2m5 0h2m-13 1h4m2 0h2m2 0h2m-6 1h1m1 0h4m8 0h1m-28 1h1m3 0h2m1 0h1m1 0h1m2 0h2m1 0h1m6 0h1m-24 1h1m4 0h1m1 0h1m3 0h3m1 0h1m2 0h1m5 0h1m-31 1h1m2 0h1m4 0h1m1 0h1m2 0h5m3 0h1m2 0h1m-16 1h1m1 0h2m1 0h1m1 0h3m1 0h2m4 0h4m1 0h1m-34 1h1m6 0h1m4 0h1m2 0h7m3 0h1m1 0h1m2 0h2m1 0h1m-26 1h1m3 0h4m1 0h1m1 0h3m1 0h1m4 0h1m-27 1h1m4 0h1m1 0h10m4 0h3m1 0h1m2 0h2m-35 1h2m1 0h1m4 0h1m1 0h4m2 0h2m3 0h1m1 0h5m2 0h3m1 0h1m-33 1h2m2 0h2m1 0h2m2 0h5m1 0h6m1 0h1m2 0h2m2 0h1m1 0h1m-36 1h2m3 0h1m7 0h7m2 0h3m3 0h1m1 0h1m-31 1h1m1 0h1m1 0h3m1 0h7m1 0h3m1 0h5m6 0h1m1 0h1m-33 1h1m5 0h4m1 0h10m1 0h3m1 0h4m2 0h1m-37 1h1m4 0h1m7 0h4m1 0h2m1 0h7m1 0h2m1 0h4m-33 1h2m1 0h2m1 0h3m1 0h3m1 0h6m1 0h5m3 0h1m-28 1h2m2 0h1m1 0h1m1 0h14m1 0h1m1 0h5m-32 1h1m5 0h6m1 0h2m1 0h7m1 0h2m1 0h1m-29 1h2m3 0h1m1 0h6m1 0h2m1 0h5m1 0h3m1 0h1m1 0h1m1 0h1m-29 1h1m2 0h1m6 0h7m3 0h2m2 0h1m1 0h1m-31 1h1m5 0h1m1 0h1m2 0h6m1 0h2m1 0h2m1 0h1m1 0h1m1 0h1m1 0h2m2 0h1m-31 1h1m1 0h1m3 0h1m2 0h6m3 0h1m2 0h2m3 0h1m-32 1h1m4 0h1m3 0h6m4 0h3m1 0h3m3 0h4m-28 1h1m2 0h1m3 0h3m1 0h1m1 0h1m1 0h2m3 0h2m3 0h3m-24 1h2m3 0h1m2 0h3m2 0h1m10 0h1m-38 1h1m4 0h1m6 0h2m1 0h1m1 0h2m3 0h5m2 0h1m1 0h1m2 0h1m-24 1h1m1 0h2m2 0h2m2 0h1m5 0h2m-19 1h1m1 0h3m5 0h1m2 0h1m2 0h4m-22 1h2m4 0h1m1 0h1m1 0h3m9 0h1m-24 1h1m2 0h1m3 0h2m5 0h3m1 0h1m-13 1h1m1 0h1m-3 1h1m3 0h1m2 0h1m5 0h1m-6 1h1m-22 10h1"/>
<path stroke-opacity="0.62" d="M552 511h1m8 0h1m1 0h1m4 0h1m-14 1h1m7 0h2m2 0h1m-15 1h2m3 0h2m1 0h4m-12 1h1m12 0h1m1 0h1m-17 1h1m1 0h1m2 0h2m1 0h1m1 0h1m1 0h1m1 0h1m-16 1h1m1 0h1m1 0h5m3 0h3m3 0h2m-23 1h1m4 0h2m2 0h1m2 0h2m3 0h2m4 0h1m-23 1h1m2 0h1m2 0h3m2 0h1m2 0h1m1 0h3m-16 1h4m4 0h1m2 0h3m-18 1h3m1 0h4m1 0h1m1 0h1m1 0h5m5 0h1m-27 1h3m4 0h2m1 0h3m2 0h7m1 0h2m-22 1h1m3 0h6m2 0h5m2 0h3m7 0h1m-34 1h1m2 0h1m3 0h2m1 0h4m1 0h5m2 0h1m4 0h1m-33 1h1m4 0h2m1 0h1m3 0h1m2 0h7m4 0h1m5 0h1m-27 1h1m4 0h2m1 0h5m1 0h1m3 0h1m1 0h1m1 0h1m-20 1h3m1 0h1m1 0h9m1 0h3m2 0h1m-23 1h2m1 0h1m1 0h2m1 0h4m2 0h3m1 0h1m-20 1h2m2 0h1m2 0h1m1 0h1m1 0h3m1 0h1m1 0h1m1 0h2m-17 1h1m3 0h1m1 0h1m1 0h2m1 0h1m2 0h1m2 0h1m-20 1h1m4 0h1m1 0h1m1 0h1m1 0h1m5 0h2m-18 1h1m4 0h1m4 0h3m-15 1h1m4 0h1m3 0h1m1 0h2m-8 1h2m2 0h1m1 0h1m-1 1h1m2 0h1m-44 12h1m-3 1h1m4 0h1m1 0h1m-6 1h1m6 0h1m-11 1h1m2 0h1m4 0h1m-6 1h1m7 0h1m-17 1h1m6 0h1m1 0h1m2 0h1m-12 1h1m2 0h1m1 0h1m4 0h1m1 0h3m-17 1h1m2 0h2m4 0h3m5 0h1m-21 1h1m4 0h1m1 0h1m1 0h1m4 0h2m4 0h1m-24 1h1m5 0h1m1 0h1m1 0h4m1 0h4m3 0h1m-20 1h1m2 0h2m1 0h2m1 0h4m2 0h2m1 0h1m2 0h1m-18 1h1m1 0h8m1 0h3m1 0h1m-23 1h7m1 0h1m1 0h1m1 0h1m1 0h4m-17 1h2m4 0h2m1 0h1m1 0h3m2 0h1m2 0h2m-24 1h2m1 0h7m3 0h2m3 0h3m3 0h1m-25 1h1m2 0h1m1 0h3m1 0h2m1 0h2m1 0h1m2 0h1m-15 1h3m1 0h1m1 0h3m1 0h1m2 0h1m2 0h1m-22 1h1m3 0h4m2 0h3m1 0h2m3 0h1m3 0h1m-21 1h9m3 0h1m3 0h1m-18 1h2m1 0h2m1 0h2m3 0h1m1 0h1m4 0h1m1 0h1m-22 1h1m1 0h1m1 0h1m2 0h3m1 0h4m3 0h1m1 0h1m-21 1h4m2 0h2m4 0h1m1 0h2m-13 1h3m1 0h3m1 0h1m2 0h2m-13 1h2m2 0h1m2 0h1m3 0h1m-14 1h1m1 0h3m3 0h1m1 0h1m-12 1h3m2 0h3m9 0h1m-14 1h1m6 0h1m-15 1h1m6 0h2m1 0h1m1 0h2m-9 1h3m4 0h3m-8 1h1m-6 1h1m2 0h1m0 1h1m2 0h1"/>
<path stroke-opacity="0.62" d="M562 506h1m-2 3h1m-6 2h1m4 0h1m1 1h1m-11 1h1m3 0h1m2 0h2m5 0h1m-16 1h1m13 0h2m-15 1h5m5 0h1m3 0h1m-16 1h3m1 0h2m3 0h1m2 0h1m2 0h2m-17 1h1m3 0h3m2 0h1m2 0h2m1 0h2m1 0h1m-19 1h1m1 0h4m1 0h5m2 0h1m14 0h1m-36 1h1m1 0h1m1 0h1m1 0h1m2 0h1m1 0h7m1 0h2m2 0h1m-23 1h1m3 0h1m2 0h7m1 0h4m2 0h1m1 0h3m-23 1h6m3 0h8m1 0h2m-26 1h1m6 0h3m1 0h4m1 0h3m1 0h2m1 0h1m8 0h1m-32 1h1m2 0h6m2 0h3m1 0h2m1 0h4m1 0h1m-24 1h1m2 0h2m4 0h5m1 0h3m1 0h1m1 0h3m2 0h1m-26 1h1m2 0h1m1 0h3m1 0h2m1 0h2m1 0h3m2 0h1m-21 1h2m3 0h2m1 0h8m1 0h2m1 0h1m2 0h1m-18 1h1m2 0h3m2 0h1m2 0h3m-21 1h1m5 0h1m2 0h3m1 0h6m1 0h1m-14 1h1m3 0h1m2 0h3m1 0h1m1 0h1m-14 1h5m3 0h1m1 0h1m1 0h1m1 0h1m-15 1h1m4 0h1m2 0h1m5 0h1m-20 1h1m4 0h1m3 0h4m1 0h1m2 0h1m-14 1h3m1 0h1m-5 1h2m4 0h1m-50 11h1m9 0h1m0 1h1m-2 2h1m3 0h3m-12 1h1m1 0h2m9 0h1m-12 1h1m6 0h1m-10 1h1m1 0h2m4 0h1m-14 1h1m4 0h1m1 0h1m2 0h1m-11 1h1m2 0h1m5 0h1m3 0h2m2 0h1m-24 1h1m6 0h4m4 0h1m2 0h4m-15 1h1m2 0h3m1 0h2m2 0h1m1 0h2m-20 1h3m5 0h6m2 0h1m1 0h1m1 0h2m-18 1h1m2 0h4m1 0h2m1 0h2m2 0h1m-21 1h1m1 0h1m1 0h2m1 0h7m1 0h4m-22 1h1m5 0h5m2 0h6m1 0h1m2 0h1m-19 1h1m1 0h6m2 0h2m1 0h1m1 0h1m1 0h1m13 0h1m-34 1h1m1 0h2m1 0h4m1 0h6m-15 1h1m2 0h1m1 0h9m1 0h2m3 0h1m-24 1h2m1 0h3m1 0h5m1 0h4m1 0h1m-22 1h1m6 0h2m2 0h4m6 0h2m1 0h1m-21 1h5m1 0h5m1 0h3m1 0h1m2 0h2m-25 1h3m4 0h6m3 0h2m1 0h1m5 0h1m-23 1h3m2 0h2m2 0h2m1 0h1m2 0h1m-16 1h5m2 0h3m4 0h1m-17 1h1m4 0h1m1 0h2m2 0h2m1 0h6m-16 1h1m1 0h1m3 0h1m2 0h1m2 0h1m2 0h1m-15 1h2m1 0h3m2 0h2m2 0h1m-18 1h1m1 0h2m3 0h2m5 0h1m2 0h1m-21 1h1m6 0h4m8 0h1m-10 1h1m4 0h1m-8 1h2m4 0h1m-9 1h1m3 0h1m0 1h2"/>
<path stroke-opacity="0.62" d="M562 511h1m13 0h1m-18 1h2m2 0h1m-11 1h2m1 0h1m1 0h1m4 0h2m1 0h1m-15 1h1m1 0h1m3 0h1m1 0h4m2 0h2m-18 1h1m2 0h2m1 0h1m2 0h1m1 0h2m1 0h1m4 0h1m1 0h1m-21 1h2m1 0h3m1 0h2m1 0h2m1 0h3m1 0h1m-19 1h3m1 0h2m1 0h3m2 0h2m2 0h3m2 0h1m-23 1h1m1 0h1m1 0h1m1 0h11m2 0h2m1 0h1m-24 1h1m4 0h5m1 0h4m1 0h1m-20 1h1m5 0h1m1 0h1m3 0h1m1 0h5m1 0h1m2 0h2m-28 1h1m4 0h1m1 0h1m4 0h10m2 0h1m-22 1h1m4 0h9m2 0h5m1 0h1m-20 1h1m1 0h12m1 0h1m1 0h1m-20 1h1m2 0h1m3 0h6m2 0h4m4 0h1m-22 1h9m2 0h5m1 0h1m1 0h1m1 0h2m-21 1h1m2 0h11m2 0h1m-19 1h2m2 0h2m2 0h6m1 0h1m-18 1h1m1 0h1m1 0h2m1 0h2m3 0h1m1 0h1m1 0h1m1 0h1m1 0h1m-22 1h1m3 0h1m1 0h3m1 0h1m1 0h1m1 0h2m2 0h1m-14 1h1m1 0h1m1 0h2m2 0h1m1 0h2m4 0h1m-19 1h1m5 0h1m1 0h3m1 0h2m1 0h1m1 0h1m-19 1h1m2 0h1m-7 1h1m9 0h2m5 0h1m-15 1h1m5 0h2m6 0h1m-39 12h1m-3 1h1m-5 1h1m2 0h3m1 0h1m-12 1h3m4 0h1m-6 1h2m1 0h1m-9 1h2m3 0h1m1 0h2m2 0h1m1 0h1m-12 1h1m1 0h1m5 0h1m-16 1h1m1 0h3m4 0h3m1 0h3m-15 1h2m1 0h2m1 0h6m8 0h1m-23 1h1m4 0h1m1 0h1m1 0h3m2 0h4m2 0h2m-17 1h7m1 0h5m1 0h1m-19 1h2m4 0h1m2 0h2m1 0h7m-18 1h3m1 0h2m1 0h1m1 0h2m1 0h6m-23 1h1m3 0h3m3 0h11m2 0h1m-23 1h2m1 0h8m1 0h2m3 0h2m-16 1h1m1 0h1m1 0h6m1 0h3m1 0h1m-18 1h1m1 0h1m1 0h6m1 0h6m5 0h1m-28 1h1m1 0h2m5 0h5m1 0h2m2 0h1m5 0h1m-21 1h3m1 0h1m2 0h6m1 0h1m2 0h1m-21 1h1m2 0h2m2 0h3m1 0h2m1 0h1m5 0h1m-23 1h2m5 0h1m1 0h1m1 0h7m-15 1h1m6 0h1m1 0h2m2 0h2m1 0h3m-20 1h1m6 0h2m1 0h4m1 0h1m1 0h1m2 0h1m-18 1h1m1 0h1m1 0h3m1 0h1m6 0h2m3 0h1m-22 1h1m4 0h2m2 0h2m1 0h3m-16 1h1m2 0h1m1 0h1m1 0h3m1 0h1m1 0h1m1 0h1m-18 1h1m5 0h2m7 0h1m-14 1h1m2 0h2m4 0h1m-8 1h3m1 0h3m-5 2h3m-1 1h1m-7 4h1"/>
</g>
<g stroke="#c8304a" stroke-opacity="0.7" stroke-width="1" fill="none" filter="url(#bl)" transform="translate(0 0.5)">
<path d="M147 62h1m2 0h1m-45 1h1m29 0h2m0 2h1m5 0h1m-33 1h1m29 0h1m-38 2h1m26 0h1m7 0h2m17 0h1m-23 1h1m5 0h1m1 0h1m-13 1h1m1 0h1m22 0h1m-59 1h1m53 0h1m2 0h1m-54 1h1m36 0h1m4 0h1m4 0h1m-20 1h1m2 0h1m-36 1h1m45 0h2m13 0h1m-28 1h1m12 0h1m-65 1h1m63 0h2m-28 1h1m11 0h1m-10 1h1m13 0h1m1 0h1m12 0h1m9 0h1m-66 1h1m16 0h1m16 1h1m-31 2h1m-10 1h1m49 0h1m2 0h1m-2 1h1m-37 1h1m16 0h1m26 0h1m-40 1h1m26 0h1m8 0h1m-20 1h1m7 0h1m10 0h1m-6 1h1m4 0h1m-13 1h1m-12 1h1m20 2h1m-17 1h1m23 1h1m-22 20h1m-5 3h1m0 1h1m3 1h1m6 0h1m-16 3h1m2 3h1m-7 1h1m10 9h1"/>
<path d="M232 61h1m4 2h1m-12 4h1m7 1h1m-8 4h1m9 3h1m-6 1h1m0 1h1m12 5h1m-4 1h1m-11 1h1m5 1h1m2 1h1m5 0h1m-16 2h1m14 7h1m-3 1h1m12 8h1m0 1h1m9 0h1m7 4h1m-3 4h1m-6 2h1m-12 6h1m10 1h1m2 2h1m-1 2h1m2 0h1m-9 4h1m7 1h1m5 1h1m-4 2h1m-13 1h1m10 0h1m-16 1h1m4 0h1m-3 2h1"/>
<path d="M351 61h1m15 6h1m8 1h1m-25 1h1m5 0h1m13 1h1m10 2h1m-8 10h1m5 3h1m-1 5h1m-16 1h1m16 0h1m-11 1h1m17 19h1m24 0h1m-21 9h1m1 4h1m1 0h1m2 2h1m15 0h1m-26 8h1m-5 1h1"/>
<path d="M506 63h1m13 1h1m-1 2h1m-19 4h1m12 7h1m-28 4h1m10 1h1m18 0h1m-6 6h1m-21 2h1m12 2h1m23 19h1m4 0h1m3 1h1m2 1h1m-9 5h1m9 4h2m0 4h1m-15 3h1m2 4h1"/>
<path d="M103 189h1m43 0h1m12 1h1m-75 1h1m50 0h1m2 0h1m5 0h2m-7 1h1m1 0h1m7 0h1m-11 1h1m8 0h1m-61 1h1m51 0h1m8 0h1m-6 1h1m5 0h1m2 0h1m-17 1h1m3 0h1m-3 1h1m14 0h1m-15 1h1m2 0h1m3 0h1m1 0h1m-13 1h1m4 0h2m-6 1h1m4 1h1m10 0h1m-62 1h1m43 0h1m9 0h2m3 0h1m-60 2h1m16 0h1m8 1h1m19 0h1m-29 1h1m31 0h1m7 3h1m-11 2h1m-3 2h1m-42 2h1m16 5h1m-13 3h1m22 7h1m18 15h1m1 9h1m-3 1h1m2 4h1"/>
<path d="M235 197h1m9 1h1m0 8h1m-14 4h1m9 1h1m2 0h1m-25 3h1m-1 4h1m30 2h1m-25 1h1m35 28h1m10 0h1m3 4h1m-4 2h1m1 3h1m-19 3h1"/>
<path d="M375 203h1m5 1h1m9 0h1m-13 4h1m-2 3h1m-17 2h1m26 2h1m-10 3h1m36 16h1m-11 10h1m2 1h1m6 4h1m-11 3h1m2 5h1m-10 2h1"/>
<path d="M492 190h1m14 1h1m-21 4h1m11 7h1m17 0h1m1 0h1m-24 2h1m7 2h1m-4 1h1m20 1h1m-10 5h1m-3 1h1m32 22h1m-4 6h1m-12 6h1m9 0h1m3 0h1m-11 7h1m26 0h1m-28 1h1m17 10h1"/>
<path d="M150 387h1m-15 1h1m-42 2h1m37 0h1m1 0h1m-30 1h1m31 0h1m5 0h1m-4 1h1m6 0h1m-32 1h1m2 0h1m31 0h1m-51 1h1m13 1h1m23 0h1m-5 1h1m8 0h1m-13 1h1m-21 1h1m4 0h1m18 0h1m1 0h1m-25 2h1m29 0h1m13 0h1m-72 1h1m41 0h1m1 0h1m9 0h1m1 0h1m6 0h1m2 0h1m-55 1h1m33 0h1m1 0h1m4 0h1m7 0h1m-16 1h1m1 0h1m5 1h1m12 0h1m-39 1h1m13 0h1m9 0h1m-9 2h1m12 0h1m-30 1h1m-14 1h1m36 0h1m-12 10h1m12 7h1m-5 6h1m7 0h1m-6 2h1m-5 3h1m-13 12h1"/>
<path d="M239 384h1m-9 3h1m-9 1h1m32 1h1m-22 1h1m3 1h1m6 0h1m-7 2h1m-14 2h1m12 10h1m4 1h1m-12 6h1m16 1h1m14 29h1m1 1h2m11 3h1m-13 1h1m4 8h1"/>
<path d="M394 386h1m-12 1h1m4 3h1m-12 1h1m-18 1h1m3 1h1m-3 3h1m22 3h1m-16 7h1m15 1h1m6 0h1m-25 8h1m30 6h1m0 6h1m19 3h1m-17 8h1m-1 6h1"/>
<path d="M528 385h1m-26 2h1m21 0h1m-13 1h1m8 0h1m1 3h1m11 0h1m-9 1h1m-15 2h1m-14 4h1m25 4h1m-15 4h1m10 3h1m0 3h1m17 24h1m14 5h1m-7 1h1m13 0h1m-26 1h1m19 5h1"/>
<path d="M107 507h1m34 1h1m-38 3h1m40 1h1m-49 1h1m6 0h1m39 0h1m1 0h1m4 0h1m-15 1h1m8 0h1m-5 2h3m-48 1h1m35 1h1m9 0h1m-2 1h1m1 0h1m1 0h1m-15 1h2m-36 1h1m37 0h1m4 0h1m5 0h1m-49 1h1m40 0h1m1 1h1m1 0h2m-54 1h1m44 0h1m1 1h1m-8 1h1m2 0h1m-49 1h1m45 0h1m-31 1h1m36 0h1m-42 1h1m40 0h1m-4 2h1m7 2h1m-1 1h1m-13 15h1m5 16h1m-15 6h1m4 2h1"/>
<path d="M229 508h1m5 4h1m21 1h1m-2 1h1m-35 4h1m27 3h1m-19 1h1m19 0h1m-13 1h1m3 1h1m-10 1h1m6 3h1m-9 2h1m20 5h1m5 24h1m0 9h1m-3 4h1m17 7h1"/>
<path d="M393 514h1m-11 1h1m-10 1h1m0 2h1m1 3h1m1 0h1m18 1h1m-27 5h1m11 2h1m-6 4h1m6 2h1m-4 3h1m20 18h1m11 5h1m-4 7h1m3 5h1m2 4h1"/>
<path d="M523 503h1m-25 1h1m0 3h1m17 3h1m-9 5h1m16 1h1m-14 2h1m-4 2h1m21 2h1m2 2h1m-22 1h1m21 0h1m-30 1h1m14 1h1m-10 1h1m8 0h1m18 28h1m7 10h1m11 4h1"/>
</g>
<g stroke="#dc4646" stroke-width="1.15">
<path d="M123.3 55.4V145M69.6 97.2H165.4"/>
<path d="M257.7 56V145.3M204.5 98.6H299.5"/>
<path d="M391.2 55V144.4M338.1 97.2H433.5"/>
<path d="M527.5 56V145.3M474.5 98.6H569.5"/>
<path d="M122.5 182.5V276.4M68.5 227H167.9"/>
<path d="M258.4 182.9V275.4M202.9 227H303"/>
<path d="M393.7 184.4V277M338.9 228.5H438.1"/>
<path d="M527.4 184.4V277M473.2 228.5H571.4"/>
<path d="M122.3 376.8V467.1M69.1 419.2H164.6"/>
<path d="M261 376.8V465.2M208.7 419.2H303"/>
<path d="M400 376.2V465.2M346.2 418.6H441.4"/>
<path d="M538.6 376.6V465.2M486.2 418.8H580.7"/>
<path d="M121.9 499.6V588.2M69.1 541.2H164.6"/>
<path d="M258.4 500V589.1M205.2 542.6H301"/>
<path d="M401 499V589.1M346.8 542.2H444.2"/>
<path d="M540.4 498.2V589.5M486.8 541.2H584.6"/>
</g>
<g stroke="#222" fill="none">
<rect x="69.6" y="55.4" width="95.8" height="89.6" stroke-width="1.3"/>
<path stroke-width="0.9" d="M69.6 145v2.2M69.6 145h-2.2M75.4 145v1.4M69.6 139.6h-1.4M78.7 145v1.4M69.6 136.4h-1.4M81.1 145v1.4M69.6 134.2h-1.4M83 145v1.4M69.6 132.5h-1.4M84.5 145v1.4M69.6 131.1h-1.4M85.8 145v1.4M69.6 129.9h-1.4M86.9 145v1.4M69.6 128.8h-1.4M87.9 145v1.4M69.6 127.9h-1.4M88.8 145v2.2M69.6 127.1h-2.2M94.5 145v1.4M69.6 121.7h-1.4M97.9 145v1.4M69.6 118.5h-1.4M100.3 145v1.4M69.6 116.3h-1.4M102.2 145v1.4M69.6 114.6h-1.4M103.7 145v1.4M69.6 113.1h-1.4M105 145v1.4M69.6 111.9h-1.4M106.1 145v1.4M69.6 110.9h-1.4M107 145v1.4M69.6 110h-1.4M107.9 145v2.2M69.6 109.2h-2.2M113.7 145v1.4M69.6 103.8h-1.4M117.1 145v1.4M69.6 100.6h-1.4M119.5 145v1.4M69.6 98.4h-1.4M121.3 145v1.4M69.6 96.6h-1.4M122.8 145v1.4M69.6 95.2h-1.4M124.1 145v1.4M69.6 94h-1.4M125.2 145v1.4M69.6 93h-1.4M126.2 145v1.4M69.6 92.1h-1.4M127.1 145v2.2M69.6 91.2h-2.2M132.8 145v1.4M69.6 85.8h-1.4M136.2 145v1.4M69.6 82.7h-1.4M138.6 145v1.4M69.6 80.5h-1.4M140.5 145v1.4M69.6 78.7h-1.4M142 145v1.4M69.6 77.3h-1.4M143.3 145v1.4M69.6 76.1h-1.4M144.4 145v1.4M69.6 75.1h-1.4M145.4 145v1.4M69.6 74.1h-1.4M146.2 145v2.2M69.6 73.3h-2.2M152 145v1.4M69.6 67.9h-1.4M155.4 145v1.4M69.6 64.8h-1.4M157.8 145v1.4M69.6 62.5h-1.4M159.6 145v1.4M69.6 60.8h-1.4M161.1 145v1.4M69.6 59.4h-1.4M162.4 145v1.4M69.6 58.2h-1.4M163.5 145v1.4M69.6 57.1h-1.4M164.5 145v1.4M69.6 56.2h-1.4M165.4 145v2.2M69.6 55.4h-2.2"/>
<rect x="204.5" y="56" width="95" height="89.3" stroke-width="1.3"/>
<path stroke-width="0.9" d="M204.5 145.3v2.2M204.5 145.3h-2.2M210.2 145.3v1.4M204.5 139.9h-1.4M213.6 145.3v1.4M204.5 136.8h-1.4M215.9 145.3v1.4M204.5 134.5h-1.4M217.8 145.3v1.4M204.5 132.8h-1.4M219.3 145.3v1.4M204.5 131.4h-1.4M220.6 145.3v1.4M204.5 130.2h-1.4M221.7 145.3v1.4M204.5 129.2h-1.4M222.6 145.3v1.4M204.5 128.3h-1.4M223.5 145.3v2.2M204.5 127.4h-2.2M229.2 145.3v1.4M204.5 122.1h-1.4M232.6 145.3v1.4M204.5 118.9h-1.4M234.9 145.3v1.4M204.5 116.7h-1.4M236.8 145.3v1.4M204.5 115h-1.4M238.3 145.3v1.4M204.5 113.5h-1.4M239.6 145.3v1.4M204.5 112.3h-1.4M240.7 145.3v1.4M204.5 111.3h-1.4M241.6 145.3v1.4M204.5 110.4h-1.4M242.5 145.3v2.2M204.5 109.6h-2.2M248.2 145.3v1.4M204.5 104.2h-1.4M251.6 145.3v1.4M204.5 101.1h-1.4M253.9 145.3v1.4M204.5 98.8h-1.4M255.8 145.3v1.4M204.5 97.1h-1.4M257.3 145.3v1.4M204.5 95.7h-1.4M258.6 145.3v1.4M204.5 94.5h-1.4M259.7 145.3v1.4M204.5 93.5h-1.4M260.6 145.3v1.4M204.5 92.5h-1.4M261.5 145.3v2.2M204.5 91.7h-2.2M267.2 145.3v1.4M204.5 86.3h-1.4M270.6 145.3v1.4M204.5 83.2h-1.4M272.9 145.3v1.4M204.5 81h-1.4M274.8 145.3v1.4M204.5 79.2h-1.4M276.3 145.3v1.4M204.5 77.8h-1.4M277.6 145.3v1.4M204.5 76.6h-1.4M278.7 145.3v1.4M204.5 75.6h-1.4M279.6 145.3v1.4M204.5 74.7h-1.4M280.5 145.3v2.2M204.5 73.9h-2.2M286.2 145.3v1.4M204.5 68.5h-1.4M289.6 145.3v1.4M204.5 65.3h-1.4M291.9 145.3v1.4M204.5 63.1h-1.4M293.8 145.3v1.4M204.5 61.4h-1.4M295.3 145.3v1.4M204.5 60h-1.4M296.6 145.3v1.4M204.5 58.8h-1.4M297.7 145.3v1.4M204.5 57.7h-1.4M298.6 145.3v1.4M204.5 56.8h-1.4M299.5 145.3v2.2M204.5 56h-2.2"/>
<rect x="338.1" y="55" width="95.4" height="89.4" stroke-width="1.3"/>
<path stroke-width="0.9" d="M338.1 144.4v2.2M338.1 144.4h-2.2M343.8 144.4v1.4M338.1 139h-1.4M347.2 144.4v1.4M338.1 135.9h-1.4M349.6 144.4v1.4M338.1 133.6h-1.4M351.4 144.4v1.4M338.1 131.9h-1.4M352.9 144.4v1.4M338.1 130.5h-1.4M354.2 144.4v1.4M338.1 129.3h-1.4M355.3 144.4v1.4M338.1 128.3h-1.4M356.3 144.4v1.4M338.1 127.3h-1.4M357.2 144.4v2.2M338.1 126.5h-2.2M362.9 144.4v1.4M338.1 121.1h-1.4M366.3 144.4v1.4M338.1 118h-1.4M368.7 144.4v1.4M338.1 115.8h-1.4M370.5 144.4v1.4M338.1 114h-1.4M372 144.4v1.4M338.1 112.6h-1.4M373.3 144.4v1.4M338.1 111.4h-1.4M374.4 144.4v1.4M338.1 110.4h-1.4M375.4 144.4v1.4M338.1 109.5h-1.4M376.3 144.4v2.2M338.1 108.6h-2.2M382 144.4v1.4M338.1 103.3h-1.4M385.4 144.4v1.4M338.1 100.1h-1.4M387.7 144.4v1.4M338.1 97.9h-1.4M389.6 144.4v1.4M338.1 96.1h-1.4M391.1 144.4v1.4M338.1 94.7h-1.4M392.4 144.4v1.4M338.1 93.5h-1.4M393.5 144.4v1.4M338.1 92.5h-1.4M394.5 144.4v1.4M338.1 91.6h-1.4M395.3 144.4v2.2M338.1 90.8h-2.2M401.1 144.4v1.4M338.1 85.4h-1.4M404.4 144.4v1.4M338.1 82.2h-1.4M406.8 144.4v1.4M338.1 80h-1.4M408.7 144.4v1.4M338.1 78.3h-1.4M410.2 144.4v1.4M338.1 76.8h-1.4M411.5 144.4v1.4M338.1 75.6h-1.4M412.6 144.4v1.4M338.1 74.6h-1.4M413.5 144.4v1.4M338.1 73.7h-1.4M414.4 144.4v2.2M338.1 72.9h-2.2M420.2 144.4v1.4M338.1 67.5h-1.4M423.5 144.4v1.4M338.1 64.3h-1.4M425.9 144.4v1.4M338.1 62.1h-1.4M427.8 144.4v1.4M338.1 60.4h-1.4M429.3 144.4v1.4M338.1 59h-1.4M430.5 144.4v1.4M338.1 57.8h-1.4M431.7 144.4v1.4M338.1 56.7h-1.4M432.6 144.4v1.4M338.1 55.8h-1.4M433.5 144.4v2.2M338.1 55h-2.2"/>
<rect x="474.5" y="56" width="95" height="89.3" stroke-width="1.3"/>
<path stroke-width="0.9" d="M474.5 145.3v2.2M474.5 145.3h-2.2M480.2 145.3v1.4M474.5 139.9h-1.4M483.6 145.3v1.4M474.5 136.8h-1.4M485.9 145.3v1.4M474.5 134.5h-1.4M487.8 145.3v1.4M474.5 132.8h-1.4M489.3 145.3v1.4M474.5 131.4h-1.4M490.6 145.3v1.4M474.5 130.2h-1.4M491.7 145.3v1.4M474.5 129.2h-1.4M492.6 145.3v1.4M474.5 128.3h-1.4M493.5 145.3v2.2M474.5 127.4h-2.2M499.2 145.3v1.4M474.5 122.1h-1.4M502.6 145.3v1.4M474.5 118.9h-1.4M504.9 145.3v1.4M474.5 116.7h-1.4M506.8 145.3v1.4M474.5 115h-1.4M508.3 145.3v1.4M474.5 113.5h-1.4M509.6 145.3v1.4M474.5 112.3h-1.4M510.7 145.3v1.4M474.5 111.3h-1.4M511.6 145.3v1.4M474.5 110.4h-1.4M512.5 145.3v2.2M474.5 109.6h-2.2M518.2 145.3v1.4M474.5 104.2h-1.4M521.6 145.3v1.4M474.5 101.1h-1.4M523.9 145.3v1.4M474.5 98.8h-1.4M525.8 145.3v1.4M474.5 97.1h-1.4M527.3 145.3v1.4M474.5 95.7h-1.4M528.6 145.3v1.4M474.5 94.5h-1.4M529.7 145.3v1.4M474.5 93.5h-1.4M530.6 145.3v1.4M474.5 92.5h-1.4M531.5 145.3v2.2M474.5 91.7h-2.2M537.2 145.3v1.4M474.5 86.3h-1.4M540.6 145.3v1.4M474.5 83.2h-1.4M542.9 145.3v1.4M474.5 81h-1.4M544.8 145.3v1.4M474.5 79.2h-1.4M546.3 145.3v1.4M474.5 77.8h-1.4M547.6 145.3v1.4M474.5 76.6h-1.4M548.7 145.3v1.4M474.5 75.6h-1.4M549.6 145.3v1.4M474.5 74.7h-1.4M550.5 145.3v2.2M474.5 73.9h-2.2M556.2 145.3v1.4M474.5 68.5h-1.4M559.6 145.3v1.4M474.5 65.3h-1.4M561.9 145.3v1.4M474.5 63.1h-1.4M563.8 145.3v1.4M474.5 61.4h-1.4M565.3 145.3v1.4M474.5 60h-1.4M566.6 145.3v1.4M474.5 58.8h-1.4M567.7 145.3v1.4M474.5 57.7h-1.4M568.6 145.3v1.4M474.5 56.8h-1.4M569.5 145.3v2.2M474.5 56h-2.2"/>
<rect x="68.5" y="182.5" width="99.4" height="93.9" stroke-width="1.3"/>
<path stroke-width="0.9" d="M68.5 276.4v2.2M68.5 276.4h-2.2M74.5 276.4v1.4M68.5 270.7h-1.4M78 276.4v1.4M68.5 267.4h-1.4M80.5 276.4v1.4M68.5 265.1h-1.4M82.4 276.4v1.4M68.5 263.3h-1.4M84 276.4v1.4M68.5 261.8h-1.4M85.3 276.4v1.4M68.5 260.5h-1.4M86.5 276.4v1.4M68.5 259.4h-1.4M87.5 276.4v1.4M68.5 258.5h-1.4M88.4 276.4v2.2M68.5 257.6h-2.2M94.4 276.4v1.4M68.5 252h-1.4M97.9 276.4v1.4M68.5 248.7h-1.4M100.3 276.4v1.4M68.5 246.3h-1.4M102.3 276.4v1.4M68.5 244.5h-1.4M103.8 276.4v1.4M68.5 243h-1.4M105.2 276.4v1.4M68.5 241.7h-1.4M106.3 276.4v1.4M68.5 240.7h-1.4M107.4 276.4v1.4M68.5 239.7h-1.4M108.3 276.4v2.2M68.5 238.8h-2.2M114.2 276.4v1.4M68.5 233.2h-1.4M117.7 276.4v1.4M68.5 229.9h-1.4M120.2 276.4v1.4M68.5 227.5h-1.4M122.2 276.4v1.4M68.5 225.7h-1.4M123.7 276.4v1.4M68.5 224.2h-1.4M125.1 276.4v1.4M68.5 223h-1.4M126.2 276.4v1.4M68.5 221.9h-1.4M127.2 276.4v1.4M68.5 220.9h-1.4M128.1 276.4v2.2M68.5 220.1h-2.2M134.1 276.4v1.4M68.5 214.4h-1.4M137.6 276.4v1.4M68.5 211.1h-1.4M140.1 276.4v1.4M68.5 208.8h-1.4M142 276.4v1.4M68.5 206.9h-1.4M143.6 276.4v1.4M68.5 205.4h-1.4M144.9 276.4v1.4M68.5 204.2h-1.4M146.1 276.4v1.4M68.5 203.1h-1.4M147.1 276.4v1.4M68.5 202.1h-1.4M148 276.4v2.2M68.5 201.3h-2.2M154 276.4v1.4M68.5 195.6h-1.4M157.5 276.4v1.4M68.5 192.3h-1.4M160 276.4v1.4M68.5 190h-1.4M161.9 276.4v1.4M68.5 188.2h-1.4M163.5 276.4v1.4M68.5 186.7h-1.4M164.8 276.4v1.4M68.5 185.4h-1.4M166 276.4v1.4M68.5 184.3h-1.4M167 276.4v1.4M68.5 183.4h-1.4M167.9 276.4v2.2M68.5 182.5h-2.2"/>
<rect x="202.9" y="182.9" width="100.1" height="92.5" stroke-width="1.3"/>
<path stroke-width="0.9" d="M202.9 275.4v2.2M202.9 275.4h-2.2M208.9 275.4v1.4M202.9 269.8h-1.4M212.5 275.4v1.4M202.9 266.6h-1.4M215 275.4v1.4M202.9 264.3h-1.4M216.9 275.4v1.4M202.9 262.5h-1.4M218.5 275.4v1.4M202.9 261h-1.4M219.8 275.4v1.4M202.9 259.8h-1.4M221 275.4v1.4M202.9 258.7h-1.4M222 275.4v1.4M202.9 257.7h-1.4M222.9 275.4v2.2M202.9 256.9h-2.2M228.9 275.4v1.4M202.9 251.3h-1.4M232.5 275.4v1.4M202.9 248.1h-1.4M235 275.4v1.4M202.9 245.8h-1.4M236.9 275.4v1.4M202.9 244h-1.4M238.5 275.4v1.4M202.9 242.5h-1.4M239.8 275.4v1.4M202.9 241.3h-1.4M241 275.4v1.4M202.9 240.2h-1.4M242 275.4v1.4M202.9 239.2h-1.4M242.9 275.4v2.2M202.9 238.4h-2.2M249 275.4v1.4M202.9 232.8h-1.4M252.5 275.4v1.4M202.9 229.6h-1.4M255 275.4v1.4M202.9 227.3h-1.4M256.9 275.4v1.4M202.9 225.5h-1.4M258.5 275.4v1.4M202.9 224h-1.4M259.9 275.4v1.4M202.9 222.8h-1.4M261 275.4v1.4M202.9 221.7h-1.4M262 275.4v1.4M202.9 220.7h-1.4M263 275.4v2.2M202.9 219.9h-2.2M269 275.4v1.4M202.9 214.3h-1.4M272.5 275.4v1.4M202.9 211.1h-1.4M275 275.4v1.4M202.9 208.8h-1.4M277 275.4v1.4M202.9 207h-1.4M278.5 275.4v1.4M202.9 205.5h-1.4M279.9 275.4v1.4M202.9 204.3h-1.4M281 275.4v1.4M202.9 203.2h-1.4M282.1 275.4v1.4M202.9 202.2h-1.4M283 275.4v2.2M202.9 201.4h-2.2M289 275.4v1.4M202.9 195.8h-1.4M292.5 275.4v1.4M202.9 192.6h-1.4M295 275.4v1.4M202.9 190.3h-1.4M297 275.4v1.4M202.9 188.5h-1.4M298.6 275.4v1.4M202.9 187h-1.4M299.9 275.4v1.4M202.9 185.8h-1.4M301.1 275.4v1.4M202.9 184.7h-1.4M302.1 275.4v1.4M202.9 183.7h-1.4M303 275.4v2.2M202.9 182.9h-2.2"/>
<rect x="338.9" y="184.4" width="99.2" height="92.6" stroke-width="1.3"/>
<path stroke-width="0.9" d="M338.9 277v2.2M338.9 277h-2.2M344.9 277v1.4M338.9 271.4h-1.4M348.4 277v1.4M338.9 268.2h-1.4M350.8 277v1.4M338.9 265.8h-1.4M352.8 277v1.4M338.9 264.1h-1.4M354.3 277v1.4M338.9 262.6h-1.4M355.7 277v1.4M338.9 261.3h-1.4M356.8 277v1.4M338.9 260.3h-1.4M357.8 277v1.4M338.9 259.3h-1.4M358.7 277v2.2M338.9 258.5h-2.2M364.7 277v1.4M338.9 252.9h-1.4M368.2 277v1.4M338.9 249.6h-1.4M370.7 277v1.4M338.9 247.3h-1.4M372.6 277v1.4M338.9 245.5h-1.4M374.2 277v1.4M338.9 244.1h-1.4M375.5 277v1.4M338.9 242.8h-1.4M376.7 277v1.4M338.9 241.8h-1.4M377.7 277v1.4M338.9 240.8h-1.4M378.6 277v2.2M338.9 240h-2.2M384.6 277v1.4M338.9 234.4h-1.4M388 277v1.4M338.9 231.1h-1.4M390.5 277v1.4M338.9 228.8h-1.4M392.4 277v1.4M338.9 227h-1.4M394 277v1.4M338.9 225.5h-1.4M395.3 277v1.4M338.9 224.3h-1.4M396.5 277v1.4M338.9 223.2h-1.4M397.5 277v1.4M338.9 222.3h-1.4M398.4 277v2.2M338.9 221.4h-2.2M404.4 277v1.4M338.9 215.9h-1.4M407.9 277v1.4M338.9 212.6h-1.4M410.4 277v1.4M338.9 210.3h-1.4M412.3 277v1.4M338.9 208.5h-1.4M413.9 277v1.4M338.9 207h-1.4M415.2 277v1.4M338.9 205.8h-1.4M416.3 277v1.4M338.9 204.7h-1.4M417.4 277v1.4M338.9 203.8h-1.4M418.3 277v2.2M338.9 202.9h-2.2M424.2 277v1.4M338.9 197.3h-1.4M427.7 277v1.4M338.9 194.1h-1.4M430.2 277v1.4M338.9 191.8h-1.4M432.1 277v1.4M338.9 190h-1.4M433.7 277v1.4M338.9 188.5h-1.4M435 277v1.4M338.9 187.3h-1.4M436.2 277v1.4M338.9 186.2h-1.4M437.2 277v1.4M338.9 185.2h-1.4M438.1 277v2.2M338.9 184.4h-2.2"/>
<rect x="473.2" y="184.4" width="98.2" height="92.6" stroke-width="1.3"/>
<path stroke-width="0.9" d="M473.2 277v2.2M473.2 277h-2.2M479.1 277v1.4M473.2 271.4h-1.4M482.6 277v1.4M473.2 268.2h-1.4M485 277v1.4M473.2 265.8h-1.4M486.9 277v1.4M473.2 264.1h-1.4M488.5 277v1.4M473.2 262.6h-1.4M489.8 277v1.4M473.2 261.3h-1.4M490.9 277v1.4M473.2 260.3h-1.4M491.9 277v1.4M473.2 259.3h-1.4M492.8 277v2.2M473.2 258.5h-2.2M498.8 277v1.4M473.2 252.9h-1.4M502.2 277v1.4M473.2 249.6h-1.4M504.7 277v1.4M473.2 247.3h-1.4M506.6 277v1.4M473.2 245.5h-1.4M508.1 277v1.4M473.2 244.1h-1.4M509.4 277v1.4M473.2 242.8h-1.4M510.6 277v1.4M473.2 241.8h-1.4M511.6 277v1.4M473.2 240.8h-1.4M512.5 277v2.2M473.2 240h-2.2M518.4 277v1.4M473.2 234.4h-1.4M521.9 277v1.4M473.2 231.1h-1.4M524.3 277v1.4M473.2 228.8h-1.4M526.2 277v1.4M473.2 227h-1.4M527.8 277v1.4M473.2 225.5h-1.4M529.1 277v1.4M473.2 224.3h-1.4M530.2 277v1.4M473.2 223.2h-1.4M531.2 277v1.4M473.2 222.3h-1.4M532.1 277v2.2M473.2 221.4h-2.2M538 277v1.4M473.2 215.9h-1.4M541.5 277v1.4M473.2 212.6h-1.4M543.9 277v1.4M473.2 210.3h-1.4M545.8 277v1.4M473.2 208.5h-1.4M547.4 277v1.4M473.2 207h-1.4M548.7 277v1.4M473.2 205.8h-1.4M549.9 277v1.4M473.2 204.7h-1.4M550.9 277v1.4M473.2 203.8h-1.4M551.8 277v2.2M473.2 202.9h-2.2M557.7 277v1.4M473.2 197.3h-1.4M561.1 277v1.4M473.2 194.1h-1.4M563.6 277v1.4M473.2 191.8h-1.4M565.5 277v1.4M473.2 190h-1.4M567 277v1.4M473.2 188.5h-1.4M568.4 277v1.4M473.2 187.3h-1.4M569.5 277v1.4M473.2 186.2h-1.4M570.5 277v1.4M473.2 185.2h-1.4M571.4 277v2.2M473.2 184.4h-2.2"/>
<rect x="69.1" y="376.8" width="95.5" height="90.3" stroke-width="1.3"/>
<path stroke-width="0.9" d="M69.1 467.1v2.2M69.1 467.1h-2.2M74.8 467.1v1.4M69.1 461.7h-1.4M78.2 467.1v1.4M69.1 458.5h-1.4M80.6 467.1v1.4M69.1 456.2h-1.4M82.5 467.1v1.4M69.1 454.5h-1.4M84 467.1v1.4M69.1 453h-1.4M85.2 467.1v1.4M69.1 451.8h-1.4M86.3 467.1v1.4M69.1 450.8h-1.4M87.3 467.1v1.4M69.1 449.9h-1.4M88.2 467.1v2.2M69.1 449h-2.2M93.9 467.1v1.4M69.1 443.6h-1.4M97.3 467.1v1.4M69.1 440.4h-1.4M99.7 467.1v1.4M69.1 438.2h-1.4M101.6 467.1v1.4M69.1 436.4h-1.4M103.1 467.1v1.4M69.1 435h-1.4M104.3 467.1v1.4M69.1 433.8h-1.4M105.4 467.1v1.4M69.1 432.7h-1.4M106.4 467.1v1.4M69.1 431.8h-1.4M107.3 467.1v2.2M69.1 431h-2.2M113 467.1v1.4M69.1 425.5h-1.4M116.4 467.1v1.4M69.1 422.4h-1.4M118.8 467.1v1.4M69.1 420.1h-1.4M120.7 467.1v1.4M69.1 418.4h-1.4M122.2 467.1v1.4M69.1 416.9h-1.4M123.4 467.1v1.4M69.1 415.7h-1.4M124.5 467.1v1.4M69.1 414.7h-1.4M125.5 467.1v1.4M69.1 413.7h-1.4M126.4 467.1v2.2M69.1 412.9h-2.2M132.1 467.1v1.4M69.1 407.5h-1.4M135.5 467.1v1.4M69.1 404.3h-1.4M137.9 467.1v1.4M69.1 402h-1.4M139.8 467.1v1.4M69.1 400.3h-1.4M141.3 467.1v1.4M69.1 398.9h-1.4M142.5 467.1v1.4M69.1 397.7h-1.4M143.6 467.1v1.4M69.1 396.6h-1.4M144.6 467.1v1.4M69.1 395.7h-1.4M145.5 467.1v2.2M69.1 394.9h-2.2M151.2 467.1v1.4M69.1 389.4h-1.4M154.6 467.1v1.4M69.1 386.2h-1.4M157 467.1v1.4M69.1 384h-1.4M158.9 467.1v1.4M69.1 382.2h-1.4M160.4 467.1v1.4M69.1 380.8h-1.4M161.6 467.1v1.4M69.1 379.6h-1.4M162.7 467.1v1.4M69.1 378.6h-1.4M163.7 467.1v1.4M69.1 377.6h-1.4M164.6 467.1v2.2M69.1 376.8h-2.2"/>
<rect x="208.7" y="376.8" width="94.3" height="88.4" stroke-width="1.3"/>
<path stroke-width="0.9" d="M208.7 465.2v2.2M208.7 465.2h-2.2M214.4 465.2v1.4M208.7 459.9h-1.4M217.7 465.2v1.4M208.7 456.8h-1.4M220.1 465.2v1.4M208.7 454.6h-1.4M221.9 465.2v1.4M208.7 452.8h-1.4M223.4 465.2v1.4M208.7 451.4h-1.4M224.6 465.2v1.4M208.7 450.3h-1.4M225.7 465.2v1.4M208.7 449.2h-1.4M226.7 465.2v1.4M208.7 448.3h-1.4M227.6 465.2v2.2M208.7 447.5h-2.2M233.2 465.2v1.4M208.7 442.2h-1.4M236.6 465.2v1.4M208.7 439.1h-1.4M238.9 465.2v1.4M208.7 436.9h-1.4M240.7 465.2v1.4M208.7 435.2h-1.4M242.2 465.2v1.4M208.7 433.8h-1.4M243.5 465.2v1.4M208.7 432.6h-1.4M244.6 465.2v1.4M208.7 431.6h-1.4M245.6 465.2v1.4M208.7 430.6h-1.4M246.4 465.2v2.2M208.7 429.8h-2.2M252.1 465.2v1.4M208.7 424.5h-1.4M255.4 465.2v1.4M208.7 421.4h-1.4M257.8 465.2v1.4M208.7 419.2h-1.4M259.6 465.2v1.4M208.7 417.5h-1.4M261.1 465.2v1.4M208.7 416.1h-1.4M262.4 465.2v1.4M208.7 414.9h-1.4M263.5 465.2v1.4M208.7 413.9h-1.4M264.4 465.2v1.4M208.7 413h-1.4M265.3 465.2v2.2M208.7 412.2h-2.2M271 465.2v1.4M208.7 406.8h-1.4M274.3 465.2v1.4M208.7 403.7h-1.4M276.6 465.2v1.4M208.7 401.5h-1.4M278.5 465.2v1.4M208.7 399.8h-1.4M280 465.2v1.4M208.7 398.4h-1.4M281.2 465.2v1.4M208.7 397.2h-1.4M282.3 465.2v1.4M208.7 396.2h-1.4M283.3 465.2v1.4M208.7 395.3h-1.4M284.1 465.2v2.2M208.7 394.5h-2.2M289.8 465.2v1.4M208.7 389.2h-1.4M293.1 465.2v1.4M208.7 386h-1.4M295.5 465.2v1.4M208.7 383.8h-1.4M297.3 465.2v1.4M208.7 382.1h-1.4M298.8 465.2v1.4M208.7 380.7h-1.4M300.1 465.2v1.4M208.7 379.5h-1.4M301.2 465.2v1.4M208.7 378.5h-1.4M302.1 465.2v1.4M208.7 377.6h-1.4M303 465.2v2.2M208.7 376.8h-2.2"/>
<rect x="346.2" y="376.2" width="95.2" height="89" stroke-width="1.3"/>
<path stroke-width="0.9" d="M346.2 465.2v2.2M346.2 465.2h-2.2M351.9 465.2v1.4M346.2 459.8h-1.4M355.3 465.2v1.4M346.2 456.7h-1.4M357.7 465.2v1.4M346.2 454.5h-1.4M359.5 465.2v1.4M346.2 452.8h-1.4M361 465.2v1.4M346.2 451.3h-1.4M362.3 465.2v1.4M346.2 450.2h-1.4M363.4 465.2v1.4M346.2 449.1h-1.4M364.4 465.2v1.4M346.2 448.2h-1.4M365.2 465.2v2.2M346.2 447.4h-2.2M371 465.2v1.4M346.2 442h-1.4M374.3 465.2v1.4M346.2 438.9h-1.4M376.7 465.2v1.4M346.2 436.7h-1.4M378.5 465.2v1.4M346.2 435h-1.4M380.1 465.2v1.4M346.2 433.5h-1.4M381.3 465.2v1.4M346.2 432.4h-1.4M382.4 465.2v1.4M346.2 431.3h-1.4M383.4 465.2v1.4M346.2 430.4h-1.4M384.3 465.2v2.2M346.2 429.6h-2.2M390 465.2v1.4M346.2 424.2h-1.4M393.4 465.2v1.4M346.2 421.1h-1.4M395.7 465.2v1.4M346.2 418.9h-1.4M397.6 465.2v1.4M346.2 417.2h-1.4M399.1 465.2v1.4M346.2 415.7h-1.4M400.4 465.2v1.4M346.2 414.6h-1.4M401.5 465.2v1.4M346.2 413.5h-1.4M402.4 465.2v1.4M346.2 412.6h-1.4M403.3 465.2v2.2M346.2 411.8h-2.2M409.1 465.2v1.4M346.2 406.4h-1.4M412.4 465.2v1.4M346.2 403.3h-1.4M414.8 465.2v1.4M346.2 401.1h-1.4M416.6 465.2v1.4M346.2 399.4h-1.4M418.1 465.2v1.4M346.2 397.9h-1.4M419.4 465.2v1.4M346.2 396.8h-1.4M420.5 465.2v1.4M346.2 395.7h-1.4M421.5 465.2v1.4M346.2 394.8h-1.4M422.4 465.2v2.2M346.2 394h-2.2M428.1 465.2v1.4M346.2 388.6h-1.4M431.4 465.2v1.4M346.2 385.5h-1.4M433.8 465.2v1.4M346.2 383.3h-1.4M435.7 465.2v1.4M346.2 381.6h-1.4M437.2 465.2v1.4M346.2 380.1h-1.4M438.5 465.2v1.4M346.2 379h-1.4M439.6 465.2v1.4M346.2 377.9h-1.4M440.5 465.2v1.4M346.2 377h-1.4M441.4 465.2v2.2M346.2 376.2h-2.2"/>
<rect x="486.2" y="376.6" width="94.5" height="88.6" stroke-width="1.3"/>
<path stroke-width="0.9" d="M486.2 465.2v2.2M486.2 465.2h-2.2M491.9 465.2v1.4M486.2 459.9h-1.4M495.2 465.2v1.4M486.2 456.7h-1.4M497.6 465.2v1.4M486.2 454.5h-1.4M499.4 465.2v1.4M486.2 452.8h-1.4M500.9 465.2v1.4M486.2 451.4h-1.4M502.2 465.2v1.4M486.2 450.2h-1.4M503.3 465.2v1.4M486.2 449.2h-1.4M504.2 465.2v1.4M486.2 448.3h-1.4M505.1 465.2v2.2M486.2 447.5h-2.2M510.8 465.2v1.4M486.2 442.1h-1.4M514.1 465.2v1.4M486.2 439h-1.4M516.5 465.2v1.4M486.2 436.8h-1.4M518.3 465.2v1.4M486.2 435.1h-1.4M519.8 465.2v1.4M486.2 433.7h-1.4M521.1 465.2v1.4M486.2 432.5h-1.4M522.2 465.2v1.4M486.2 431.5h-1.4M523.1 465.2v1.4M486.2 430.6h-1.4M524 465.2v2.2M486.2 429.8h-2.2M529.7 465.2v1.4M486.2 424.4h-1.4M533 465.2v1.4M486.2 421.3h-1.4M535.4 465.2v1.4M486.2 419.1h-1.4M537.2 465.2v1.4M486.2 417.4h-1.4M538.7 465.2v1.4M486.2 416h-1.4M540 465.2v1.4M486.2 414.8h-1.4M541.1 465.2v1.4M486.2 413.8h-1.4M542 465.2v1.4M486.2 412.9h-1.4M542.9 465.2v2.2M486.2 412h-2.2M548.6 465.2v1.4M486.2 406.7h-1.4M551.9 465.2v1.4M486.2 403.6h-1.4M554.3 465.2v1.4M486.2 401.4h-1.4M556.1 465.2v1.4M486.2 399.7h-1.4M557.6 465.2v1.4M486.2 398.3h-1.4M558.9 465.2v1.4M486.2 397.1h-1.4M560 465.2v1.4M486.2 396h-1.4M560.9 465.2v1.4M486.2 395.1h-1.4M561.8 465.2v2.2M486.2 394.3h-2.2M567.5 465.2v1.4M486.2 389h-1.4M570.8 465.2v1.4M486.2 385.9h-1.4M573.2 465.2v1.4M486.2 383.7h-1.4M575 465.2v1.4M486.2 381.9h-1.4M576.5 465.2v1.4M486.2 380.5h-1.4M577.8 465.2v1.4M486.2 379.3h-1.4M578.9 465.2v1.4M486.2 378.3h-1.4M579.8 465.2v1.4M486.2 377.4h-1.4M580.7 465.2v2.2M486.2 376.6h-2.2"/>
<rect x="69.1" y="499.6" width="95.5" height="88.6" stroke-width="1.3"/>
<path stroke-width="0.9" d="M69.1 588.2v2.2M69.1 588.2h-2.2M74.8 588.2v1.4M69.1 582.9h-1.4M78.2 588.2v1.4M69.1 579.7h-1.4M80.6 588.2v1.4M69.1 577.5h-1.4M82.5 588.2v1.4M69.1 575.8h-1.4M84 588.2v1.4M69.1 574.4h-1.4M85.2 588.2v1.4M69.1 573.2h-1.4M86.3 588.2v1.4M69.1 572.2h-1.4M87.3 588.2v1.4M69.1 571.3h-1.4M88.2 588.2v2.2M69.1 570.5h-2.2M93.9 588.2v1.4M69.1 565.1h-1.4M97.3 588.2v1.4M69.1 562h-1.4M99.7 588.2v1.4M69.1 559.8h-1.4M101.6 588.2v1.4M69.1 558.1h-1.4M103.1 588.2v1.4M69.1 556.7h-1.4M104.3 588.2v1.4M69.1 555.5h-1.4M105.4 588.2v1.4M69.1 554.5h-1.4M106.4 588.2v1.4M69.1 553.6h-1.4M107.3 588.2v2.2M69.1 552.8h-2.2M113 588.2v1.4M69.1 547.4h-1.4M116.4 588.2v1.4M69.1 544.3h-1.4M118.8 588.2v1.4M69.1 542.1h-1.4M120.7 588.2v1.4M69.1 540.4h-1.4M122.2 588.2v1.4M69.1 539h-1.4M123.4 588.2v1.4M69.1 537.8h-1.4M124.5 588.2v1.4M69.1 536.8h-1.4M125.5 588.2v1.4M69.1 535.9h-1.4M126.4 588.2v2.2M69.1 535h-2.2M132.1 588.2v1.4M69.1 529.7h-1.4M135.5 588.2v1.4M69.1 526.6h-1.4M137.9 588.2v1.4M69.1 524.4h-1.4M139.8 588.2v1.4M69.1 522.7h-1.4M141.3 588.2v1.4M69.1 521.3h-1.4M142.5 588.2v1.4M69.1 520.1h-1.4M143.6 588.2v1.4M69.1 519h-1.4M144.6 588.2v1.4M69.1 518.1h-1.4M145.5 588.2v2.2M69.1 517.3h-2.2M151.2 588.2v1.4M69.1 512h-1.4M154.6 588.2v1.4M69.1 508.9h-1.4M157 588.2v1.4M69.1 506.7h-1.4M158.9 588.2v1.4M69.1 504.9h-1.4M160.4 588.2v1.4M69.1 503.5h-1.4M161.6 588.2v1.4M69.1 502.3h-1.4M162.7 588.2v1.4M69.1 501.3h-1.4M163.7 588.2v1.4M69.1 500.4h-1.4M164.6 588.2v2.2M69.1 499.6h-2.2"/>
<rect x="205.2" y="500" width="95.8" height="89.1" stroke-width="1.3"/>
<path stroke-width="0.9" d="M205.2 589.1v2.2M205.2 589.1h-2.2M211 589.1v1.4M205.2 583.7h-1.4M214.3 589.1v1.4M205.2 580.6h-1.4M216.7 589.1v1.4M205.2 578.4h-1.4M218.6 589.1v1.4M205.2 576.6h-1.4M220.1 589.1v1.4M205.2 575.2h-1.4M221.4 589.1v1.4M205.2 574h-1.4M222.5 589.1v1.4M205.2 573h-1.4M223.5 589.1v1.4M205.2 572.1h-1.4M224.4 589.1v2.2M205.2 571.3h-2.2M230.1 589.1v1.4M205.2 565.9h-1.4M233.5 589.1v1.4M205.2 562.8h-1.4M235.9 589.1v1.4M205.2 560.6h-1.4M237.8 589.1v1.4M205.2 558.8h-1.4M239.3 589.1v1.4M205.2 557.4h-1.4M240.6 589.1v1.4M205.2 556.2h-1.4M241.7 589.1v1.4M205.2 555.2h-1.4M242.6 589.1v1.4M205.2 554.3h-1.4M243.5 589.1v2.2M205.2 553.5h-2.2M249.3 589.1v1.4M205.2 548.1h-1.4M252.7 589.1v1.4M205.2 545h-1.4M255.1 589.1v1.4M205.2 542.7h-1.4M256.9 589.1v1.4M205.2 541h-1.4M258.4 589.1v1.4M205.2 539.6h-1.4M259.7 589.1v1.4M205.2 538.4h-1.4M260.8 589.1v1.4M205.2 537.4h-1.4M261.8 589.1v1.4M205.2 536.5h-1.4M262.7 589.1v2.2M205.2 535.6h-2.2M268.4 589.1v1.4M205.2 530.3h-1.4M271.8 589.1v1.4M205.2 527.1h-1.4M274.2 589.1v1.4M205.2 524.9h-1.4M276.1 589.1v1.4M205.2 523.2h-1.4M277.6 589.1v1.4M205.2 521.8h-1.4M278.9 589.1v1.4M205.2 520.6h-1.4M280 589.1v1.4M205.2 519.5h-1.4M281 589.1v1.4M205.2 518.6h-1.4M281.8 589.1v2.2M205.2 517.8h-2.2M287.6 589.1v1.4M205.2 512.5h-1.4M291 589.1v1.4M205.2 509.3h-1.4M293.4 589.1v1.4M205.2 507.1h-1.4M295.2 589.1v1.4M205.2 505.4h-1.4M296.7 589.1v1.4M205.2 504h-1.4M298 589.1v1.4M205.2 502.8h-1.4M299.1 589.1v1.4M205.2 501.7h-1.4M300.1 589.1v1.4M205.2 500.8h-1.4M301 589.1v2.2M205.2 500h-2.2"/>
<rect x="346.8" y="499" width="97.4" height="90.1" stroke-width="1.3"/>
<path stroke-width="0.9" d="M346.8 589.1v2.2M346.8 589.1h-2.2M352.7 589.1v1.4M346.8 583.7h-1.4M356.1 589.1v1.4M346.8 580.5h-1.4M358.5 589.1v1.4M346.8 578.3h-1.4M360.4 589.1v1.4M346.8 576.5h-1.4M362 589.1v1.4M346.8 575.1h-1.4M363.3 589.1v1.4M346.8 573.9h-1.4M364.4 589.1v1.4M346.8 572.8h-1.4M365.4 589.1v1.4M346.8 571.9h-1.4M366.3 589.1v2.2M346.8 571.1h-2.2M372.1 589.1v1.4M346.8 565.7h-1.4M375.6 589.1v1.4M346.8 562.5h-1.4M378 589.1v1.4M346.8 560.2h-1.4M379.9 589.1v1.4M346.8 558.5h-1.4M381.4 589.1v1.4M346.8 557.1h-1.4M382.7 589.1v1.4M346.8 555.9h-1.4M383.9 589.1v1.4M346.8 554.8h-1.4M384.9 589.1v1.4M346.8 553.9h-1.4M385.8 589.1v2.2M346.8 553.1h-2.2M391.6 589.1v1.4M346.8 547.6h-1.4M395.1 589.1v1.4M346.8 544.5h-1.4M397.5 589.1v1.4M346.8 542.2h-1.4M399.4 589.1v1.4M346.8 540.5h-1.4M400.9 589.1v1.4M346.8 539h-1.4M402.2 589.1v1.4M346.8 537.8h-1.4M403.4 589.1v1.4M346.8 536.8h-1.4M404.3 589.1v1.4M346.8 535.9h-1.4M405.2 589.1v2.2M346.8 535h-2.2M411.1 589.1v1.4M346.8 529.6h-1.4M414.5 589.1v1.4M346.8 526.4h-1.4M417 589.1v1.4M346.8 524.2h-1.4M418.9 589.1v1.4M346.8 522.4h-1.4M420.4 589.1v1.4M346.8 521h-1.4M421.7 589.1v1.4M346.8 519.8h-1.4M422.8 589.1v1.4M346.8 518.8h-1.4M423.8 589.1v1.4M346.8 517.8h-1.4M424.7 589.1v2.2M346.8 517h-2.2M430.6 589.1v1.4M346.8 511.6h-1.4M434 589.1v1.4M346.8 508.4h-1.4M436.4 589.1v1.4M346.8 506.2h-1.4M438.3 589.1v1.4M346.8 504.4h-1.4M439.9 589.1v1.4M346.8 503h-1.4M441.2 589.1v1.4M346.8 501.8h-1.4M442.3 589.1v1.4M346.8 500.7h-1.4M443.3 589.1v1.4M346.8 499.8h-1.4M444.2 589.1v2.2M346.8 499h-2.2"/>
<rect x="486.8" y="498.2" width="97.8" height="91.3" stroke-width="1.3"/>
<path stroke-width="0.9" d="M486.8 589.5v2.2M486.8 589.5h-2.2M492.7 589.5v1.4M486.8 584h-1.4M496.1 589.5v1.4M486.8 580.8h-1.4M498.6 589.5v1.4M486.8 578.5h-1.4M500.5 589.5v1.4M486.8 576.7h-1.4M502 589.5v1.4M486.8 575.3h-1.4M503.3 589.5v1.4M486.8 574.1h-1.4M504.5 589.5v1.4M486.8 573h-1.4M505.5 589.5v1.4M486.8 572.1h-1.4M506.4 589.5v2.2M486.8 571.2h-2.2M512.2 589.5v1.4M486.8 565.7h-1.4M515.7 589.5v1.4M486.8 562.5h-1.4M518.1 589.5v1.4M486.8 560.2h-1.4M520 589.5v1.4M486.8 558.5h-1.4M521.6 589.5v1.4M486.8 557h-1.4M522.9 589.5v1.4M486.8 555.8h-1.4M524 589.5v1.4M486.8 554.7h-1.4M525 589.5v1.4M486.8 553.8h-1.4M525.9 589.5v2.2M486.8 553h-2.2M531.8 589.5v1.4M486.8 547.5h-1.4M535.3 589.5v1.4M486.8 544.3h-1.4M537.7 589.5v1.4M486.8 542h-1.4M539.6 589.5v1.4M486.8 540.2h-1.4M541.1 589.5v1.4M486.8 538.8h-1.4M542.5 589.5v1.4M486.8 537.5h-1.4M543.6 589.5v1.4M486.8 536.5h-1.4M544.6 589.5v1.4M486.8 535.6h-1.4M545.5 589.5v2.2M486.8 534.7h-2.2M551.4 589.5v1.4M486.8 529.2h-1.4M554.8 589.5v1.4M486.8 526h-1.4M557.3 589.5v1.4M486.8 523.7h-1.4M559.2 589.5v1.4M486.8 522h-1.4M560.7 589.5v1.4M486.8 520.5h-1.4M562 589.5v1.4M486.8 519.3h-1.4M563.1 589.5v1.4M486.8 518.2h-1.4M564.1 589.5v1.4M486.8 517.3h-1.4M565 589.5v2.2M486.8 516.5h-2.2M570.9 589.5v1.4M486.8 511h-1.4M574.4 589.5v1.4M486.8 507.7h-1.4M576.8 589.5v1.4M486.8 505.5h-1.4M578.7 589.5v1.4M486.8 503.7h-1.4M580.3 589.5v1.4M486.8 502.3h-1.4M581.6 589.5v1.4M486.8 501h-1.4M582.7 589.5v1.4M486.8 500h-1.4M583.7 589.5v1.4M486.8 499h-1.4M584.6 589.5v2.2M486.8 498.2h-2.2"/>
</g>
<g font-weight="bold" font-size="7" fill="#111" stroke="#111" stroke-width="0.12">
<text x="66.8" y="155.2">10<tspan font-size="5.2" dy="-2.6">0</tspan></text>
<text x="86" y="155.2">10<tspan font-size="5.2" dy="-2.6">1</tspan></text>
<text x="105.1" y="155.2">10<tspan font-size="5.2" dy="-2.6">2</tspan></text>
<text x="122.9" y="155.2">10<tspan font-size="5.2" dy="-2.6">3</tspan></text>
<text x="143" y="155.2">10<tspan font-size="5.2" dy="-2.6">4</tspan></text>
<text x="160.2" y="155.2">10<tspan font-size="5.2" dy="-2.6">5</tspan></text>
<text transform="translate(65.8 145) rotate(-90)" x="-4.6" y="0">10<tspan font-size="5.2" dy="-2.6">0</tspan></text>
<text transform="translate(65.8 127.1) rotate(-90)" x="-4.6" y="0">10<tspan font-size="5.2" dy="-2.6">1</tspan></text>
<text transform="translate(65.8 109.2) rotate(-90)" x="-4.6" y="0">10<tspan font-size="5.2" dy="-2.6">2</tspan></text>
<text transform="translate(65.8 91.2) rotate(-90)" x="-4.6" y="0">10<tspan font-size="5.2" dy="-2.6">3</tspan></text>
<text transform="translate(65.8 73.3) rotate(-90)" x="-4.6" y="0">10<tspan font-size="5.2" dy="-2.6">4</tspan></text>
<text transform="translate(65.8 55.4) rotate(-90)" x="-6.2" y="0">10<tspan font-size="5.2" dy="-2.6">5</tspan></text>
<text x="201.7" y="155.5">10<tspan font-size="5.2" dy="-2.6">0</tspan></text>
<text x="220.7" y="155.5">10<tspan font-size="5.2" dy="-2.6">1</tspan></text>
<text x="239.7" y="155.5">10<tspan font-size="5.2" dy="-2.6">2</tspan></text>
<text x="257.3" y="155.5">10<tspan font-size="5.2" dy="-2.6">3</tspan></text>
<text x="277.3" y="155.5">10<tspan font-size="5.2" dy="-2.6">4</tspan></text>
<text x="294.3" y="155.5">10<tspan font-size="5.2" dy="-2.6">5</tspan></text>
<text transform="translate(200.7 145.3) rotate(-90)" x="-4.6" y="0">10<tspan font-size="5.2" dy="-2.6">0</tspan></text>
<text transform="translate(200.7 127.4) rotate(-90)" x="-4.6" y="0">10<tspan font-size="5.2" dy="-2.6">1</tspan></text>
<text transform="translate(200.7 109.6) rotate(-90)" x="-4.6" y="0">10<tspan font-size="5.2" dy="-2.6">2</tspan></text>
<text transform="translate(200.7 91.7) rotate(-90)" x="-4.6" y="0">10<tspan font-size="5.2" dy="-2.6">3</tspan></text>
<text transform="translate(200.7 73.9) rotate(-90)" x="-4.6" y="0">10<tspan font-size="5.2" dy="-2.6">4</tspan></text>
<text transform="translate(200.7 56) rotate(-90)" x="-6.2" y="0">10<tspan font-size="5.2" dy="-2.6">5</tspan></text>
<text x="335.3" y="154.6">10<tspan font-size="5.2" dy="-2.6">0</tspan></text>
<text x="354.4" y="154.6">10<tspan font-size="5.2" dy="-2.6">1</tspan></text>
<text x="373.5" y="154.6">10<tspan font-size="5.2" dy="-2.6">2</tspan></text>
<text x="391.1" y="154.6">10<tspan font-size="5.2" dy="-2.6">3</tspan></text>
<text x="411.2" y="154.6">10<tspan font-size="5.2" dy="-2.6">4</tspan></text>
<text x="428.3" y="154.6">10<tspan font-size="5.2" dy="-2.6">5</tspan></text>
<text transform="translate(334.3 144.4) rotate(-90)" x="-4.6" y="0">10<tspan font-size="5.2" dy="-2.6">0</tspan></text>
<text transform="translate(334.3 126.5) rotate(-90)" x="-4.6" y="0">10<tspan font-size="5.2" dy="-2.6">1</tspan></text>
<text transform="translate(334.3 108.6) rotate(-90)" x="-4.6" y="0">10<tspan font-size="5.2" dy="-2.6">2</tspan></text>
<text transform="translate(334.3 90.8) rotate(-90)" x="-4.6" y="0">10<tspan font-size="5.2" dy="-2.6">3</tspan></text>
<text transform="translate(334.3 72.9) rotate(-90)" x="-4.6" y="0">10<tspan font-size="5.2" dy="-2.6">4</tspan></text>
<text transform="translate(334.3 55) rotate(-90)" x="-6.2" y="0">10<tspan font-size="5.2" dy="-2.6">5</tspan></text>
<text x="471.7" y="155.5">10<tspan font-size="5.2" dy="-2.6">0</tspan></text>
<text x="490.7" y="155.5">10<tspan font-size="5.2" dy="-2.6">1</tspan></text>
<text x="509.7" y="155.5">10<tspan font-size="5.2" dy="-2.6">2</tspan></text>
<text x="527.3" y="155.5">10<tspan font-size="5.2" dy="-2.6">3</tspan></text>
<text x="547.3" y="155.5">10<tspan font-size="5.2" dy="-2.6">4</tspan></text>
<text x="564.3" y="155.5">10<tspan font-size="5.2" dy="-2.6">5</tspan></text>
<text transform="translate(470.7 145.3) rotate(-90)" x="-4.6" y="0">10<tspan font-size="5.2" dy="-2.6">0</tspan></text>
<text transform="translate(470.7 127.4) rotate(-90)" x="-4.6" y="0">10<tspan font-size="5.2" dy="-2.6">1</tspan></text>
<text transform="translate(470.7 109.6) rotate(-90)" x="-4.6" y="0">10<tspan font-size="5.2" dy="-2.6">2</tspan></text>
<text transform="translate(470.7 91.7) rotate(-90)" x="-4.6" y="0">10<tspan font-size="5.2" dy="-2.6">3</tspan></text>
<text transform="translate(470.7 73.9) rotate(-90)" x="-4.6" y="0">10<tspan font-size="5.2" dy="-2.6">4</tspan></text>
<text transform="translate(470.7 56) rotate(-90)" x="-6.2" y="0">10<tspan font-size="5.2" dy="-2.6">5</tspan></text>
<text x="65.7" y="286.6">10<tspan font-size="5.2" dy="-2.6">0</tspan></text>
<text x="85.6" y="286.6">10<tspan font-size="5.2" dy="-2.6">1</tspan></text>
<text x="105.5" y="286.6">10<tspan font-size="5.2" dy="-2.6">2</tspan></text>
<text x="123.9" y="286.6">10<tspan font-size="5.2" dy="-2.6">3</tspan></text>
<text x="144.8" y="286.6">10<tspan font-size="5.2" dy="-2.6">4</tspan></text>
<text x="162.7" y="286.6">10<tspan font-size="5.2" dy="-2.6">5</tspan></text>
<text transform="translate(64.7 276.4) rotate(-90)" x="-4.6" y="0">10<tspan font-size="5.2" dy="-2.6">0</tspan></text>
<text transform="translate(64.7 257.6) rotate(-90)" x="-4.6" y="0">10<tspan font-size="5.2" dy="-2.6">1</tspan></text>
<text transform="translate(64.7 238.8) rotate(-90)" x="-4.6" y="0">10<tspan font-size="5.2" dy="-2.6">2</tspan></text>
<text transform="translate(64.7 220.1) rotate(-90)" x="-4.6" y="0">10<tspan font-size="5.2" dy="-2.6">3</tspan></text>
<text transform="translate(64.7 201.3) rotate(-90)" x="-4.6" y="0">10<tspan font-size="5.2" dy="-2.6">4</tspan></text>
<text transform="translate(64.7 182.5) rotate(-90)" x="-6.2" y="0">10<tspan font-size="5.2" dy="-2.6">5</tspan></text>
<text x="200.1" y="285.6">10<tspan font-size="5.2" dy="-2.6">0</tspan></text>
<text x="220.1" y="285.6">10<tspan font-size="5.2" dy="-2.6">1</tspan></text>
<text x="240.1" y="285.6">10<tspan font-size="5.2" dy="-2.6">2</tspan></text>
<text x="258.8" y="285.6">10<tspan font-size="5.2" dy="-2.6">3</tspan></text>
<text x="279.8" y="285.6">10<tspan font-size="5.2" dy="-2.6">4</tspan></text>
<text x="297.8" y="285.6">10<tspan font-size="5.2" dy="-2.6">5</tspan></text>
<text transform="translate(199.1 275.4) rotate(-90)" x="-4.6" y="0">10<tspan font-size="5.2" dy="-2.6">0</tspan></text>
<text transform="translate(199.1 256.9) rotate(-90)" x="-4.6" y="0">10<tspan font-size="5.2" dy="-2.6">1</tspan></text>
<text transform="translate(199.1 238.4) rotate(-90)" x="-4.6" y="0">10<tspan font-size="5.2" dy="-2.6">2</tspan></text>
<text transform="translate(199.1 219.9) rotate(-90)" x="-4.6" y="0">10<tspan font-size="5.2" dy="-2.6">3</tspan></text>
<text transform="translate(199.1 201.4) rotate(-90)" x="-4.6" y="0">10<tspan font-size="5.2" dy="-2.6">4</tspan></text>
<text transform="translate(199.1 182.9) rotate(-90)" x="-6.2" y="0">10<tspan font-size="5.2" dy="-2.6">5</tspan></text>
<text x="336.1" y="287.2">10<tspan font-size="5.2" dy="-2.6">0</tspan></text>
<text x="355.9" y="287.2">10<tspan font-size="5.2" dy="-2.6">1</tspan></text>
<text x="375.8" y="287.2">10<tspan font-size="5.2" dy="-2.6">2</tspan></text>
<text x="394.2" y="287.2">10<tspan font-size="5.2" dy="-2.6">3</tspan></text>
<text x="415.1" y="287.2">10<tspan font-size="5.2" dy="-2.6">4</tspan></text>
<text x="432.9" y="287.2">10<tspan font-size="5.2" dy="-2.6">5</tspan></text>
<text transform="translate(335.1 277) rotate(-90)" x="-4.6" y="0">10<tspan font-size="5.2" dy="-2.6">0</tspan></text>
<text transform="translate(335.1 258.5) rotate(-90)" x="-4.6" y="0">10<tspan font-size="5.2" dy="-2.6">1</tspan></text>
<text transform="translate(335.1 240) rotate(-90)" x="-4.6" y="0">10<tspan font-size="5.2" dy="-2.6">2</tspan></text>
<text transform="translate(335.1 221.4) rotate(-90)" x="-4.6" y="0">10<tspan font-size="5.2" dy="-2.6">3</tspan></text>
<text transform="translate(335.1 202.9) rotate(-90)" x="-4.6" y="0">10<tspan font-size="5.2" dy="-2.6">4</tspan></text>
<text transform="translate(335.1 184.4) rotate(-90)" x="-6.2" y="0">10<tspan font-size="5.2" dy="-2.6">5</tspan></text>
<text x="470.4" y="287.2">10<tspan font-size="5.2" dy="-2.6">0</tspan></text>
<text x="490" y="287.2">10<tspan font-size="5.2" dy="-2.6">1</tspan></text>
<text x="509.7" y="287.2">10<tspan font-size="5.2" dy="-2.6">2</tspan></text>
<text x="527.9" y="287.2">10<tspan font-size="5.2" dy="-2.6">3</tspan></text>
<text x="548.6" y="287.2">10<tspan font-size="5.2" dy="-2.6">4</tspan></text>
<text x="566.2" y="287.2">10<tspan font-size="5.2" dy="-2.6">5</tspan></text>
<text transform="translate(469.4 277) rotate(-90)" x="-4.6" y="0">10<tspan font-size="5.2" dy="-2.6">0</tspan></text>
<text transform="translate(469.4 258.5) rotate(-90)" x="-4.6" y="0">10<tspan font-size="5.2" dy="-2.6">1</tspan></text>
<text transform="translate(469.4 240) rotate(-90)" x="-4.6" y="0">10<tspan font-size="5.2" dy="-2.6">2</tspan></text>
<text transform="translate(469.4 221.4) rotate(-90)" x="-4.6" y="0">10<tspan font-size="5.2" dy="-2.6">3</tspan></text>
<text transform="translate(469.4 202.9) rotate(-90)" x="-4.6" y="0">10<tspan font-size="5.2" dy="-2.6">4</tspan></text>
<text transform="translate(469.4 184.4) rotate(-90)" x="-6.2" y="0">10<tspan font-size="5.2" dy="-2.6">5</tspan></text>
<text x="66.3" y="477.3">10<tspan font-size="5.2" dy="-2.6">0</tspan></text>
<text x="85.4" y="477.3">10<tspan font-size="5.2" dy="-2.6">1</tspan></text>
<text x="104.5" y="477.3">10<tspan font-size="5.2" dy="-2.6">2</tspan></text>
<text x="122.2" y="477.3">10<tspan font-size="5.2" dy="-2.6">3</tspan></text>
<text x="142.3" y="477.3">10<tspan font-size="5.2" dy="-2.6">4</tspan></text>
<text x="159.4" y="477.3">10<tspan font-size="5.2" dy="-2.6">5</tspan></text>
<text transform="translate(65.3 467.1) rotate(-90)" x="-4.6" y="0">10<tspan font-size="5.2" dy="-2.6">0</tspan></text>
<text transform="translate(65.3 449) rotate(-90)" x="-4.6" y="0">10<tspan font-size="5.2" dy="-2.6">1</tspan></text>
<text transform="translate(65.3 431) rotate(-90)" x="-4.6" y="0">10<tspan font-size="5.2" dy="-2.6">2</tspan></text>
<text transform="translate(65.3 412.9) rotate(-90)" x="-4.6" y="0">10<tspan font-size="5.2" dy="-2.6">3</tspan></text>
<text transform="translate(65.3 394.9) rotate(-90)" x="-4.6" y="0">10<tspan font-size="5.2" dy="-2.6">4</tspan></text>
<text transform="translate(65.3 376.8) rotate(-90)" x="-6.2" y="0">10<tspan font-size="5.2" dy="-2.6">5</tspan></text>
<text x="205.9" y="475.4">10<tspan font-size="5.2" dy="-2.6">0</tspan></text>
<text x="224.8" y="475.4">10<tspan font-size="5.2" dy="-2.6">1</tspan></text>
<text x="243.6" y="475.4">10<tspan font-size="5.2" dy="-2.6">2</tspan></text>
<text x="261.1" y="475.4">10<tspan font-size="5.2" dy="-2.6">3</tspan></text>
<text x="280.9" y="475.4">10<tspan font-size="5.2" dy="-2.6">4</tspan></text>
<text x="297.8" y="475.4">10<tspan font-size="5.2" dy="-2.6">5</tspan></text>
<text transform="translate(204.9 465.2) rotate(-90)" x="-4.6" y="0">10<tspan font-size="5.2" dy="-2.6">0</tspan></text>
<text transform="translate(204.9 447.5) rotate(-90)" x="-4.6" y="0">10<tspan font-size="5.2" dy="-2.6">1</tspan></text>
<text transform="translate(204.9 429.8) rotate(-90)" x="-4.6" y="0">10<tspan font-size="5.2" dy="-2.6">2</tspan></text>
<text transform="translate(204.9 412.2) rotate(-90)" x="-4.6" y="0">10<tspan font-size="5.2" dy="-2.6">3</tspan></text>
<text transform="translate(204.9 394.5) rotate(-90)" x="-4.6" y="0">10<tspan font-size="5.2" dy="-2.6">4</tspan></text>
<text transform="translate(204.9 376.8) rotate(-90)" x="-6.2" y="0">10<tspan font-size="5.2" dy="-2.6">5</tspan></text>
<text x="343.4" y="475.4">10<tspan font-size="5.2" dy="-2.6">0</tspan></text>
<text x="362.4" y="475.4">10<tspan font-size="5.2" dy="-2.6">1</tspan></text>
<text x="381.5" y="475.4">10<tspan font-size="5.2" dy="-2.6">2</tspan></text>
<text x="399.1" y="475.4">10<tspan font-size="5.2" dy="-2.6">3</tspan></text>
<text x="419.2" y="475.4">10<tspan font-size="5.2" dy="-2.6">4</tspan></text>
<text x="436.2" y="475.4">10<tspan font-size="5.2" dy="-2.6">5</tspan></text>
<text transform="translate(342.4 465.2) rotate(-90)" x="-4.6" y="0">10<tspan font-size="5.2" dy="-2.6">0</tspan></text>
<text transform="translate(342.4 447.4) rotate(-90)" x="-4.6" y="0">10<tspan font-size="5.2" dy="-2.6">1</tspan></text>
<text transform="translate(342.4 429.6) rotate(-90)" x="-4.6" y="0">10<tspan font-size="5.2" dy="-2.6">2</tspan></text>
<text transform="translate(342.4 411.8) rotate(-90)" x="-4.6" y="0">10<tspan font-size="5.2" dy="-2.6">3</tspan></text>
<text transform="translate(342.4 394) rotate(-90)" x="-4.6" y="0">10<tspan font-size="5.2" dy="-2.6">4</tspan></text>
<text transform="translate(342.4 376.2) rotate(-90)" x="-6.2" y="0">10<tspan font-size="5.2" dy="-2.6">5</tspan></text>
<text x="483.4" y="475.4">10<tspan font-size="5.2" dy="-2.6">0</tspan></text>
<text x="502.3" y="475.4">10<tspan font-size="5.2" dy="-2.6">1</tspan></text>
<text x="521.2" y="475.4">10<tspan font-size="5.2" dy="-2.6">2</tspan></text>
<text x="538.7" y="475.4">10<tspan font-size="5.2" dy="-2.6">3</tspan></text>
<text x="558.6" y="475.4">10<tspan font-size="5.2" dy="-2.6">4</tspan></text>
<text x="575.5" y="475.4">10<tspan font-size="5.2" dy="-2.6">5</tspan></text>
<text transform="translate(482.4 465.2) rotate(-90)" x="-4.6" y="0">10<tspan font-size="5.2" dy="-2.6">0</tspan></text>
<text transform="translate(482.4 447.5) rotate(-90)" x="-4.6" y="0">10<tspan font-size="5.2" dy="-2.6">1</tspan></text>
<text transform="translate(482.4 429.8) rotate(-90)" x="-4.6" y="0">10<tspan font-size="5.2" dy="-2.6">2</tspan></text>
<text transform="translate(482.4 412) rotate(-90)" x="-4.6" y="0">10<tspan font-size="5.2" dy="-2.6">3</tspan></text>
<text transform="translate(482.4 394.3) rotate(-90)" x="-4.6" y="0">10<tspan font-size="5.2" dy="-2.6">4</tspan></text>
<text transform="translate(482.4 376.6) rotate(-90)" x="-6.2" y="0">10<tspan font-size="5.2" dy="-2.6">5</tspan></text>
<text x="66.3" y="598.4">10<tspan font-size="5.2" dy="-2.6">0</tspan></text>
<text x="85.4" y="598.4">10<tspan font-size="5.2" dy="-2.6">1</tspan></text>
<text x="104.5" y="598.4">10<tspan font-size="5.2" dy="-2.6">2</tspan></text>
<text x="122.2" y="598.4">10<tspan font-size="5.2" dy="-2.6">3</tspan></text>
<text x="142.3" y="598.4">10<tspan font-size="5.2" dy="-2.6">4</tspan></text>
<text x="159.4" y="598.4">10<tspan font-size="5.2" dy="-2.6">5</tspan></text>
<text transform="translate(65.3 588.2) rotate(-90)" x="-4.6" y="0">10<tspan font-size="5.2" dy="-2.6">0</tspan></text>
<text transform="translate(65.3 570.5) rotate(-90)" x="-4.6" y="0">10<tspan font-size="5.2" dy="-2.6">1</tspan></text>
<text transform="translate(65.3 552.8) rotate(-90)" x="-4.6" y="0">10<tspan font-size="5.2" dy="-2.6">2</tspan></text>
<text transform="translate(65.3 535) rotate(-90)" x="-4.6" y="0">10<tspan font-size="5.2" dy="-2.6">3</tspan></text>
<text transform="translate(65.3 517.3) rotate(-90)" x="-4.6" y="0">10<tspan font-size="5.2" dy="-2.6">4</tspan></text>
<text transform="translate(65.3 499.6) rotate(-90)" x="-6.2" y="0">10<tspan font-size="5.2" dy="-2.6">5</tspan></text>
<text x="202.4" y="599.3">10<tspan font-size="5.2" dy="-2.6">0</tspan></text>
<text x="221.6" y="599.3">10<tspan font-size="5.2" dy="-2.6">1</tspan></text>
<text x="240.7" y="599.3">10<tspan font-size="5.2" dy="-2.6">2</tspan></text>
<text x="258.5" y="599.3">10<tspan font-size="5.2" dy="-2.6">3</tspan></text>
<text x="278.6" y="599.3">10<tspan font-size="5.2" dy="-2.6">4</tspan></text>
<text x="295.8" y="599.3">10<tspan font-size="5.2" dy="-2.6">5</tspan></text>
<text transform="translate(201.4 589.1) rotate(-90)" x="-4.6" y="0">10<tspan font-size="5.2" dy="-2.6">0</tspan></text>
<text transform="translate(201.4 571.3) rotate(-90)" x="-4.6" y="0">10<tspan font-size="5.2" dy="-2.6">1</tspan></text>
<text transform="translate(201.4 553.5) rotate(-90)" x="-4.6" y="0">10<tspan font-size="5.2" dy="-2.6">2</tspan></text>
<text transform="translate(201.4 535.6) rotate(-90)" x="-4.6" y="0">10<tspan font-size="5.2" dy="-2.6">3</tspan></text>
<text transform="translate(201.4 517.8) rotate(-90)" x="-4.6" y="0">10<tspan font-size="5.2" dy="-2.6">4</tspan></text>
<text transform="translate(201.4 500) rotate(-90)" x="-6.2" y="0">10<tspan font-size="5.2" dy="-2.6">5</tspan></text>
<text x="344" y="599.3">10<tspan font-size="5.2" dy="-2.6">0</tspan></text>
<text x="363.5" y="599.3">10<tspan font-size="5.2" dy="-2.6">1</tspan></text>
<text x="383" y="599.3">10<tspan font-size="5.2" dy="-2.6">2</tspan></text>
<text x="401" y="599.3">10<tspan font-size="5.2" dy="-2.6">3</tspan></text>
<text x="421.5" y="599.3">10<tspan font-size="5.2" dy="-2.6">4</tspan></text>
<text x="439" y="599.3">10<tspan font-size="5.2" dy="-2.6">5</tspan></text>
<text transform="translate(343 589.1) rotate(-90)" x="-4.6" y="0">10<tspan font-size="5.2" dy="-2.6">0</tspan></text>
<text transform="translate(343 571.1) rotate(-90)" x="-4.6" y="0">10<tspan font-size="5.2" dy="-2.6">1</tspan></text>
<text transform="translate(343 553.1) rotate(-90)" x="-4.6" y="0">10<tspan font-size="5.2" dy="-2.6">2</tspan></text>
<text transform="translate(343 535) rotate(-90)" x="-4.6" y="0">10<tspan font-size="5.2" dy="-2.6">3</tspan></text>
<text transform="translate(343 517) rotate(-90)" x="-4.6" y="0">10<tspan font-size="5.2" dy="-2.6">4</tspan></text>
<text transform="translate(343 499) rotate(-90)" x="-6.2" y="0">10<tspan font-size="5.2" dy="-2.6">5</tspan></text>
<text x="484" y="599.7">10<tspan font-size="5.2" dy="-2.6">0</tspan></text>
<text x="503.6" y="599.7">10<tspan font-size="5.2" dy="-2.6">1</tspan></text>
<text x="523.1" y="599.7">10<tspan font-size="5.2" dy="-2.6">2</tspan></text>
<text x="541.3" y="599.7">10<tspan font-size="5.2" dy="-2.6">3</tspan></text>
<text x="561.8" y="599.7">10<tspan font-size="5.2" dy="-2.6">4</tspan></text>
<text x="579.4" y="599.7">10<tspan font-size="5.2" dy="-2.6">5</tspan></text>
<text transform="translate(483 589.5) rotate(-90)" x="-4.6" y="0">10<tspan font-size="5.2" dy="-2.6">0</tspan></text>
<text transform="translate(483 571.2) rotate(-90)" x="-4.6" y="0">10<tspan font-size="5.2" dy="-2.6">1</tspan></text>
<text transform="translate(483 553) rotate(-90)" x="-4.6" y="0">10<tspan font-size="5.2" dy="-2.6">2</tspan></text>
<text transform="translate(483 534.7) rotate(-90)" x="-4.6" y="0">10<tspan font-size="5.2" dy="-2.6">3</tspan></text>
<text transform="translate(483 516.5) rotate(-90)" x="-4.6" y="0">10<tspan font-size="5.2" dy="-2.6">4</tspan></text>
<text transform="translate(483 498.2) rotate(-90)" x="-6.2" y="0">10<tspan font-size="5.2" dy="-2.6">5</tspan></text>
</g>
<g font-size="10" fill="#1e1e1e" stroke="#1e1e1e" stroke-width="0.18" lengthAdjust="spacingAndGlyphs">
<text x="73.5" y="69.8" textLength="25.5" lengthAdjust="spacingAndGlyphs">2.15%</text>
<text x="137.7" y="69.8" textLength="25.5" lengthAdjust="spacingAndGlyphs">3.77%</text>
<text x="137.7" y="132.1" textLength="25.5" lengthAdjust="spacingAndGlyphs">3.09%</text>
<text x="71" y="140.2" textLength="30.5" lengthAdjust="spacingAndGlyphs">90.99%</text>
<text x="208.7" y="70" textLength="25.5" lengthAdjust="spacingAndGlyphs">2.87%</text>
<text x="273.5" y="70" textLength="30.5" lengthAdjust="spacingAndGlyphs">30.15%</text>
<text x="273.5" y="132.6" textLength="25.5" lengthAdjust="spacingAndGlyphs">6.99%</text>
<text x="206.3" y="141.1" textLength="30.5" lengthAdjust="spacingAndGlyphs">59.99%</text>
<text x="342.3" y="67.8" textLength="25.5" lengthAdjust="spacingAndGlyphs">2.33%</text>
<text x="407.1" y="67.8" textLength="30.5" lengthAdjust="spacingAndGlyphs">31.59%</text>
<text x="407.1" y="130.8" textLength="25.5" lengthAdjust="spacingAndGlyphs">3.52%</text>
<text x="339.4" y="138.6" textLength="33" lengthAdjust="spacingAndGlyphs">62.56 %</text>
<text x="478.1" y="69.6" textLength="25.5" lengthAdjust="spacingAndGlyphs">1.85%</text>
<text x="542.6" y="69.6" textLength="30.5" lengthAdjust="spacingAndGlyphs">52.71%</text>
<text x="542.6" y="132.6" textLength="25.5" lengthAdjust="spacingAndGlyphs">3.57%</text>
<text x="474.9" y="140.8" textLength="33" lengthAdjust="spacingAndGlyphs">41.87 %</text>
<text x="72.6" y="199.7" textLength="25.5" lengthAdjust="spacingAndGlyphs">1.96%</text>
<text x="137.6" y="199.7" textLength="25.5" lengthAdjust="spacingAndGlyphs">2.63%</text>
<text x="137.6" y="262.7" textLength="25.5" lengthAdjust="spacingAndGlyphs">1.75%</text>
<text x="70.1" y="270.5" textLength="33" lengthAdjust="spacingAndGlyphs">93.66 %</text>
<text x="207.7" y="200.5" textLength="25.5" lengthAdjust="spacingAndGlyphs">1.74%</text>
<text x="272.7" y="200.5" textLength="30.5" lengthAdjust="spacingAndGlyphs">31.14%</text>
<text x="272.7" y="263.3" textLength="25.5" lengthAdjust="spacingAndGlyphs">2.14%</text>
<text x="205.2" y="271.5" textLength="33" lengthAdjust="spacingAndGlyphs">64.98 %</text>
<text x="343.6" y="200.5" textLength="25.5" lengthAdjust="spacingAndGlyphs">1.43%</text>
<text x="407.8" y="200.5" textLength="25.5" lengthAdjust="spacingAndGlyphs">8.89%</text>
<text x="407.8" y="263.7" textLength="25.5" lengthAdjust="spacingAndGlyphs">2.46%</text>
<text x="340.9" y="271.9" textLength="33" lengthAdjust="spacingAndGlyphs">87.22 %</text>
<text x="477.7" y="200.7" textLength="25.5" lengthAdjust="spacingAndGlyphs">2.04%</text>
<text x="542.7" y="200.7" textLength="30.5" lengthAdjust="spacingAndGlyphs">48.45%</text>
<text x="542.7" y="263.7" textLength="24.9" lengthAdjust="spacingAndGlyphs">3.11%</text>
<text x="475.2" y="271.9" textLength="28" lengthAdjust="spacingAndGlyphs">46.4 %</text>
<text x="73" y="390.5" textLength="25.5" lengthAdjust="spacingAndGlyphs">2.15%</text>
<text x="137.6" y="390.5" textLength="25.5" lengthAdjust="spacingAndGlyphs">2.49%</text>
<text x="137.6" y="453.4" textLength="25.5" lengthAdjust="spacingAndGlyphs">2.26%</text>
<text x="70.7" y="461.3" textLength="30.5" lengthAdjust="spacingAndGlyphs">93.10%</text>
<text x="208.7" y="390.9" textLength="25.5" lengthAdjust="spacingAndGlyphs">2.33%</text>
<text x="272.7" y="390.9" textLength="30.5" lengthAdjust="spacingAndGlyphs">33.68%</text>
<text x="272.7" y="459.7" textLength="25.5" lengthAdjust="spacingAndGlyphs">2.06%</text>
<text x="210.1" y="461.3" textLength="30.5" lengthAdjust="spacingAndGlyphs">61.93%</text>
<text x="350.1" y="388.9" textLength="25.5" lengthAdjust="spacingAndGlyphs">2.01%</text>
<text x="406.4" y="388.9" textLength="30.5" lengthAdjust="spacingAndGlyphs">35.02%</text>
<text x="406.4" y="451.1" textLength="25.5" lengthAdjust="spacingAndGlyphs">1.87%</text>
<text x="349.1" y="459.3" textLength="30.5" lengthAdjust="spacingAndGlyphs">61.10%</text>
<text x="490.1" y="391.2" textLength="25.5" lengthAdjust="spacingAndGlyphs">2.45%</text>
<text x="552.7" y="387.9" textLength="30.5" lengthAdjust="spacingAndGlyphs">55.45%</text>
<text x="547.8" y="458.9" textLength="25.5" lengthAdjust="spacingAndGlyphs">2.24%</text>
<text x="488.7" y="460.9" textLength="30.5" lengthAdjust="spacingAndGlyphs">39.86%</text>
<text x="72.6" y="521.1" textLength="25.5" lengthAdjust="spacingAndGlyphs">1.87%</text>
<text x="136.6" y="521.1" textLength="25.5" lengthAdjust="spacingAndGlyphs">2.33%</text>
<text x="136.6" y="583.7" textLength="25.5" lengthAdjust="spacingAndGlyphs">1.56%</text>
<text x="72.6" y="583.7" textLength="30.5" lengthAdjust="spacingAndGlyphs">94.24%</text>
<text x="207.2" y="521.5" textLength="25.5" lengthAdjust="spacingAndGlyphs">2.38%</text>
<text x="274.6" y="512.9" textLength="30.5" lengthAdjust="spacingAndGlyphs">30.04%</text>
<text x="272.1" y="584" textLength="25.5" lengthAdjust="spacingAndGlyphs">1.42%</text>
<text x="207.2" y="587.2" textLength="30.5" lengthAdjust="spacingAndGlyphs">66.16%</text>
<text x="350.1" y="512.9" textLength="25.5" lengthAdjust="spacingAndGlyphs">2.06%</text>
<text x="415.6" y="511.3" textLength="30.5" lengthAdjust="spacingAndGlyphs">10.81%</text>
<text x="412.1" y="583.7" textLength="25.5" lengthAdjust="spacingAndGlyphs">1.81%</text>
<text x="350.1" y="583.7" textLength="30.5" lengthAdjust="spacingAndGlyphs">85.32%</text>
<text x="493" y="514.2" textLength="25.5" lengthAdjust="spacingAndGlyphs">2.72%</text>
<text x="554.6" y="511.3" textLength="30.5" lengthAdjust="spacingAndGlyphs">52.65%</text>
<text x="541.9" y="584.6" textLength="25.5" lengthAdjust="spacingAndGlyphs">1.23%</text>
<text x="491.1" y="584.6" textLength="30.5" lengthAdjust="spacingAndGlyphs">43.40%</text>
</g>
<g font-weight="bold" font-size="14.3" fill="#111">
<text x="100.9" y="48.3" textLength="34.9" lengthAdjust="spacingAndGlyphs">Blank</text>
<text x="227.7" y="46" textLength="48.5" lengthAdjust="spacingAndGlyphs">Emodin</text>
<text x="345.8" y="45.1" textLength="80.4" lengthAdjust="spacingAndGlyphs">Gemcitabine</text>
<text x="451.3" y="46" textLength="137.3" lengthAdjust="spacingAndGlyphs">Emodin+Gemcitabine</text>
<text x="98.8" y="367" textLength="34.9" lengthAdjust="spacingAndGlyphs">Blank</text>
<text x="235.5" y="365.4" textLength="47.5" lengthAdjust="spacingAndGlyphs">Emodin</text>
<text x="353.4" y="363.7" textLength="80.8" lengthAdjust="spacingAndGlyphs">Gemcitabine</text>
<text x="464.7" y="364.5" textLength="137.5" lengthAdjust="spacingAndGlyphs">Emodin+Gemcitabine</text>
<text x="599.7" y="105" textLength="42.5" lengthAdjust="spacingAndGlyphs">Panc-1</text>
<text x="599.7" y="234.8" textLength="79.5" lengthAdjust="spacingAndGlyphs">Panc-1/Gem</text>
<text x="593.8" y="425" textLength="75.4" lengthAdjust="spacingAndGlyphs">MIA-PaCa-2</text>
<text x="593.8" y="553.6" textLength="111.1" lengthAdjust="spacingAndGlyphs">MIA-PaCa-2/Gem</text>
<text x="275.1" y="323" textLength="95.3" lengthAdjust="spacingAndGlyphs">Annexin V FITC</text>
<text x="274.8" y="640.6" textLength="95.4" lengthAdjust="spacingAndGlyphs">Annexin V FITC</text>
</g>
<g font-weight="bold" font-size="14.4" fill="#111">
<text transform="translate(29 172.3) rotate(-90)" textLength="11.4" lengthAdjust="spacingAndGlyphs">PI</text>
<text transform="translate(29 489.8) rotate(-90)" textLength="11.4" lengthAdjust="spacingAndGlyphs">PI</text>
</g>
<rect x="727.1" y="208.7" width="12.2" height="9.2" fill="#0d0d0d"/><rect x="743.9" y="169.6" width="12.2" height="48.3" fill="#9a9a9a"/><rect x="760.3" y="172.1" width="12.1" height="45.8" fill="#7b7b7b"/><rect x="776.7" y="144.9" width="12.1" height="73" fill="#d5d5d5"/><rect x="804.2" y="211.4" width="12.6" height="6.5" fill="#0d0d0d"/><rect x="821" y="174.5" width="12.2" height="43.4" fill="#9a9a9a"/><rect x="837.2" y="202.5" width="12.8" height="15.4" fill="#7b7b7b"/><rect x="854" y="151.1" width="12.8" height="66.8" fill="#d5d5d5"/><path d="M750 169.6V166.1M747.5 166.1h5M766.3 172.1V169.4M763.8 169.4h5M782.8 144.9V139.6M780.2 139.6h5M827.1 174.5V171.9M824.6 171.9h5M843.6 202.5V202.1M841.1 202.1h5M860.4 151.1V146.2M857.9 146.2h5" stroke="#111" stroke-width="1.5" fill="none"/><path d="M719.3 115.4V217.9M716.3 217.9H873.8M716.3 217.9h3M716.3 192.3h3M716.3 166.7h3M716.3 141h3M716.3 115.4h3M757.6 217.9v2.5M834.5 217.9v2.5" stroke="#222" stroke-width="1" fill="none"/><g font-size="7.6" font-weight="bold" fill="#222" text-anchor="end"><text x="715.7" y="220.5">0</text><text x="715.7" y="194.9">20</text><text x="715.7" y="169.2">40</text><text x="715.7" y="143.6">60</text><text x="715.7" y="118">80</text></g><g font-size="9.6" fill="#1a1a1a" stroke="#1a1a1a" stroke-width="0.12" text-anchor="middle"><text x="733.3" y="203.6">bc</text><text x="749.9" y="162">ac</text><text x="766.2" y="164.5">ac</text><text x="782.1" y="131.5">ab</text><text x="810.5" y="208">bc</text><text x="827.2" y="166.2">ac</text><text x="843.6" y="197.2">abc</text><text x="858.7" y="136">ab</text></g><g font-size="7.8" font-weight="bold" fill="#222" text-anchor="middle"><text x="757.6" y="228.5" textLength="23.5" lengthAdjust="spacingAndGlyphs">Panc-1</text><text x="834.5" y="228.5" textLength="44" lengthAdjust="spacingAndGlyphs">Panc-1/Gem</text></g><text x="793" y="103.1" font-size="9.4" font-weight="bold" fill="#111">A</text><text transform="translate(701.8 166) rotate(-90)" text-anchor="middle" font-size="8.8" font-weight="bold" fill="#222" textLength="77" lengthAdjust="spacingAndGlyphs">Apoptosis rate (%)</text><rect x="883.8" y="119.3" width="12.3" height="6.1" fill="#0d0d0d"/><text x="901.8" y="125.5" font-size="9.2" fill="#1a1a1a" stroke="#1a1a1a" stroke-width="0.12" textLength="20.2" lengthAdjust="spacingAndGlyphs">Blank</text><rect x="883.8" y="131.1" width="12.3" height="6" fill="#9a9a9a"/><text x="901.8" y="137.3" font-size="9.2" fill="#1a1a1a" stroke="#1a1a1a" stroke-width="0.12" textLength="28" lengthAdjust="spacingAndGlyphs">Emodin</text><rect x="883.8" y="142.8" width="12.3" height="6.1" fill="#7b7b7b"/><text x="901.8" y="149.1" font-size="9.2" fill="#1a1a1a" stroke="#1a1a1a" stroke-width="0.12" textLength="46.2" lengthAdjust="spacingAndGlyphs">Gemcitabine</text><rect x="883.8" y="154.4" width="12.3" height="6.2" fill="#d5d5d5"/><text x="901.8" y="160.7" font-size="9.2" fill="#1a1a1a" stroke="#1a1a1a" stroke-width="0.12" textLength="80" lengthAdjust="spacingAndGlyphs">Emodin+Gemcitabine</text>
<rect x="725.3" y="528.3" width="12.4" height="6.6" fill="#0d0d0d"/><rect x="742.2" y="488" width="12.4" height="46.9" fill="#9a9a9a"/><rect x="759.1" y="486.8" width="12.1" height="48.1" fill="#7b7b7b"/><rect x="775.8" y="459.9" width="12.2" height="75" fill="#d5d5d5"/><rect x="803.2" y="529.5" width="12.3" height="5.4" fill="#0d0d0d"/><rect x="819.9" y="494.1" width="12.3" height="40.8" fill="#9a9a9a"/><rect x="836.4" y="518.1" width="12.5" height="16.8" fill="#7b7b7b"/><rect x="853.1" y="465" width="12.4" height="69.9" fill="#d5d5d5"/><path d="M748.4 488V485.1M745.9 485.1h5M765.2 486.8V483.9M762.7 483.9h5M781.9 459.9V454.3M779.4 454.3h5M826 494.1V490.6M823.5 490.6h5M842.6 518.1V517.9M840.1 517.9h5M859.3 465V459.7M856.8 459.7h5" stroke="#111" stroke-width="1.5" fill="none"/><path d="M717.6 431.3V534.9M714.6 534.9H873.4M714.6 534.9h3M714.6 509h3M714.6 483.1h3M714.6 457.2h3M714.6 431.3h3M755.2 534.9v2.5M833.8 534.9v2.5" stroke="#222" stroke-width="1" fill="none"/><g font-size="7.6" font-weight="bold" fill="#222" text-anchor="end"><text x="714" y="537.5">0</text><text x="714" y="511.6">20</text><text x="714" y="485.7">40</text><text x="714" y="459.8">60</text><text x="714" y="433.9">80</text></g><g font-size="9.6" fill="#1a1a1a" stroke="#1a1a1a" stroke-width="0.12" text-anchor="middle"><text x="731.9" y="522.5">bc</text><text x="748.6" y="479">ac</text><text x="764.9" y="477.7">ac</text><text x="780.3" y="449">ab</text><text x="809.9" y="525">bc</text><text x="826.2" y="484.5">ac</text><text x="842.6" y="514.1">abc</text><text x="858.6" y="452.7">ab</text></g><g font-size="7.8" font-weight="bold" fill="#222" text-anchor="middle"><text x="755.2" y="546.3" textLength="40.7" lengthAdjust="spacingAndGlyphs">MIA-PaCa-2</text><text x="833.8" y="546.3" textLength="62.7" lengthAdjust="spacingAndGlyphs">MIA-PaCa-2/Gem</text></g><text x="791.9" y="418.9" font-size="9.4" font-weight="bold" fill="#111">B</text><text transform="translate(700.4 483) rotate(-90)" text-anchor="middle" font-size="8.8" font-weight="bold" fill="#222" textLength="77" lengthAdjust="spacingAndGlyphs">Apoptosis rate (%)</text><rect x="883" y="435.5" width="13.1" height="6.8" fill="#0d0d0d"/><text x="901.2" y="442.1" font-size="9.2" fill="#1a1a1a" stroke="#1a1a1a" stroke-width="0.12" textLength="20.2" lengthAdjust="spacingAndGlyphs">Blank</text><rect x="883" y="447.4" width="13.1" height="6.3" fill="#9a9a9a"/><text x="901.2" y="453.7" font-size="9.2" fill="#1a1a1a" stroke="#1a1a1a" stroke-width="0.12" textLength="28" lengthAdjust="spacingAndGlyphs">Emodin</text><rect x="883" y="459.2" width="13.1" height="6.6" fill="#7b7b7b"/><text x="901.2" y="465.7" font-size="9.2" fill="#1a1a1a" stroke="#1a1a1a" stroke-width="0.12" textLength="46.2" lengthAdjust="spacingAndGlyphs">Gemcitabine</text><rect x="883" y="470.9" width="13.1" height="7" fill="#d5d5d5"/><text x="901.2" y="477.6" font-size="9.2" fill="#1a1a1a" stroke="#1a1a1a" stroke-width="0.12" textLength="80" lengthAdjust="spacingAndGlyphs">Emodin+Gemcitabine</text>
<g font-size="13.8" fill="#1e1e28" stroke="#1e1e28" stroke-width="0.15" word-spacing="2.5">
<text x="13.5" y="675.9" textLength="52.9" lengthAdjust="spacingAndGlyphs"><tspan font-weight="bold">Figure 2</tspan></text>
<text x="72.3" y="675.9" textLength="276.5" lengthAdjust="spacingAndGlyphs">Cell apoptosis was detected by Flow cytometry.</text>
<text x="355.1" y="675.9" textLength="400.1" lengthAdjust="spacingAndGlyphs">(<tspan font-weight="bold">A</tspan>) Emodin’s effect on cell apoptosis of Panc-1 and Panc-1/Gem cells.</text>
<text x="761" y="675.9" textLength="226.3" lengthAdjust="spacingAndGlyphs">(<tspan font-weight="bold">B</tspan>) Emodin’s effect on cell apoptosis of</text>
<text x="13.5" y="694.1" textLength="229.5" lengthAdjust="spacingAndGlyphs">MIA-PaCa-2 and MIA-PaCa-2/Gem cells.</text>
<text x="249.3" y="694.1" textLength="217.1" lengthAdjust="spacingAndGlyphs"><tspan font-size="9" dy="-5">a</tspan><tspan font-style="italic" dy="5">P</tspan>&lt;0.05 compared to the blank group,</text>
<text x="471.8" y="694.1" textLength="212.1" lengthAdjust="spacingAndGlyphs"><tspan font-size="9" dy="-5">b</tspan><tspan font-style="italic" dy="5">P</tspan>&lt;0.05 compared to emodin group,</text>
<text x="689.8" y="694.1" textLength="249" lengthAdjust="spacingAndGlyphs"><tspan font-size="9" dy="-5">c</tspan><tspan font-style="italic" dy="5">P</tspan>&lt;0.05 compared to the gemcitabine group.</text>
</g>
</svg></body></html>
